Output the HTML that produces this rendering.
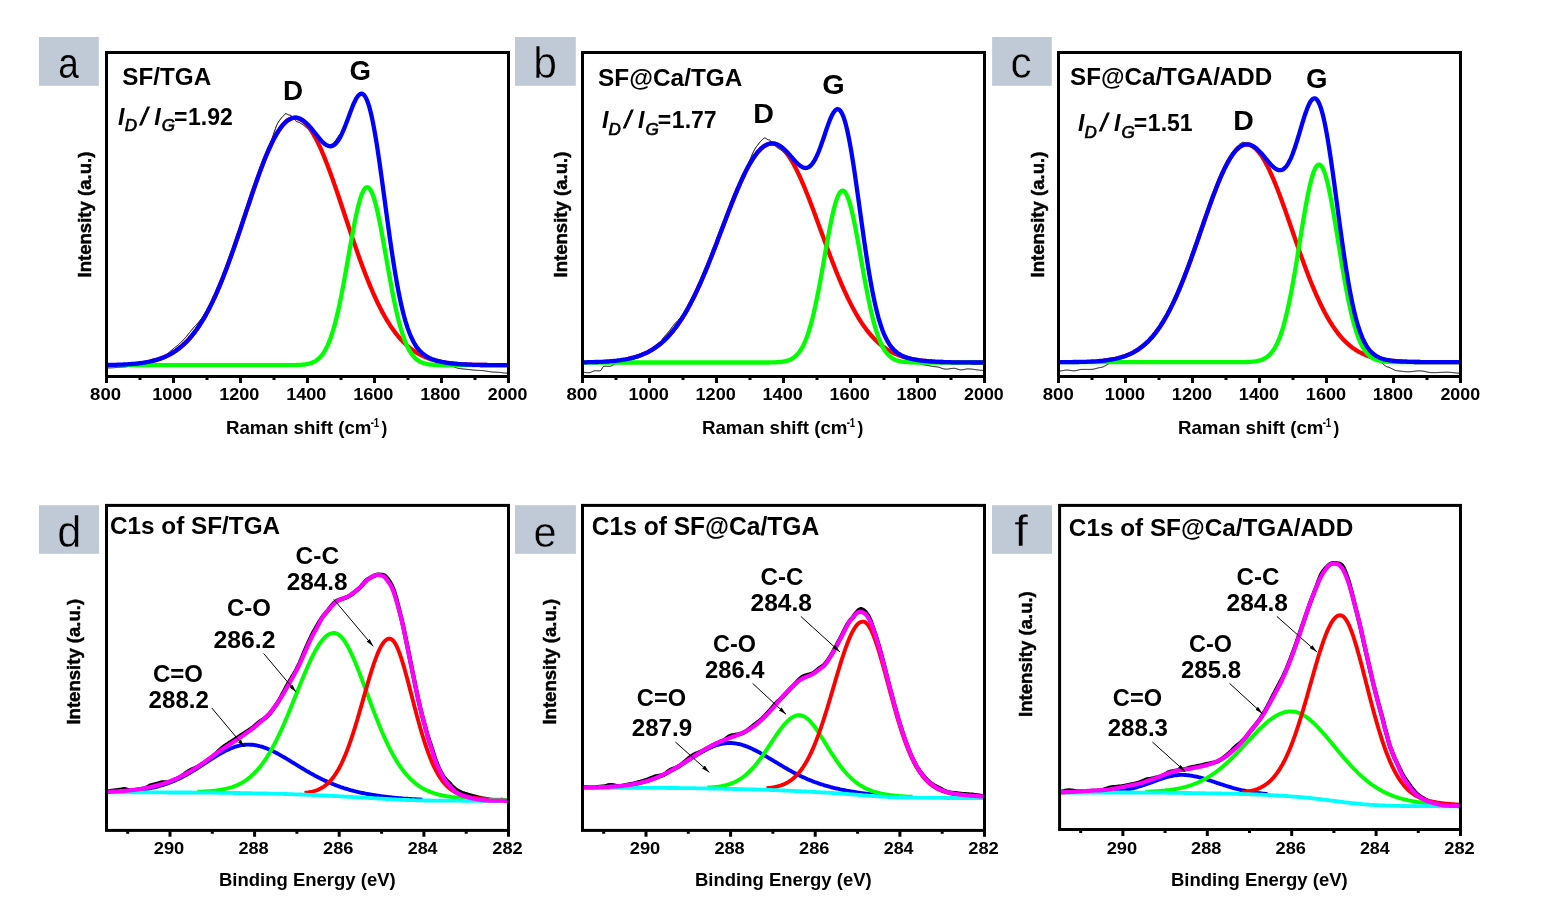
<!DOCTYPE html>
<html><head><meta charset="utf-8"><title>Raman and XPS</title>
<style>
html,body{margin:0;padding:0;background:#fff;}
svg{display:block}
text{font-family:"Liberation Sans", Arial, sans-serif;font-weight:700;fill:#000}
.lab{font-family:"Liberation Sans", Arial, sans-serif;font-weight:400}
</style></head><body>
<svg width="1545" height="907" viewBox="0 0 1545 907">
<rect width="1545" height="907" fill="#fff"/>
<clipPath id="ct0"><rect x="106.5" y="52.5" width="402.0" height="324.0"/></clipPath>
<g clip-path="url(#ct0)">
<path d="M106.5,368.0 L107.5,368.0 L108.5,367.9 L109.5,367.9 L110.5,367.9 L111.5,367.8 L112.5,367.8 L113.5,367.7 L114.5,367.6 L115.5,367.6 L116.5,367.5 L117.5,367.4 L118.5,367.4 L119.5,367.3 L120.5,367.2 L121.5,367.2 L122.5,367.1 L123.5,367.0 L124.5,367.0 L125.5,366.9 L126.5,366.8 L127.5,366.6 L128.5,366.3 L129.5,366.0 L130.5,365.5 L131.5,365.1 L132.5,364.6 L133.5,364.2 L134.5,363.9 L135.5,363.7 L136.5,363.6 L137.5,363.5 L138.5,363.4 L139.5,363.2 L140.5,363.1 L141.5,363.0 L142.5,362.8 L143.5,362.7 L144.5,362.5 L145.5,362.4 L146.5,362.2 L147.5,362.0 L148.5,361.8 L149.5,361.6 L150.5,361.4 L151.5,361.2 L152.5,360.9 L153.5,360.7 L154.5,360.4 L155.5,360.2 L156.5,359.9 L157.5,359.6 L158.5,359.2 L159.5,358.9 L160.5,358.5 L161.5,358.1 L162.5,357.6 L163.5,356.9 L164.5,356.2 L165.5,355.5 L166.5,354.7 L167.5,353.8 L168.5,352.9 L169.5,352.0 L170.5,351.1 L171.5,350.3 L172.5,349.4 L173.5,348.5 L174.5,347.7 L175.5,347.0 L176.5,346.3 L177.5,345.5 L178.5,344.7 L179.5,343.8 L180.5,342.8 L181.5,341.8 L182.5,340.8 L183.5,339.7 L184.5,338.6 L185.5,337.4 L186.5,336.3 L187.5,335.1 L188.5,333.8 L189.5,332.6 L190.5,331.4 L191.5,330.2 L192.5,329.0 L193.5,327.8 L194.5,326.7 L195.5,325.6 L196.5,324.5 L197.5,323.4 L198.5,322.3 L199.5,321.1 L200.5,319.9 L201.5,318.6 L202.5,317.2 L203.5,315.7 L204.5,314.1 L205.5,312.4 L206.5,310.8 L207.5,309.4 L208.5,308.0 L209.5,306.6 L210.5,305.2 L211.5,303.6 L212.5,301.7 L213.5,299.7 L214.5,297.5 L215.5,295.3 L216.5,293.1 L217.5,290.8 L218.5,288.4 L219.5,286.1 L220.5,283.7 L221.5,281.2 L222.5,278.7 L223.5,276.2 L224.5,273.6 L225.5,271.0 L226.5,268.4 L227.5,265.7 L228.5,263.0 L229.5,260.3 L230.5,257.5 L231.5,254.8 L232.5,252.0 L233.5,249.3 L234.5,246.7 L235.5,244.3 L236.5,241.9 L237.5,239.5 L238.5,237.1 L239.5,234.6 L240.5,232.1 L241.5,229.4 L242.5,226.6 L243.5,223.6 L244.5,220.6 L245.5,217.5 L246.5,214.4 L247.5,211.3 L248.5,208.2 L249.5,205.1 L250.5,202.0 L251.5,199.0 L252.5,195.9 L253.5,192.9 L254.5,190.0 L255.5,187.1 L256.5,184.1 L257.5,181.0 L258.5,177.8 L259.5,174.6 L260.5,171.5 L261.5,168.4 L262.5,165.4 L263.5,162.5 L264.5,159.8 L265.5,157.2 L266.5,154.2 L267.5,151.0 L268.5,147.9 L269.5,145.1 L270.5,142.7 L271.5,140.1 L272.5,137.2 L273.5,134.2 L274.5,131.2 L275.5,128.3 L276.5,125.7 L277.5,123.6 L278.5,121.9 L279.5,120.5 L280.5,119.1 L281.5,117.9 L282.5,116.8 L283.5,115.7 L284.5,114.7 L285.5,113.8 L286.5,113.8 L287.5,114.3 L288.5,114.9 L289.5,115.1 L290.5,115.0 L291.5,116.3 L292.5,117.7 L293.5,118.0 L294.5,119.0 L295.5,120.4 L296.5,121.6 L297.5,121.9 L298.5,122.2 L299.5,122.6 L300.5,123.2 L301.5,123.8 L302.5,124.5 L303.5,125.2 L304.5,126.0 L305.5,126.9 L306.5,127.7 L307.5,128.5 L308.5,129.4 L309.5,130.2 L310.5,131.2 L311.5,132.1 L312.5,133.1 L313.5,134.2 L314.5,135.4 L315.5,136.7 L316.5,137.8 L317.5,138.7 L318.5,139.6 L319.5,140.4 L320.5,141.1 L321.5,141.7 L322.5,142.4 L323.5,143.1 L324.5,143.8 L325.5,144.5 L326.5,144.9 L327.5,145.1 L328.5,145.0 L329.5,144.8 L330.5,144.5 L331.5,144.2 L332.5,143.8 L333.5,143.1 L334.5,142.0 L335.5,140.6 L336.5,139.1 L337.5,137.6 L338.5,136.1 L339.5,134.9 L340.5,133.8 L341.5,132.6 L342.5,131.3 L343.5,129.7 L344.5,127.7 L345.5,125.2 L346.5,122.6 L347.5,119.9 L348.5,117.2 L349.5,114.5 L350.5,111.8 L351.5,109.2 L352.5,106.6 L353.5,104.2 L354.5,102.0 L355.5,100.0 L356.5,98.1 L357.5,96.6 L358.5,95.4 L359.5,94.4 L360.5,93.9 L361.5,93.7 L362.5,93.9 L363.5,94.5 L364.5,95.6 L365.5,97.1 L366.5,99.1 L367.5,101.5 L368.5,104.4 L369.5,107.7 L370.5,111.5 L371.5,115.7 L372.5,120.4 L373.5,125.4 L374.5,130.8 L375.5,136.6 L376.5,142.7 L377.5,149.0 L378.5,155.7 L379.5,162.5 L380.5,169.6 L381.5,176.8 L382.5,184.1 L383.5,191.5 L384.5,198.9 L385.5,206.4 L386.5,213.8 L387.5,221.1 L388.5,228.4 L389.5,235.6 L390.5,242.6 L391.5,249.5 L392.5,256.1 L393.5,262.6 L394.5,268.9 L395.5,274.9 L396.5,280.7 L397.5,286.2 L398.5,291.5 L399.5,296.5 L400.5,301.3 L401.5,305.8 L402.5,310.0 L403.5,314.0 L404.5,317.8 L405.5,321.3 L406.5,324.5 L407.5,327.6 L408.5,330.5 L409.5,333.4 L410.5,336.4 L411.5,339.3 L412.5,342.0 L413.5,344.4 L414.5,346.5 L415.5,348.1 L416.5,349.5 L417.5,350.7 L418.5,351.7 L419.5,352.6 L420.5,353.4 L421.5,354.1 L422.5,354.7 L423.5,355.4 L424.5,356.0 L425.5,356.7 L426.5,357.1 L427.5,357.3 L428.5,357.5 L429.5,357.6 L430.5,357.7 L431.5,357.9 L432.5,358.3 L433.5,358.7 L434.5,359.1 L435.5,359.5 L436.5,359.9 L437.5,360.3 L438.5,360.7 L439.5,361.0 L440.5,361.4 L441.5,361.7 L442.5,362.0 L443.5,362.2 L444.5,362.4 L445.5,362.7 L446.5,363.3 L447.5,364.2 L448.5,365.0 L449.5,365.6 L450.5,365.8 L451.5,366.0 L452.5,366.3 L453.5,366.7 L454.5,367.1 L455.5,367.5 L456.5,367.8 L457.5,368.2 L458.5,368.4 L459.5,368.6 L460.5,368.7 L461.5,368.8 L462.5,368.9 L463.5,369.0 L464.5,369.1 L465.5,369.2 L466.5,369.3 L467.5,369.4 L468.5,369.5 L469.5,369.6 L470.5,369.7 L471.5,369.8 L472.5,370.0 L473.5,370.1 L474.5,370.1 L475.5,370.2 L476.5,370.3 L477.5,370.4 L478.5,370.4 L479.5,370.4 L480.5,370.5 L481.5,370.5 L482.5,370.6 L483.5,370.7 L484.5,370.8 L485.5,371.0 L486.5,371.1 L487.5,371.3 L488.5,371.5 L489.5,371.6 L490.5,371.8 L491.5,371.9 L492.5,372.0 L493.5,372.1 L494.5,372.1 L495.5,372.1 L496.5,372.2 L497.5,372.2 L498.5,372.3 L499.5,372.4 L500.5,372.5 L501.5,372.6 L502.5,372.7 L503.5,372.9 L504.5,373.0 L505.5,373.0 L506.5,373.1 L507.5,373.2 L508.5,373.2" fill="none" stroke="#000" stroke-width="1" stroke-linejoin="round" stroke-linecap="butt" />
<path d="M150.5,361.4 L151.5,361.2 L152.5,360.9 L153.5,360.7 L154.5,360.4 L155.5,360.2 L156.5,359.9 L157.5,359.6 L158.5,359.2 L159.5,358.9 L160.5,358.6 L161.5,358.2 L162.5,357.8 L163.5,357.4 L164.5,357.0 L165.5,356.6 L166.5,356.1 L167.5,355.6 L168.5,355.1 L169.5,354.6 L170.5,354.1 L171.5,353.5 L172.5,352.9 L173.5,352.3 L174.5,351.6 L175.5,351.0 L176.5,350.3 L177.5,349.6 L178.5,348.8 L179.5,348.0 L180.5,347.2 L181.5,346.4 L182.5,345.5 L183.5,344.6 L184.5,343.7 L185.5,342.7 L186.5,341.7 L187.5,340.7 L188.5,339.6 L189.5,338.5 L190.5,337.3 L191.5,336.2 L192.5,334.9 L193.5,333.7 L194.5,332.4 L195.5,331.0 L196.5,329.7 L197.5,328.2 L198.5,326.8 L199.5,325.3 L200.5,323.7 L201.5,322.1 L202.5,320.5 L203.5,318.8 L204.5,317.1 L205.5,315.4 L206.5,313.5 L207.5,311.7 L208.5,309.8 L209.5,307.9 L210.5,305.9 L211.5,303.9 L212.5,301.8 L213.5,299.7 L214.5,297.5 L215.5,295.3 L216.5,293.1 L217.5,290.8 L218.5,288.4 L219.5,286.1 L220.5,283.7 L221.5,281.2 L222.5,278.7 L223.5,276.2 L224.5,273.6 L225.5,271.0 L226.5,268.4 L227.5,265.7 L228.5,263.0 L229.5,260.3 L230.5,257.5 L231.5,254.8 L232.5,251.9 L233.5,249.1 L234.5,246.2 L235.5,243.3 L236.5,240.4 L237.5,237.5 L238.5,234.5 L239.5,231.6 L240.5,228.6 L241.5,225.6 L242.5,222.6 L243.5,219.6 L244.5,216.6 L245.5,213.6 L246.5,210.6 L247.5,207.6 L248.5,204.7 L249.5,201.7 L250.5,198.7 L251.5,195.8 L252.5,192.8 L253.5,189.9 L254.5,187.0 L255.5,184.1 L256.5,181.3 L257.5,178.5 L258.5,175.7 L259.5,172.9 L260.5,170.2 L261.5,167.5 L262.5,164.9 L263.5,162.3 L264.5,159.8 L265.5,157.3 L266.5,154.9 L267.5,152.5 L268.5,150.2 L269.5,148.0 L270.5,145.8 L271.5,143.7 L272.5,141.6 L273.5,139.6 L274.5,137.7 L275.5,135.9 L276.5,134.2 L277.5,132.5 L278.5,130.9 L279.5,129.4 L280.5,128.0 L281.5,126.7 L282.5,125.4 L283.5,124.3 L284.5,123.2 L285.5,122.2 L286.5,121.3 L287.5,120.6 L288.5,119.9 L289.5,119.3 L290.5,118.8 L291.5,118.4 L292.5,118.1 L293.5,117.9 L294.5,117.8 L295.5,117.8 L296.5,117.9 L297.5,118.1 L298.5,118.4 L299.5,118.8 L300.5,119.3 L301.5,119.9 L302.5,120.6 L303.5,121.4 L304.5,122.3 L305.5,123.2 L306.5,124.3 L307.5,125.5 L308.5,126.7 L309.5,128.1 L310.5,129.5 L311.5,131.0 L312.5,132.6 L313.5,134.3 L314.5,136.1 L315.5,137.9 L316.5,139.8 L317.5,141.8 L318.5,143.9 L319.5,146.0 L320.5,148.2 L321.5,150.5 L322.5,152.8 L323.5,155.2 L324.5,157.6 L325.5,160.1 L326.5,162.7 L327.5,165.3 L328.5,167.9 L329.5,170.6 L330.5,173.3 L331.5,176.1 L332.5,178.9 L333.5,181.7 L334.5,184.6 L335.5,187.5 L336.5,190.4 L337.5,193.3 L338.5,196.3 L339.5,199.2 L340.5,202.2 L341.5,205.2 L342.5,208.2 L343.5,211.2 L344.5,214.2 L345.5,217.3 L346.5,220.3 L347.5,223.3 L348.5,226.3 L349.5,229.3 L350.5,232.2 L351.5,235.2 L352.5,238.2 L353.5,241.1 L354.5,244.0 L355.5,246.9 L356.5,249.8 L357.5,252.6 L358.5,255.5 L359.5,258.3 L360.5,261.0 L361.5,263.8 L362.5,266.5 L363.5,269.1 L364.5,271.8 L365.5,274.4 L366.5,276.9 L367.5,279.5 L368.5,281.9 L369.5,284.4 L370.5,286.8 L371.5,289.2 L372.5,291.5 L373.5,293.8 L374.5,296.0 L375.5,298.2 L376.5,300.4 L377.5,302.5 L378.5,304.5 L379.5,306.6 L380.5,308.5 L381.5,310.5 L382.5,312.4 L383.5,314.2 L384.5,316.0 L385.5,317.7 L386.5,319.5 L387.5,321.1 L388.5,322.7 L389.5,324.3 L390.5,325.9 L391.5,327.4 L392.5,328.8 L393.5,330.2 L394.5,331.6 L395.5,332.9 L396.5,334.2 L397.5,335.4 L398.5,336.7 L399.5,337.8 L400.5,339.0 L401.5,340.1 L402.5,341.1 L403.5,342.2 L404.5,343.1 L405.5,344.1 L406.5,345.0 L407.5,345.9 L408.5,346.8 L409.5,347.6 L410.5,348.4 L411.5,349.2 L412.5,349.9 L413.5,350.6 L414.5,351.3 L415.5,352.0 L416.5,352.6 L417.5,353.2 L418.5,353.8 L419.5,354.3 L420.5,354.9 L421.5,355.4 L422.5,355.9 L423.5,356.3 L424.5,356.8 L425.5,357.2 L426.5,357.6 L427.5,358.0 L428.5,358.4 L429.5,358.8 L430.5,359.1 L431.5,359.4 L432.5,359.7 L433.5,360.0 L434.5,360.3 L435.5,360.6 L436.5,360.8 L437.5,361.1 L438.5,361.3 L439.5,361.5 L440.5,361.7 L441.5,361.9 L442.5,362.1 L443.5,362.3 L444.5,362.5 L445.5,362.6 L446.5,362.8 L447.5,362.9 L448.5,363.1 L449.5,363.2 L450.5,363.3 L451.5,363.4 L452.5,363.5 L453.5,363.6 L454.5,363.7 L455.5,363.8 L456.5,363.9 L457.5,364.0 L458.5,364.1 L459.5,364.1 L460.5,364.2 L461.5,364.3 L462.5,364.3 L463.5,364.4 L464.5,364.4 L465.5,364.5 L466.5,364.5 L467.5,364.6 L468.5,364.6 L469.5,364.7 L470.5,364.7 L471.5,364.7 L472.5,364.8 L473.5,364.8 L474.5,364.8 L475.5,364.9 L476.5,364.9 L477.5,364.9 L478.5,364.9 L479.5,364.9 L480.5,365.0 L481.5,365.0 L482.5,365.0 L483.5,365.0 L484.5,365.0 L485.5,365.0 L486.5,365.0 L487.5,365.1 L488.5,365.1 L489.5,365.1 L490.5,365.1 L491.5,365.1 L492.5,365.1 L493.5,365.1 L494.5,365.1 L495.5,365.1 L496.5,365.1 L497.5,365.1 L498.5,365.1 L499.5,365.1 L500.5,365.2 L501.5,365.2 L502.5,365.2 L503.5,365.2 L504.5,365.2 L505.5,365.2 L506.5,365.2 L507.5,365.2 L508.5,365.2" fill="none" stroke="#ff0000" stroke-width="4.3" stroke-linejoin="round" stroke-linecap="butt" />
<path d="M106.5,365.2 L107.5,365.2 L108.5,365.2 L109.5,365.2 L110.5,365.2 L111.5,365.2 L112.5,365.2 L113.5,365.2 L114.5,365.2 L115.5,365.2 L116.5,365.2 L117.5,365.2 L118.5,365.2 L119.5,365.2 L120.5,365.2 L121.5,365.2 L122.5,365.2 L123.5,365.2 L124.5,365.2 L125.5,365.2 L126.5,365.2 L127.5,365.2 L128.5,365.2 L129.5,365.2 L130.5,365.2 L131.5,365.2 L132.5,365.2 L133.5,365.2 L134.5,365.2 L135.5,365.2 L136.5,365.2 L137.5,365.2 L138.5,365.2 L139.5,365.2 L140.5,365.2 L141.5,365.2 L142.5,365.2 L143.5,365.2 L144.5,365.2 L145.5,365.2 L146.5,365.2 L147.5,365.2 L148.5,365.2 L149.5,365.2 L150.5,365.2 L151.5,365.2 L152.5,365.2 L153.5,365.2 L154.5,365.2 L155.5,365.2 L156.5,365.2 L157.5,365.2 L158.5,365.2 L159.5,365.2 L160.5,365.2 L161.5,365.2 L162.5,365.2 L163.5,365.2 L164.5,365.2 L165.5,365.2 L166.5,365.2 L167.5,365.2 L168.5,365.2 L169.5,365.2 L170.5,365.2 L171.5,365.2 L172.5,365.2 L173.5,365.2 L174.5,365.2 L175.5,365.2 L176.5,365.2 L177.5,365.2 L178.5,365.2 L179.5,365.2 L180.5,365.2 L181.5,365.2 L182.5,365.2 L183.5,365.2 L184.5,365.2 L185.5,365.2 L186.5,365.2 L187.5,365.2 L188.5,365.2 L189.5,365.2 L190.5,365.2 L191.5,365.2 L192.5,365.2 L193.5,365.2 L194.5,365.2 L195.5,365.2 L196.5,365.2 L197.5,365.2 L198.5,365.2 L199.5,365.2 L200.5,365.2 L201.5,365.2 L202.5,365.2 L203.5,365.2 L204.5,365.2 L205.5,365.2 L206.5,365.2 L207.5,365.2 L208.5,365.2 L209.5,365.2 L210.5,365.2 L211.5,365.2 L212.5,365.2 L213.5,365.2 L214.5,365.2 L215.5,365.2 L216.5,365.2 L217.5,365.2 L218.5,365.2 L219.5,365.2 L220.5,365.2 L221.5,365.2 L222.5,365.2 L223.5,365.2 L224.5,365.2 L225.5,365.2 L226.5,365.2 L227.5,365.2 L228.5,365.2 L229.5,365.2 L230.5,365.2 L231.5,365.2 L232.5,365.2 L233.5,365.2 L234.5,365.2 L235.5,365.2 L236.5,365.2 L237.5,365.2 L238.5,365.2 L239.5,365.2 L240.5,365.2 L241.5,365.2 L242.5,365.2 L243.5,365.2 L244.5,365.2 L245.5,365.2 L246.5,365.2 L247.5,365.2 L248.5,365.2 L249.5,365.2 L250.5,365.2 L251.5,365.2 L252.5,365.2 L253.5,365.2 L254.5,365.2 L255.5,365.2 L256.5,365.2 L257.5,365.2 L258.5,365.2 L259.5,365.2 L260.5,365.2 L261.5,365.2 L262.5,365.2 L263.5,365.2 L264.5,365.2 L265.5,365.2 L266.5,365.2 L267.5,365.2 L268.5,365.2 L269.5,365.2 L270.5,365.2 L271.5,365.2 L272.5,365.2 L273.5,365.2 L274.5,365.2 L275.5,365.2 L276.5,365.2 L277.5,365.2 L278.5,365.2 L279.5,365.2 L280.5,365.2 L281.5,365.2 L282.5,365.2 L283.5,365.2 L284.5,365.2 L285.5,365.2 L286.5,365.2 L287.5,365.2 L288.5,365.2 L289.5,365.2 L290.5,365.2 L291.5,365.1 L292.5,365.1 L293.5,365.1 L294.5,365.1 L295.5,365.1 L296.5,365.0 L297.5,365.0 L298.5,365.0 L299.5,364.9 L300.5,364.8 L301.5,364.8 L302.5,364.7 L303.5,364.6 L304.5,364.5 L305.5,364.3 L306.5,364.2 L307.5,364.0 L308.5,363.8 L309.5,363.5 L310.5,363.2 L311.5,362.9 L312.5,362.5 L313.5,362.1 L314.5,361.6 L315.5,361.0 L316.5,360.3 L317.5,359.6 L318.5,358.8 L319.5,357.8 L320.5,356.8 L321.5,355.6 L322.5,354.3 L323.5,352.9 L324.5,351.3 L325.5,349.6 L326.5,347.7 L327.5,345.6 L328.5,343.3 L329.5,340.9 L330.5,338.2 L331.5,335.3 L332.5,332.2 L333.5,328.9 L334.5,325.4 L335.5,321.6 L336.5,317.6 L337.5,313.4 L338.5,309.0 L339.5,304.4 L340.5,299.6 L341.5,294.6 L342.5,289.4 L343.5,284.1 L344.5,278.7 L345.5,273.1 L346.5,267.5 L347.5,261.8 L348.5,256.1 L349.5,250.4 L350.5,244.7 L351.5,239.1 L352.5,233.7 L353.5,228.3 L354.5,223.2 L355.5,218.2 L356.5,213.6 L357.5,209.2 L358.5,205.1 L359.5,201.4 L360.5,198.0 L361.5,195.1 L362.5,192.6 L363.5,190.6 L364.5,189.0 L365.5,187.9 L366.5,187.3 L367.5,187.2 L368.5,187.6 L369.5,188.5 L370.5,189.9 L371.5,191.7 L372.5,194.1 L373.5,196.8 L374.5,200.0 L375.5,203.6 L376.5,207.5 L377.5,211.8 L378.5,216.3 L379.5,221.2 L380.5,226.2 L381.5,231.5 L382.5,236.9 L383.5,242.5 L384.5,248.1 L385.5,253.8 L386.5,259.5 L387.5,265.2 L388.5,270.9 L389.5,276.5 L390.5,281.9 L391.5,287.3 L392.5,292.5 L393.5,297.6 L394.5,302.5 L395.5,307.2 L396.5,311.7 L397.5,316.0 L398.5,320.0 L399.5,323.9 L400.5,327.5 L401.5,330.9 L402.5,334.1 L403.5,337.1 L404.5,339.8 L405.5,342.4 L406.5,344.7 L407.5,346.9 L408.5,348.8 L409.5,350.7 L410.5,352.3 L411.5,353.8 L412.5,355.1 L413.5,356.3 L414.5,357.4 L415.5,358.4 L416.5,359.3 L417.5,360.0 L418.5,360.7 L419.5,361.3 L420.5,361.9 L421.5,362.3 L422.5,362.7 L423.5,363.1 L424.5,363.4 L425.5,363.7 L426.5,363.9 L427.5,364.1 L428.5,364.3 L429.5,364.4 L430.5,364.5 L431.5,364.7 L432.5,364.7 L433.5,364.8 L434.5,364.9 L435.5,364.9 L436.5,365.0 L437.5,365.0 L438.5,365.1 L439.5,365.1 L440.5,365.1 L441.5,365.1 L442.5,365.1 L443.5,365.1 L444.5,365.2 L445.5,365.2 L446.5,365.2 L447.5,365.2 L448.5,365.2 L449.5,365.2 L450.5,365.2 L451.5,365.2 L452.5,365.2 L453.5,365.2 L454.5,365.2 L455.5,365.2 L456.5,365.2 L457.5,365.2 L458.5,365.2 L459.5,365.2 L460.5,365.2 L461.5,365.2 L462.5,365.2 L463.5,365.2 L464.5,365.2 L465.5,365.2 L466.5,365.2 L467.5,365.2 L468.5,365.2 L469.5,365.2 L470.5,365.2 L471.5,365.2 L472.5,365.2 L473.5,365.2 L474.5,365.2 L475.5,365.2 L476.5,365.2 L477.5,365.2 L478.5,365.2 L479.5,365.2 L480.5,365.2 L481.5,365.2 L482.5,365.2 L483.5,365.2 L484.5,365.2 L485.5,365.2 L486.5,365.2 L487.5,365.2 L488.5,365.2 L489.5,365.2 L490.5,365.2 L491.5,365.2 L492.5,365.2 L493.5,365.2 L494.5,365.2 L495.5,365.2 L496.5,365.2 L497.5,365.2 L498.5,365.2 L499.5,365.2 L500.5,365.2 L501.5,365.2 L502.5,365.2 L503.5,365.2 L504.5,365.2 L505.5,365.2 L506.5,365.2 L507.5,365.2 L508.5,365.2" fill="none" stroke="#00ff00" stroke-width="4.3" stroke-linejoin="round" stroke-linecap="butt" />
<path d="M106.5,365.0 L107.5,365.0 L108.5,365.0 L109.5,364.9 L110.5,364.9 L111.5,364.9 L112.5,364.9 L113.5,364.9 L114.5,364.8 L115.5,364.8 L116.5,364.8 L117.5,364.7 L118.5,364.7 L119.5,364.7 L120.5,364.6 L121.5,364.6 L122.5,364.6 L123.5,364.5 L124.5,364.5 L125.5,364.4 L126.5,364.4 L127.5,364.3 L128.5,364.2 L129.5,364.2 L130.5,364.1 L131.5,364.0 L132.5,363.9 L133.5,363.9 L134.5,363.8 L135.5,363.7 L136.5,363.6 L137.5,363.5 L138.5,363.4 L139.5,363.2 L140.5,363.1 L141.5,363.0 L142.5,362.8 L143.5,362.7 L144.5,362.5 L145.5,362.4 L146.5,362.2 L147.5,362.0 L148.5,361.8 L149.5,361.6 L150.5,361.4 L151.5,361.2 L152.5,360.9 L153.5,360.7 L154.5,360.4 L155.5,360.2 L156.5,359.9 L157.5,359.6 L158.5,359.2 L159.5,358.9 L160.5,358.6 L161.5,358.2 L162.5,357.8 L163.5,357.4 L164.5,357.0 L165.5,356.6 L166.5,356.1 L167.5,355.6 L168.5,355.1 L169.5,354.6 L170.5,354.1 L171.5,353.5 L172.5,352.9 L173.5,352.3 L174.5,351.6 L175.5,351.0 L176.5,350.3 L177.5,349.6 L178.5,348.8 L179.5,348.0 L180.5,347.2 L181.5,346.4 L182.5,345.5 L183.5,344.6 L184.5,343.7 L185.5,342.7 L186.5,341.7 L187.5,340.7 L188.5,339.6 L189.5,338.5 L190.5,337.3 L191.5,336.2 L192.5,334.9 L193.5,333.7 L194.5,332.4 L195.5,331.0 L196.5,329.7 L197.5,328.2 L198.5,326.8 L199.5,325.3 L200.5,323.7 L201.5,322.1 L202.5,320.5 L203.5,318.8 L204.5,317.1 L205.5,315.4 L206.5,313.5 L207.5,311.7 L208.5,309.8 L209.5,307.9 L210.5,305.9 L211.5,303.9 L212.5,301.8 L213.5,299.7 L214.5,297.5 L215.5,295.3 L216.5,293.1 L217.5,290.8 L218.5,288.4 L219.5,286.1 L220.5,283.7 L221.5,281.2 L222.5,278.7 L223.5,276.2 L224.5,273.6 L225.5,271.0 L226.5,268.4 L227.5,265.7 L228.5,263.0 L229.5,260.3 L230.5,257.5 L231.5,254.8 L232.5,251.9 L233.5,249.1 L234.5,246.2 L235.5,243.3 L236.5,240.4 L237.5,237.5 L238.5,234.5 L239.5,231.6 L240.5,228.6 L241.5,225.6 L242.5,222.6 L243.5,219.6 L244.5,216.6 L245.5,213.6 L246.5,210.6 L247.5,207.6 L248.5,204.7 L249.5,201.7 L250.5,198.7 L251.5,195.8 L252.5,192.8 L253.5,189.9 L254.5,187.0 L255.5,184.1 L256.5,181.3 L257.5,178.5 L258.5,175.7 L259.5,172.9 L260.5,170.2 L261.5,167.5 L262.5,164.9 L263.5,162.3 L264.5,159.8 L265.5,157.3 L266.5,154.9 L267.5,152.5 L268.5,150.2 L269.5,148.0 L270.5,145.8 L271.5,143.7 L272.5,141.6 L273.5,139.6 L274.5,137.7 L275.5,135.9 L276.5,134.2 L277.5,132.5 L278.5,130.9 L279.5,129.4 L280.5,128.0 L281.5,126.6 L282.5,125.4 L283.5,124.2 L284.5,123.2 L285.5,122.2 L286.5,121.3 L287.5,120.5 L288.5,119.9 L289.5,119.3 L290.5,118.8 L291.5,118.3 L292.5,118.0 L293.5,117.8 L294.5,117.7 L295.5,117.7 L296.5,117.7 L297.5,117.9 L298.5,118.2 L299.5,118.5 L300.5,119.0 L301.5,119.5 L302.5,120.1 L303.5,120.8 L304.5,121.5 L305.5,122.4 L306.5,123.3 L307.5,124.3 L308.5,125.3 L309.5,126.4 L310.5,127.5 L311.5,128.7 L312.5,129.9 L313.5,131.2 L314.5,132.4 L315.5,133.7 L316.5,134.9 L317.5,136.2 L318.5,137.4 L319.5,138.6 L320.5,139.8 L321.5,140.9 L322.5,141.9 L323.5,142.9 L324.5,143.7 L325.5,144.5 L326.5,145.1 L327.5,145.6 L328.5,146.0 L329.5,146.2 L330.5,146.3 L331.5,146.2 L332.5,145.9 L333.5,145.4 L334.5,144.7 L335.5,143.9 L336.5,142.8 L337.5,141.5 L338.5,140.1 L339.5,138.4 L340.5,136.6 L341.5,134.6 L342.5,132.4 L343.5,130.1 L344.5,127.7 L345.5,125.2 L346.5,122.6 L347.5,119.9 L348.5,117.2 L349.5,114.5 L350.5,111.8 L351.5,109.2 L352.5,106.6 L353.5,104.2 L354.5,102.0 L355.5,100.0 L356.5,98.1 L357.5,96.6 L358.5,95.4 L359.5,94.4 L360.5,93.9 L361.5,93.7 L362.5,93.9 L363.5,94.5 L364.5,95.6 L365.5,97.1 L366.5,99.1 L367.5,101.5 L368.5,104.4 L369.5,107.7 L370.5,111.5 L371.5,115.7 L372.5,120.4 L373.5,125.4 L374.5,130.8 L375.5,136.6 L376.5,142.7 L377.5,149.0 L378.5,155.7 L379.5,162.5 L380.5,169.6 L381.5,176.8 L382.5,184.1 L383.5,191.5 L384.5,198.9 L385.5,206.4 L386.5,213.8 L387.5,221.1 L388.5,228.4 L389.5,235.6 L390.5,242.6 L391.5,249.5 L392.5,256.1 L393.5,262.6 L394.5,268.9 L395.5,274.9 L396.5,280.7 L397.5,286.2 L398.5,291.5 L399.5,296.5 L400.5,301.3 L401.5,305.8 L402.5,310.0 L403.5,314.0 L404.5,317.8 L405.5,321.3 L406.5,324.5 L407.5,327.6 L408.5,330.4 L409.5,333.1 L410.5,335.5 L411.5,337.8 L412.5,339.8 L413.5,341.8 L414.5,343.5 L415.5,345.2 L416.5,346.7 L417.5,348.0 L418.5,349.3 L419.5,350.5 L420.5,351.5 L421.5,352.5 L422.5,353.4 L423.5,354.2 L424.5,355.0 L425.5,355.7 L426.5,356.3 L427.5,356.9 L428.5,357.5 L429.5,358.0 L430.5,358.4 L431.5,358.9 L432.5,359.3 L433.5,359.6 L434.5,360.0 L435.5,360.3 L436.5,360.6 L437.5,360.9 L438.5,361.2 L439.5,361.4 L440.5,361.6 L441.5,361.9 L442.5,362.1 L443.5,362.2 L444.5,362.4 L445.5,362.6 L446.5,362.8 L447.5,362.9 L448.5,363.0 L449.5,363.2 L450.5,363.3 L451.5,363.4 L452.5,363.5 L453.5,363.6 L454.5,363.7 L455.5,363.8 L456.5,363.9 L457.5,364.0 L458.5,364.1 L459.5,364.1 L460.5,364.2 L461.5,364.3 L462.5,364.3 L463.5,364.4 L464.5,364.4 L465.5,364.5 L466.5,364.5 L467.5,364.6 L468.5,364.6 L469.5,364.7 L470.5,364.7 L471.5,364.7 L472.5,364.8 L473.5,364.8 L474.5,364.8 L475.5,364.9 L476.5,364.9 L477.5,364.9 L478.5,364.9 L479.5,364.9 L480.5,365.0 L481.5,365.0 L482.5,365.0 L483.5,365.0 L484.5,365.0 L485.5,365.0 L486.5,365.0 L487.5,365.1 L488.5,365.1 L489.5,365.1 L490.5,365.1 L491.5,365.1 L492.5,365.1 L493.5,365.1 L494.5,365.1 L495.5,365.1 L496.5,365.1 L497.5,365.1 L498.5,365.1 L499.5,365.1 L500.5,365.2 L501.5,365.2 L502.5,365.2 L503.5,365.2 L504.5,365.2 L505.5,365.2 L506.5,365.2 L507.5,365.2 L508.5,365.2" fill="none" stroke="#0000ff" stroke-width="4.3" stroke-linejoin="round" stroke-linecap="butt" />
</g>
<rect x="106.5" y="52.5" width="402.0" height="324.0" fill="none" stroke="#000" stroke-width="3"/>
<path d="M106.5,377.5V382.9M173.5,377.5V382.9M240.5,377.5V382.9M307.5,377.5V382.9M374.5,377.5V382.9M441.5,377.5V382.9M508.5,377.5V382.9M140.0,377.5V379.9M207.0,377.5V379.9M274.0,377.5V379.9M341.0,377.5V379.9M408.0,377.5V379.9M475.0,377.5V379.9" stroke="#000" stroke-width="3" fill="none"/>
<rect x="39" y="37" width="59.8" height="48.8" fill="#c0cad7"/>
<text transform="translate(68.5,78.4) scale(0.86,1)" font-size="43" text-anchor="middle" class="lab" stroke="#c0cad7" stroke-width="0.15">a</text>
<text x="122.33" y="85.00" font-size="24" textLength="88.85" lengthAdjust="spacingAndGlyphs" >SF/TGA</text>
<text><tspan x="118.10" y="124.70" font-size="23" font-style="italic">I</tspan><tspan x="124.69" y="131.40" font-size="17" font-style="italic" font-weight="400" stroke="#000" stroke-width="0.7">D</tspan><tspan x="140.90" y="124.70" font-size="23" font-style="italic" font-weight="400" stroke="#000" stroke-width="1.0">/</tspan><tspan x="154.20" y="124.70" font-size="23" font-style="italic">I</tspan><tspan x="161.79" y="131.40" font-size="17" font-style="italic" font-weight="400" stroke="#000" stroke-width="0.7">G</tspan><tspan x="173.88" y="124.70" font-size="23">=</tspan><tspan x="188.06" y="124.70" font-size="23">1.92</tspan></text>
<text x="282.99" y="100.40" font-size="27.5" textLength="20.12" lengthAdjust="spacingAndGlyphs" >D</text>
<text x="349.40" y="80.00" font-size="27.5" textLength="21.47" lengthAdjust="spacingAndGlyphs" >G</text>
<g transform="translate(91,276.3) rotate(-90)">
<text x="-1.21" y="0.00" font-size="18" textLength="125.91" lengthAdjust="spacingAndGlyphs" stroke="#000" stroke-width="0.45">Intensity (a.u.)</text>
</g>
<text x="90.09" y="400.30" font-size="17" textLength="30.97" lengthAdjust="spacingAndGlyphs" >800</text>
<text x="152.17" y="400.30" font-size="17" textLength="40.25" lengthAdjust="spacingAndGlyphs" >1000</text>
<text x="219.17" y="400.30" font-size="17" textLength="40.25" lengthAdjust="spacingAndGlyphs" >1200</text>
<text x="286.17" y="400.30" font-size="17" textLength="40.25" lengthAdjust="spacingAndGlyphs" >1400</text>
<text x="353.17" y="400.30" font-size="17" textLength="40.25" lengthAdjust="spacingAndGlyphs" >1600</text>
<text x="420.17" y="400.30" font-size="17" textLength="40.25" lengthAdjust="spacingAndGlyphs" >1800</text>
<text x="487.72" y="400.30" font-size="17" textLength="39.69" lengthAdjust="spacingAndGlyphs" >2000</text>
<text x="225.98" y="433.50" font-size="17.8" textLength="145.48" lengthAdjust="spacingAndGlyphs" >Raman shift (cm</text>
<text x="370.64" y="426.50" font-size="12.5" textLength="8.62" lengthAdjust="spacingAndGlyphs" >-1</text>
<text x="381.50" y="433.50" font-size="17.8" textLength="5.84" lengthAdjust="spacingAndGlyphs" >)</text>
<clipPath id="ct476"><rect x="582.5" y="52.5" width="402.0" height="324.0"/></clipPath>
<g clip-path="url(#ct476)">
<path d="M582.5,372.3 L583.5,372.4 L584.5,372.4 L585.5,372.5 L586.5,372.6 L587.5,372.7 L588.5,372.7 L589.5,372.7 L590.5,372.4 L591.5,372.0 L592.5,371.5 L593.5,371.1 L594.5,370.8 L595.5,370.7 L596.5,370.8 L597.5,370.8 L598.5,370.9 L599.5,370.9 L600.5,370.7 L601.5,369.4 L602.5,367.7 L603.5,366.4 L604.5,366.2 L605.5,366.2 L606.5,366.2 L607.5,366.3 L608.5,366.3 L609.5,366.3 L610.5,366.2 L611.5,365.8 L612.5,365.3 L613.5,364.7 L614.5,364.2 L615.5,363.8 L616.5,363.6 L617.5,363.5 L618.5,363.2 L619.5,362.9 L620.5,362.5 L621.5,362.1 L622.5,361.8 L623.5,361.4 L624.5,361.1 L625.5,360.9 L626.5,360.7 L627.5,360.4 L628.5,360.1 L629.5,359.8 L630.5,359.5 L631.5,359.1 L632.5,358.7 L633.5,358.3 L634.5,357.9 L635.5,357.4 L636.5,357.0 L637.5,356.6 L638.5,356.1 L639.5,355.7 L640.5,355.3 L641.5,354.9 L642.5,354.5 L643.5,354.1 L644.5,353.7 L645.5,353.2 L646.5,352.8 L647.5,352.3 L648.5,351.8 L649.5,351.2 L650.5,350.7 L651.5,350.1 L652.5,349.5 L653.5,348.8 L654.5,348.2 L655.5,347.5 L656.5,346.8 L657.5,345.8 L658.5,344.7 L659.5,343.4 L660.5,342.0 L661.5,340.6 L662.5,339.1 L663.5,337.7 L664.5,336.4 L665.5,335.2 L666.5,334.2 L667.5,333.1 L668.5,331.9 L669.5,330.6 L670.5,329.3 L671.5,328.0 L672.5,326.6 L673.5,325.3 L674.5,324.1 L675.5,322.9 L676.5,321.9 L677.5,320.8 L678.5,319.9 L679.5,318.9 L680.5,317.8 L681.5,316.6 L682.5,315.3 L683.5,313.9 L684.5,312.3 L685.5,310.8 L686.5,309.4 L687.5,308.1 L688.5,306.7 L689.5,305.2 L690.5,303.5 L691.5,301.6 L692.5,299.7 L693.5,297.7 L694.5,295.7 L695.5,293.6 L696.5,291.5 L697.5,289.4 L698.5,287.2 L699.5,285.0 L700.5,282.8 L701.5,280.5 L702.5,278.2 L703.5,275.9 L704.5,273.5 L705.5,271.1 L706.5,268.7 L707.5,266.3 L708.5,263.8 L709.5,261.3 L710.5,258.8 L711.5,256.3 L712.5,253.7 L713.5,251.1 L714.5,248.6 L715.5,246.0 L716.5,243.4 L717.5,240.7 L718.5,238.1 L719.5,235.5 L720.5,232.8 L721.5,230.2 L722.5,227.6 L723.5,224.9 L724.5,222.3 L725.5,219.7 L726.5,217.0 L727.5,214.4 L728.5,211.8 L729.5,209.2 L730.5,206.7 L731.5,204.1 L732.5,201.6 L733.5,199.1 L734.5,196.6 L735.5,194.2 L736.5,191.8 L737.5,189.4 L738.5,187.0 L739.5,184.6 L740.5,182.0 L741.5,179.5 L742.5,176.9 L743.5,174.4 L744.5,172.1 L745.5,169.9 L746.5,167.9 L747.5,165.7 L748.5,163.4 L749.5,160.9 L750.5,158.5 L751.5,156.1 L752.5,153.8 L753.5,151.6 L754.5,149.7 L755.5,148.0 L756.5,146.6 L757.5,145.3 L758.5,144.0 L759.5,142.7 L760.5,141.5 L761.5,140.4 L762.5,139.5 L763.5,138.6 L764.5,138.0 L765.5,138.2 L766.5,138.8 L767.5,139.5 L768.5,139.9 L769.5,139.9 L770.5,140.8 L771.5,142.2 L772.5,143.2 L773.5,143.6 L774.5,144.4 L775.5,145.6 L776.5,146.9 L777.5,148.0 L778.5,148.6 L779.5,149.2 L780.5,149.8 L781.5,150.5 L782.5,151.3 L783.5,152.1 L784.5,153.0 L785.5,154.0 L786.5,155.0 L787.5,155.8 L788.5,156.6 L789.5,157.3 L790.5,157.9 L791.5,158.5 L792.5,159.1 L793.5,159.8 L794.5,160.6 L795.5,161.5 L796.5,162.5 L797.5,163.5 L798.5,164.4 L799.5,165.3 L800.5,166.0 L801.5,166.7 L802.5,167.2 L803.5,167.6 L804.5,167.9 L805.5,168.0 L806.5,167.9 L807.5,167.6 L808.5,167.2 L809.5,166.6 L810.5,165.8 L811.5,164.8 L812.5,163.5 L813.5,162.1 L814.5,160.4 L815.5,158.6 L816.5,156.6 L817.5,154.4 L818.5,152.0 L819.5,149.4 L820.5,146.8 L821.5,144.0 L822.5,141.1 L823.5,138.2 L824.5,135.2 L825.5,132.2 L826.5,129.3 L827.5,126.4 L828.5,123.6 L829.5,121.0 L830.5,118.5 L831.5,116.3 L832.5,114.3 L833.5,112.6 L834.5,111.2 L835.5,110.1 L836.5,109.4 L837.5,109.2 L838.5,109.3 L839.5,109.9 L840.5,111.0 L841.5,112.5 L842.5,114.5 L843.5,116.9 L844.5,119.9 L845.5,123.3 L846.5,127.2 L847.5,131.5 L848.5,136.2 L849.5,141.3 L850.5,146.8 L851.5,152.6 L852.5,158.8 L853.5,165.2 L854.5,171.8 L855.5,178.7 L856.5,185.7 L857.5,192.8 L858.5,200.0 L859.5,207.3 L860.5,214.5 L861.5,221.8 L862.5,228.9 L863.5,236.0 L864.5,243.0 L865.5,249.8 L866.5,256.4 L867.5,262.9 L868.5,269.1 L869.5,275.1 L870.5,280.9 L871.5,286.4 L872.5,291.7 L873.5,296.7 L874.5,301.4 L875.5,305.9 L876.5,310.1 L877.5,314.0 L878.5,317.8 L879.5,321.2 L880.5,324.4 L881.5,327.4 L882.5,330.2 L883.5,332.8 L884.5,335.2 L885.5,337.7 L886.5,340.2 L887.5,342.7 L888.5,345.0 L889.5,347.1 L890.5,348.8 L891.5,350.1 L892.5,351.2 L893.5,352.1 L894.5,352.8 L895.5,353.5 L896.5,354.0 L897.5,354.5 L898.5,354.9 L899.5,355.3 L900.5,355.8 L901.5,356.3 L902.5,356.7 L903.5,357.0 L904.5,357.2 L905.5,357.4 L906.5,357.5 L907.5,357.8 L908.5,358.1 L909.5,358.8 L910.5,359.6 L911.5,360.4 L912.5,361.0 L913.5,361.3 L914.5,361.6 L915.5,362.0 L916.5,362.3 L917.5,362.8 L918.5,363.2 L919.5,363.6 L920.5,364.0 L921.5,364.3 L922.5,364.6 L923.5,364.8 L924.5,364.9 L925.5,365.1 L926.5,365.2 L927.5,365.4 L928.5,365.6 L929.5,365.8 L930.5,366.0 L931.5,366.2 L932.5,366.4 L933.5,366.5 L934.5,366.7 L935.5,366.7 L936.5,366.8 L937.5,367.0 L938.5,367.2 L939.5,367.5 L940.5,367.8 L941.5,368.2 L942.5,368.5 L943.5,368.8 L944.5,369.0 L945.5,369.1 L946.5,369.2 L947.5,369.1 L948.5,369.0 L949.5,368.8 L950.5,368.7 L951.5,368.5 L952.5,368.4 L953.5,368.3 L954.5,368.3 L955.5,368.5 L956.5,368.8 L957.5,369.1 L958.5,369.4 L959.5,369.7 L960.5,369.9 L961.5,369.9 L962.5,369.8 L963.5,369.6 L964.5,369.4 L965.5,369.2 L966.5,369.0 L967.5,368.9 L968.5,368.9 L969.5,369.0 L970.5,369.0 L971.5,369.1 L972.5,369.2 L973.5,369.3 L974.5,369.5 L975.5,369.6 L976.5,369.8 L977.5,369.9 L978.5,370.0 L979.5,370.1 L980.5,370.3 L981.5,370.3 L982.5,370.4 L983.5,370.5 L984.5,370.5" fill="none" stroke="#000" stroke-width="1" stroke-linejoin="round" stroke-linecap="butt" />
<path d="M626.5,359.2 L627.5,359.0 L628.5,358.8 L629.5,358.5 L630.5,358.3 L631.5,358.1 L632.5,357.8 L633.5,357.6 L634.5,357.3 L635.5,357.0 L636.5,356.7 L637.5,356.4 L638.5,356.0 L639.5,355.7 L640.5,355.3 L641.5,354.9 L642.5,354.5 L643.5,354.1 L644.5,353.7 L645.5,353.2 L646.5,352.8 L647.5,352.3 L648.5,351.8 L649.5,351.2 L650.5,350.7 L651.5,350.1 L652.5,349.5 L653.5,348.8 L654.5,348.2 L655.5,347.5 L656.5,346.8 L657.5,346.1 L658.5,345.3 L659.5,344.5 L660.5,343.7 L661.5,342.9 L662.5,342.0 L663.5,341.1 L664.5,340.2 L665.5,339.2 L666.5,338.2 L667.5,337.2 L668.5,336.1 L669.5,335.0 L670.5,333.9 L671.5,332.7 L672.5,331.5 L673.5,330.3 L674.5,329.0 L675.5,327.7 L676.5,326.4 L677.5,325.0 L678.5,323.6 L679.5,322.1 L680.5,320.6 L681.5,319.1 L682.5,317.5 L683.5,315.9 L684.5,314.3 L685.5,312.6 L686.5,310.9 L687.5,309.1 L688.5,307.3 L689.5,305.4 L690.5,303.6 L691.5,301.6 L692.5,299.7 L693.5,297.7 L694.5,295.7 L695.5,293.6 L696.5,291.5 L697.5,289.4 L698.5,287.2 L699.5,285.0 L700.5,282.8 L701.5,280.5 L702.5,278.2 L703.5,275.9 L704.5,273.5 L705.5,271.1 L706.5,268.7 L707.5,266.3 L708.5,263.8 L709.5,261.3 L710.5,258.8 L711.5,256.3 L712.5,253.7 L713.5,251.1 L714.5,248.6 L715.5,246.0 L716.5,243.4 L717.5,240.7 L718.5,238.1 L719.5,235.5 L720.5,232.8 L721.5,230.2 L722.5,227.6 L723.5,224.9 L724.5,222.3 L725.5,219.7 L726.5,217.0 L727.5,214.4 L728.5,211.8 L729.5,209.2 L730.5,206.7 L731.5,204.1 L732.5,201.6 L733.5,199.1 L734.5,196.6 L735.5,194.2 L736.5,191.8 L737.5,189.4 L738.5,187.1 L739.5,184.8 L740.5,182.5 L741.5,180.3 L742.5,178.1 L743.5,176.0 L744.5,173.9 L745.5,171.9 L746.5,169.9 L747.5,168.0 L748.5,166.1 L749.5,164.3 L750.5,162.6 L751.5,161.0 L752.5,159.4 L753.5,157.8 L754.5,156.4 L755.5,155.0 L756.5,153.7 L757.5,152.4 L758.5,151.2 L759.5,150.2 L760.5,149.1 L761.5,148.2 L762.5,147.4 L763.5,146.6 L764.5,145.9 L765.5,145.3 L766.5,144.8 L767.5,144.4 L768.5,144.0 L769.5,143.8 L770.5,143.6 L771.5,143.5 L772.5,143.5 L773.5,143.6 L774.5,143.8 L775.5,144.1 L776.5,144.4 L777.5,144.9 L778.5,145.5 L779.5,146.1 L780.5,146.8 L781.5,147.7 L782.5,148.6 L783.5,149.6 L784.5,150.7 L785.5,151.8 L786.5,153.1 L787.5,154.4 L788.5,155.8 L789.5,157.3 L790.5,158.9 L791.5,160.5 L792.5,162.2 L793.5,164.0 L794.5,165.8 L795.5,167.8 L796.5,169.7 L797.5,171.8 L798.5,173.9 L799.5,176.0 L800.5,178.2 L801.5,180.5 L802.5,182.8 L803.5,185.1 L804.5,187.5 L805.5,190.0 L806.5,192.5 L807.5,195.0 L808.5,197.5 L809.5,200.1 L810.5,202.7 L811.5,205.3 L812.5,208.0 L813.5,210.6 L814.5,213.3 L815.5,216.0 L816.5,218.7 L817.5,221.5 L818.5,224.2 L819.5,226.9 L820.5,229.7 L821.5,232.4 L822.5,235.1 L823.5,237.9 L824.5,240.6 L825.5,243.3 L826.5,246.0 L827.5,248.7 L828.5,251.4 L829.5,254.1 L830.5,256.7 L831.5,259.3 L832.5,261.9 L833.5,264.5 L834.5,267.0 L835.5,269.6 L836.5,272.1 L837.5,274.5 L838.5,277.0 L839.5,279.4 L840.5,281.7 L841.5,284.1 L842.5,286.4 L843.5,288.6 L844.5,290.9 L845.5,293.0 L846.5,295.2 L847.5,297.3 L848.5,299.4 L849.5,301.4 L850.5,303.4 L851.5,305.4 L852.5,307.3 L853.5,309.1 L854.5,311.0 L855.5,312.7 L856.5,314.5 L857.5,316.2 L858.5,317.9 L859.5,319.5 L860.5,321.1 L861.5,322.6 L862.5,324.1 L863.5,325.6 L864.5,327.0 L865.5,328.3 L866.5,329.7 L867.5,331.0 L868.5,332.2 L869.5,333.5 L870.5,334.7 L871.5,335.8 L872.5,336.9 L873.5,338.0 L874.5,339.0 L875.5,340.0 L876.5,341.0 L877.5,341.9 L878.5,342.8 L879.5,343.7 L880.5,344.6 L881.5,345.4 L882.5,346.2 L883.5,346.9 L884.5,347.6 L885.5,348.3 L886.5,349.0 L887.5,349.6 L888.5,350.3 L889.5,350.9 L890.5,351.4 L891.5,352.0 L892.5,352.5 L893.5,353.0 L894.5,353.5 L895.5,353.9 L896.5,354.4 L897.5,354.8 L898.5,355.2 L899.5,355.6 L900.5,356.0 L901.5,356.3 L902.5,356.6 L903.5,357.0 L904.5,357.3 L905.5,357.5 L906.5,357.8 L907.5,358.1 L908.5,358.3 L909.5,358.6 L910.5,358.8 L911.5,359.0 L912.5,359.2 L913.5,359.4 L914.5,359.6 L915.5,359.7 L916.5,359.9 L917.5,360.1 L918.5,360.2 L919.5,360.4 L920.5,360.5 L921.5,360.6 L922.5,360.7 L923.5,360.8 L924.5,360.9 L925.5,361.0 L926.5,361.1 L927.5,361.2 L928.5,361.3 L929.5,361.4 L930.5,361.4 L931.5,361.5 L932.5,361.6 L933.5,361.6 L934.5,361.7 L935.5,361.8 L936.5,361.8 L937.5,361.9 L938.5,361.9 L939.5,361.9 L940.5,362.0 L941.5,362.0 L942.5,362.0 L943.5,362.1 L944.5,362.1 L945.5,362.1 L946.5,362.2 L947.5,362.2 L948.5,362.2 L949.5,362.2 L950.5,362.2 L951.5,362.3 L952.5,362.3 L953.5,362.3 L954.5,362.3 L955.5,362.3 L956.5,362.3 L957.5,362.4 L958.5,362.4 L959.5,362.4 L960.5,362.4 L961.5,362.4 L962.5,362.4 L963.5,362.4 L964.5,362.4 L965.5,362.4 L966.5,362.4 L967.5,362.4 L968.5,362.4 L969.5,362.4 L970.5,362.4 L971.5,362.5 L972.5,362.5 L973.5,362.5 L974.5,362.5 L975.5,362.5 L976.5,362.5 L977.5,362.5 L978.5,362.5 L979.5,362.5 L980.5,362.5 L981.5,362.5 L982.5,362.5 L983.5,362.5 L984.5,362.5" fill="none" stroke="#ff0000" stroke-width="4.3" stroke-linejoin="round" stroke-linecap="butt" />
<path d="M582.5,362.5 L583.5,362.5 L584.5,362.5 L585.5,362.5 L586.5,362.5 L587.5,362.5 L588.5,362.5 L589.5,362.5 L590.5,362.5 L591.5,362.5 L592.5,362.5 L593.5,362.5 L594.5,362.5 L595.5,362.5 L596.5,362.5 L597.5,362.5 L598.5,362.5 L599.5,362.5 L600.5,362.5 L601.5,362.5 L602.5,362.5 L603.5,362.5 L604.5,362.5 L605.5,362.5 L606.5,362.5 L607.5,362.5 L608.5,362.5 L609.5,362.5 L610.5,362.5 L611.5,362.5 L612.5,362.5 L613.5,362.5 L614.5,362.5 L615.5,362.5 L616.5,362.5 L617.5,362.5 L618.5,362.5 L619.5,362.5 L620.5,362.5 L621.5,362.5 L622.5,362.5 L623.5,362.5 L624.5,362.5 L625.5,362.5 L626.5,362.5 L627.5,362.5 L628.5,362.5 L629.5,362.5 L630.5,362.5 L631.5,362.5 L632.5,362.5 L633.5,362.5 L634.5,362.5 L635.5,362.5 L636.5,362.5 L637.5,362.5 L638.5,362.5 L639.5,362.5 L640.5,362.5 L641.5,362.5 L642.5,362.5 L643.5,362.5 L644.5,362.5 L645.5,362.5 L646.5,362.5 L647.5,362.5 L648.5,362.5 L649.5,362.5 L650.5,362.5 L651.5,362.5 L652.5,362.5 L653.5,362.5 L654.5,362.5 L655.5,362.5 L656.5,362.5 L657.5,362.5 L658.5,362.5 L659.5,362.5 L660.5,362.5 L661.5,362.5 L662.5,362.5 L663.5,362.5 L664.5,362.5 L665.5,362.5 L666.5,362.5 L667.5,362.5 L668.5,362.5 L669.5,362.5 L670.5,362.5 L671.5,362.5 L672.5,362.5 L673.5,362.5 L674.5,362.5 L675.5,362.5 L676.5,362.5 L677.5,362.5 L678.5,362.5 L679.5,362.5 L680.5,362.5 L681.5,362.5 L682.5,362.5 L683.5,362.5 L684.5,362.5 L685.5,362.5 L686.5,362.5 L687.5,362.5 L688.5,362.5 L689.5,362.5 L690.5,362.5 L691.5,362.5 L692.5,362.5 L693.5,362.5 L694.5,362.5 L695.5,362.5 L696.5,362.5 L697.5,362.5 L698.5,362.5 L699.5,362.5 L700.5,362.5 L701.5,362.5 L702.5,362.5 L703.5,362.5 L704.5,362.5 L705.5,362.5 L706.5,362.5 L707.5,362.5 L708.5,362.5 L709.5,362.5 L710.5,362.5 L711.5,362.5 L712.5,362.5 L713.5,362.5 L714.5,362.5 L715.5,362.5 L716.5,362.5 L717.5,362.5 L718.5,362.5 L719.5,362.5 L720.5,362.5 L721.5,362.5 L722.5,362.5 L723.5,362.5 L724.5,362.5 L725.5,362.5 L726.5,362.5 L727.5,362.5 L728.5,362.5 L729.5,362.5 L730.5,362.5 L731.5,362.5 L732.5,362.5 L733.5,362.5 L734.5,362.5 L735.5,362.5 L736.5,362.5 L737.5,362.5 L738.5,362.5 L739.5,362.5 L740.5,362.5 L741.5,362.5 L742.5,362.5 L743.5,362.5 L744.5,362.5 L745.5,362.5 L746.5,362.5 L747.5,362.5 L748.5,362.5 L749.5,362.5 L750.5,362.5 L751.5,362.5 L752.5,362.5 L753.5,362.5 L754.5,362.5 L755.5,362.5 L756.5,362.5 L757.5,362.5 L758.5,362.5 L759.5,362.5 L760.5,362.5 L761.5,362.5 L762.5,362.5 L763.5,362.5 L764.5,362.5 L765.5,362.5 L766.5,362.5 L767.5,362.5 L768.5,362.5 L769.5,362.4 L770.5,362.4 L771.5,362.4 L772.5,362.4 L773.5,362.4 L774.5,362.3 L775.5,362.3 L776.5,362.2 L777.5,362.2 L778.5,362.1 L779.5,362.0 L780.5,362.0 L781.5,361.8 L782.5,361.7 L783.5,361.6 L784.5,361.4 L785.5,361.2 L786.5,360.9 L787.5,360.7 L788.5,360.3 L789.5,359.9 L790.5,359.5 L791.5,359.0 L792.5,358.4 L793.5,357.8 L794.5,357.1 L795.5,356.2 L796.5,355.3 L797.5,354.3 L798.5,353.1 L799.5,351.8 L800.5,350.3 L801.5,348.7 L802.5,346.9 L803.5,345.0 L804.5,342.8 L805.5,340.5 L806.5,337.9 L807.5,335.2 L808.5,332.2 L809.5,329.0 L810.5,325.6 L811.5,321.9 L812.5,318.1 L813.5,313.9 L814.5,309.6 L815.5,305.1 L816.5,300.3 L817.5,295.4 L818.5,290.3 L819.5,285.0 L820.5,279.6 L821.5,274.1 L822.5,268.5 L823.5,262.8 L824.5,257.1 L825.5,251.4 L826.5,245.8 L827.5,240.2 L828.5,234.7 L829.5,229.5 L830.5,224.4 L831.5,219.5 L832.5,214.9 L833.5,210.6 L834.5,206.6 L835.5,203.1 L836.5,199.9 L837.5,197.1 L838.5,194.9 L839.5,193.0 L840.5,191.7 L841.5,190.9 L842.5,190.6 L843.5,190.8 L844.5,191.5 L845.5,192.7 L846.5,194.5 L847.5,196.7 L848.5,199.3 L849.5,202.4 L850.5,205.9 L851.5,209.8 L852.5,214.0 L853.5,218.5 L854.5,223.4 L855.5,228.4 L856.5,233.7 L857.5,239.1 L858.5,244.6 L859.5,250.3 L860.5,256.0 L861.5,261.7 L862.5,267.3 L863.5,273.0 L864.5,278.5 L865.5,283.9 L866.5,289.2 L867.5,294.4 L868.5,299.4 L869.5,304.1 L870.5,308.7 L871.5,313.1 L872.5,317.3 L873.5,321.2 L874.5,324.9 L875.5,328.3 L876.5,331.6 L877.5,334.6 L878.5,337.4 L879.5,340.0 L880.5,342.4 L881.5,344.5 L882.5,346.5 L883.5,348.4 L884.5,350.0 L885.5,351.5 L886.5,352.8 L887.5,354.0 L888.5,355.1 L889.5,356.1 L890.5,356.9 L891.5,357.7 L892.5,358.3 L893.5,358.9 L894.5,359.4 L895.5,359.9 L896.5,360.3 L897.5,360.6 L898.5,360.9 L899.5,361.1 L900.5,361.3 L901.5,361.5 L902.5,361.7 L903.5,361.8 L904.5,361.9 L905.5,362.0 L906.5,362.1 L907.5,362.2 L908.5,362.2 L909.5,362.3 L910.5,362.3 L911.5,362.4 L912.5,362.4 L913.5,362.4 L914.5,362.4 L915.5,362.4 L916.5,362.5 L917.5,362.5 L918.5,362.5 L919.5,362.5 L920.5,362.5 L921.5,362.5 L922.5,362.5 L923.5,362.5 L924.5,362.5 L925.5,362.5 L926.5,362.5 L927.5,362.5 L928.5,362.5 L929.5,362.5 L930.5,362.5 L931.5,362.5 L932.5,362.5 L933.5,362.5 L934.5,362.5 L935.5,362.5 L936.5,362.5 L937.5,362.5 L938.5,362.5 L939.5,362.5 L940.5,362.5 L941.5,362.5 L942.5,362.5 L943.5,362.5 L944.5,362.5 L945.5,362.5 L946.5,362.5 L947.5,362.5 L948.5,362.5 L949.5,362.5 L950.5,362.5 L951.5,362.5 L952.5,362.5 L953.5,362.5 L954.5,362.5 L955.5,362.5 L956.5,362.5 L957.5,362.5 L958.5,362.5 L959.5,362.5 L960.5,362.5 L961.5,362.5 L962.5,362.5 L963.5,362.5 L964.5,362.5 L965.5,362.5 L966.5,362.5 L967.5,362.5 L968.5,362.5 L969.5,362.5 L970.5,362.5 L971.5,362.5 L972.5,362.5 L973.5,362.5 L974.5,362.5 L975.5,362.5 L976.5,362.5 L977.5,362.5 L978.5,362.5 L979.5,362.5 L980.5,362.5 L981.5,362.5 L982.5,362.5 L983.5,362.5 L984.5,362.5" fill="none" stroke="#00ff00" stroke-width="4.3" stroke-linejoin="round" stroke-linecap="butt" />
<path d="M582.5,362.3 L583.5,362.3 L584.5,362.3 L585.5,362.3 L586.5,362.3 L587.5,362.2 L588.5,362.2 L589.5,362.2 L590.5,362.2 L591.5,362.1 L592.5,362.1 L593.5,362.1 L594.5,362.1 L595.5,362.0 L596.5,362.0 L597.5,362.0 L598.5,361.9 L599.5,361.9 L600.5,361.8 L601.5,361.8 L602.5,361.8 L603.5,361.7 L604.5,361.6 L605.5,361.6 L606.5,361.5 L607.5,361.5 L608.5,361.4 L609.5,361.3 L610.5,361.2 L611.5,361.2 L612.5,361.1 L613.5,361.0 L614.5,360.9 L615.5,360.8 L616.5,360.7 L617.5,360.5 L618.5,360.4 L619.5,360.3 L620.5,360.2 L621.5,360.0 L622.5,359.9 L623.5,359.7 L624.5,359.5 L625.5,359.3 L626.5,359.2 L627.5,359.0 L628.5,358.8 L629.5,358.5 L630.5,358.3 L631.5,358.1 L632.5,357.8 L633.5,357.6 L634.5,357.3 L635.5,357.0 L636.5,356.7 L637.5,356.4 L638.5,356.0 L639.5,355.7 L640.5,355.3 L641.5,354.9 L642.5,354.5 L643.5,354.1 L644.5,353.7 L645.5,353.2 L646.5,352.8 L647.5,352.3 L648.5,351.8 L649.5,351.2 L650.5,350.7 L651.5,350.1 L652.5,349.5 L653.5,348.8 L654.5,348.2 L655.5,347.5 L656.5,346.8 L657.5,346.1 L658.5,345.3 L659.5,344.5 L660.5,343.7 L661.5,342.9 L662.5,342.0 L663.5,341.1 L664.5,340.2 L665.5,339.2 L666.5,338.2 L667.5,337.2 L668.5,336.1 L669.5,335.0 L670.5,333.9 L671.5,332.7 L672.5,331.5 L673.5,330.3 L674.5,329.0 L675.5,327.7 L676.5,326.4 L677.5,325.0 L678.5,323.6 L679.5,322.1 L680.5,320.6 L681.5,319.1 L682.5,317.5 L683.5,315.9 L684.5,314.3 L685.5,312.6 L686.5,310.9 L687.5,309.1 L688.5,307.3 L689.5,305.4 L690.5,303.6 L691.5,301.6 L692.5,299.7 L693.5,297.7 L694.5,295.7 L695.5,293.6 L696.5,291.5 L697.5,289.4 L698.5,287.2 L699.5,285.0 L700.5,282.8 L701.5,280.5 L702.5,278.2 L703.5,275.9 L704.5,273.5 L705.5,271.1 L706.5,268.7 L707.5,266.3 L708.5,263.8 L709.5,261.3 L710.5,258.8 L711.5,256.3 L712.5,253.7 L713.5,251.1 L714.5,248.6 L715.5,246.0 L716.5,243.4 L717.5,240.7 L718.5,238.1 L719.5,235.5 L720.5,232.8 L721.5,230.2 L722.5,227.6 L723.5,224.9 L724.5,222.3 L725.5,219.7 L726.5,217.0 L727.5,214.4 L728.5,211.8 L729.5,209.2 L730.5,206.7 L731.5,204.1 L732.5,201.6 L733.5,199.1 L734.5,196.6 L735.5,194.2 L736.5,191.8 L737.5,189.4 L738.5,187.1 L739.5,184.8 L740.5,182.5 L741.5,180.3 L742.5,178.1 L743.5,176.0 L744.5,173.9 L745.5,171.9 L746.5,169.9 L747.5,168.0 L748.5,166.1 L749.5,164.3 L750.5,162.6 L751.5,161.0 L752.5,159.4 L753.5,157.8 L754.5,156.4 L755.5,155.0 L756.5,153.7 L757.5,152.4 L758.5,151.2 L759.5,150.2 L760.5,149.1 L761.5,148.2 L762.5,147.4 L763.5,146.6 L764.5,145.9 L765.5,145.3 L766.5,144.8 L767.5,144.3 L768.5,144.0 L769.5,143.7 L770.5,143.5 L771.5,143.4 L772.5,143.4 L773.5,143.5 L774.5,143.6 L775.5,143.9 L776.5,144.2 L777.5,144.6 L778.5,145.1 L779.5,145.7 L780.5,146.3 L781.5,147.0 L782.5,147.8 L783.5,148.6 L784.5,149.5 L785.5,150.5 L786.5,151.5 L787.5,152.6 L788.5,153.6 L789.5,154.7 L790.5,155.9 L791.5,157.0 L792.5,158.2 L793.5,159.3 L794.5,160.4 L795.5,161.5 L796.5,162.5 L797.5,163.5 L798.5,164.4 L799.5,165.3 L800.5,166.0 L801.5,166.7 L802.5,167.2 L803.5,167.6 L804.5,167.9 L805.5,168.0 L806.5,167.9 L807.5,167.6 L808.5,167.2 L809.5,166.6 L810.5,165.8 L811.5,164.8 L812.5,163.5 L813.5,162.1 L814.5,160.4 L815.5,158.6 L816.5,156.6 L817.5,154.4 L818.5,152.0 L819.5,149.4 L820.5,146.8 L821.5,144.0 L822.5,141.1 L823.5,138.2 L824.5,135.2 L825.5,132.2 L826.5,129.3 L827.5,126.4 L828.5,123.6 L829.5,121.0 L830.5,118.5 L831.5,116.3 L832.5,114.3 L833.5,112.6 L834.5,111.2 L835.5,110.1 L836.5,109.4 L837.5,109.2 L838.5,109.3 L839.5,109.9 L840.5,111.0 L841.5,112.5 L842.5,114.5 L843.5,116.9 L844.5,119.9 L845.5,123.3 L846.5,127.2 L847.5,131.5 L848.5,136.2 L849.5,141.3 L850.5,146.8 L851.5,152.6 L852.5,158.8 L853.5,165.2 L854.5,171.8 L855.5,178.7 L856.5,185.7 L857.5,192.8 L858.5,200.0 L859.5,207.3 L860.5,214.5 L861.5,221.8 L862.5,228.9 L863.5,236.0 L864.5,243.0 L865.5,249.8 L866.5,256.4 L867.5,262.9 L868.5,269.1 L869.5,275.1 L870.5,280.9 L871.5,286.4 L872.5,291.7 L873.5,296.7 L874.5,301.4 L875.5,305.9 L876.5,310.1 L877.5,314.0 L878.5,317.8 L879.5,321.2 L880.5,324.4 L881.5,327.4 L882.5,330.2 L883.5,332.8 L884.5,335.1 L885.5,337.3 L886.5,339.3 L887.5,341.2 L888.5,342.9 L889.5,344.4 L890.5,345.8 L891.5,347.1 L892.5,348.3 L893.5,349.4 L894.5,350.4 L895.5,351.3 L896.5,352.1 L897.5,352.9 L898.5,353.6 L899.5,354.2 L900.5,354.8 L901.5,355.3 L902.5,355.8 L903.5,356.3 L904.5,356.7 L905.5,357.1 L906.5,357.4 L907.5,357.8 L908.5,358.1 L909.5,358.3 L910.5,358.6 L911.5,358.9 L912.5,359.1 L913.5,359.3 L914.5,359.5 L915.5,359.7 L916.5,359.9 L917.5,360.0 L918.5,360.2 L919.5,360.3 L920.5,360.5 L921.5,360.6 L922.5,360.7 L923.5,360.8 L924.5,360.9 L925.5,361.0 L926.5,361.1 L927.5,361.2 L928.5,361.3 L929.5,361.4 L930.5,361.4 L931.5,361.5 L932.5,361.6 L933.5,361.6 L934.5,361.7 L935.5,361.8 L936.5,361.8 L937.5,361.9 L938.5,361.9 L939.5,361.9 L940.5,362.0 L941.5,362.0 L942.5,362.0 L943.5,362.1 L944.5,362.1 L945.5,362.1 L946.5,362.2 L947.5,362.2 L948.5,362.2 L949.5,362.2 L950.5,362.2 L951.5,362.3 L952.5,362.3 L953.5,362.3 L954.5,362.3 L955.5,362.3 L956.5,362.3 L957.5,362.4 L958.5,362.4 L959.5,362.4 L960.5,362.4 L961.5,362.4 L962.5,362.4 L963.5,362.4 L964.5,362.4 L965.5,362.4 L966.5,362.4 L967.5,362.4 L968.5,362.4 L969.5,362.4 L970.5,362.4 L971.5,362.5 L972.5,362.5 L973.5,362.5 L974.5,362.5 L975.5,362.5 L976.5,362.5 L977.5,362.5 L978.5,362.5 L979.5,362.5 L980.5,362.5 L981.5,362.5 L982.5,362.5 L983.5,362.5 L984.5,362.5" fill="none" stroke="#0000ff" stroke-width="4.3" stroke-linejoin="round" stroke-linecap="butt" />
</g>
<rect x="582.5" y="52.5" width="402.0" height="324.0" fill="none" stroke="#000" stroke-width="3"/>
<path d="M582.5,377.5V382.9M649.5,377.5V382.9M716.5,377.5V382.9M783.5,377.5V382.9M850.5,377.5V382.9M917.5,377.5V382.9M984.5,377.5V382.9M616.0,377.5V379.9M683.0,377.5V379.9M750.0,377.5V379.9M817.0,377.5V379.9M884.0,377.5V379.9M951.0,377.5V379.9" stroke="#000" stroke-width="3" fill="none"/>
<rect x="515" y="37" width="60.8" height="48.8" fill="#c0cad7"/>
<text transform="translate(545.0,78.4) scale(0.95,1)" font-size="44.8" text-anchor="middle" class="lab" stroke="#c0cad7" stroke-width="0.5">b</text>
<text x="598.13" y="85.70" font-size="24" textLength="144.18" lengthAdjust="spacingAndGlyphs" >SF@Ca/TGA</text>
<text><tspan x="601.90" y="127.80" font-size="23" font-style="italic">I</tspan><tspan x="608.49" y="134.50" font-size="17" font-style="italic" font-weight="400" stroke="#000" stroke-width="0.7">D</tspan><tspan x="624.70" y="127.80" font-size="23" font-style="italic" font-weight="400" stroke="#000" stroke-width="1.0">/</tspan><tspan x="638.00" y="127.80" font-size="23" font-style="italic">I</tspan><tspan x="645.59" y="134.50" font-size="17" font-style="italic" font-weight="400" stroke="#000" stroke-width="0.7">G</tspan><tspan x="657.68" y="127.80" font-size="23">=</tspan><tspan x="671.86" y="127.80" font-size="23">1.77</tspan></text>
<text x="753.34" y="123.30" font-size="27.5" textLength="20.70" lengthAdjust="spacingAndGlyphs" >D</text>
<text x="822.35" y="94.40" font-size="27.5" textLength="22.39" lengthAdjust="spacingAndGlyphs" >G</text>
<g transform="translate(567,276.3) rotate(-90)">
<text x="-1.21" y="0.00" font-size="18" textLength="125.91" lengthAdjust="spacingAndGlyphs" stroke="#000" stroke-width="0.45">Intensity (a.u.)</text>
</g>
<text x="566.49" y="400.30" font-size="17" textLength="30.97" lengthAdjust="spacingAndGlyphs" >800</text>
<text x="628.57" y="400.30" font-size="17" textLength="40.25" lengthAdjust="spacingAndGlyphs" >1000</text>
<text x="695.57" y="400.30" font-size="17" textLength="40.25" lengthAdjust="spacingAndGlyphs" >1200</text>
<text x="762.57" y="400.30" font-size="17" textLength="40.25" lengthAdjust="spacingAndGlyphs" >1400</text>
<text x="829.57" y="400.30" font-size="17" textLength="40.25" lengthAdjust="spacingAndGlyphs" >1600</text>
<text x="896.57" y="400.30" font-size="17" textLength="40.25" lengthAdjust="spacingAndGlyphs" >1800</text>
<text x="964.12" y="400.30" font-size="17" textLength="39.69" lengthAdjust="spacingAndGlyphs" >2000</text>
<text x="701.98" y="433.50" font-size="17.8" textLength="145.48" lengthAdjust="spacingAndGlyphs" >Raman shift (cm</text>
<text x="846.64" y="426.50" font-size="12.5" textLength="8.62" lengthAdjust="spacingAndGlyphs" >-1</text>
<text x="857.50" y="433.50" font-size="17.8" textLength="5.84" lengthAdjust="spacingAndGlyphs" >)</text>
<clipPath id="ct952"><rect x="1058.5" y="52.5" width="402.0" height="324.0"/></clipPath>
<g clip-path="url(#ct952)">
<path d="M1058.5,371.1 L1059.5,371.1 L1060.5,371.0 L1061.5,370.8 L1062.5,370.6 L1063.5,370.5 L1064.5,370.3 L1065.5,370.2 L1066.5,370.1 L1067.5,370.1 L1068.5,370.2 L1069.5,370.3 L1070.5,370.5 L1071.5,370.6 L1072.5,370.8 L1073.5,370.8 L1074.5,370.8 L1075.5,370.7 L1076.5,370.5 L1077.5,370.3 L1078.5,370.0 L1079.5,369.7 L1080.5,369.5 L1081.5,369.4 L1082.5,369.4 L1083.5,369.4 L1084.5,369.4 L1085.5,369.4 L1086.5,369.4 L1087.5,369.4 L1088.5,369.4 L1089.5,369.4 L1090.5,369.4 L1091.5,369.3 L1092.5,369.3 L1093.5,369.1 L1094.5,368.9 L1095.5,368.7 L1096.5,368.4 L1097.5,368.1 L1098.5,367.9 L1099.5,367.6 L1100.5,367.5 L1101.5,367.3 L1102.5,367.1 L1103.5,366.7 L1104.5,366.2 L1105.5,365.6 L1106.5,365.0 L1107.5,364.4 L1108.5,363.9 L1109.5,363.3 L1110.5,362.9 L1111.5,362.6 L1112.5,362.4 L1113.5,362.1 L1114.5,361.8 L1115.5,361.4 L1116.5,360.9 L1117.5,360.4 L1118.5,359.9 L1119.5,359.3 L1120.5,358.7 L1121.5,358.1 L1122.5,357.6 L1123.5,357.0 L1124.5,356.5 L1125.5,356.0 L1126.5,355.5 L1127.5,355.1 L1128.5,354.7 L1129.5,354.3 L1130.5,353.8 L1131.5,353.3 L1132.5,352.8 L1133.5,352.3 L1134.5,351.7 L1135.5,351.2 L1136.5,350.5 L1137.5,349.9 L1138.5,349.3 L1139.5,348.6 L1140.5,347.8 L1141.5,347.1 L1142.5,346.3 L1143.5,345.5 L1144.5,344.6 L1145.5,343.8 L1146.5,342.8 L1147.5,341.9 L1148.5,340.9 L1149.5,339.9 L1150.5,338.8 L1151.5,337.7 L1152.5,336.6 L1153.5,335.4 L1154.5,334.1 L1155.5,332.9 L1156.5,331.6 L1157.5,330.2 L1158.5,328.8 L1159.5,327.4 L1160.5,325.9 L1161.5,324.3 L1162.5,322.8 L1163.5,321.1 L1164.5,319.5 L1165.5,317.7 L1166.5,316.0 L1167.5,314.2 L1168.5,312.3 L1169.5,310.4 L1170.5,308.4 L1171.5,306.4 L1172.5,304.4 L1173.5,302.3 L1174.5,300.2 L1175.5,298.0 L1176.5,295.8 L1177.5,293.5 L1178.5,291.2 L1179.5,288.8 L1180.5,286.4 L1181.5,284.0 L1182.5,281.5 L1183.5,279.0 L1184.5,276.4 L1185.5,273.8 L1186.5,271.2 L1187.5,268.6 L1188.5,265.9 L1189.5,263.1 L1190.5,260.4 L1191.5,257.6 L1192.5,254.8 L1193.5,252.0 L1194.5,249.2 L1195.5,246.3 L1196.5,243.5 L1197.5,240.6 L1198.5,237.7 L1199.5,234.8 L1200.5,231.9 L1201.5,229.0 L1202.5,226.1 L1203.5,223.2 L1204.5,220.3 L1205.5,217.4 L1206.5,214.6 L1207.5,211.7 L1208.5,208.9 L1209.5,206.1 L1210.5,203.3 L1211.5,200.5 L1212.5,197.8 L1213.5,195.1 L1214.5,192.5 L1215.5,189.9 L1216.5,187.3 L1217.5,184.8 L1218.5,182.3 L1219.5,179.9 L1220.5,177.5 L1221.5,175.2 L1222.5,173.0 L1223.5,170.8 L1224.5,168.7 L1225.5,166.7 L1226.5,164.7 L1227.5,162.8 L1228.5,160.8 L1229.5,158.8 L1230.5,156.7 L1231.5,154.7 L1232.5,152.8 L1233.5,151.1 L1234.5,149.6 L1235.5,148.4 L1236.5,147.2 L1237.5,146.1 L1238.5,145.1 L1239.5,144.2 L1240.5,143.5 L1241.5,142.8 L1242.5,142.3 L1243.5,142.3 L1244.5,142.5 L1245.5,142.9 L1246.5,143.5 L1247.5,144.0 L1248.5,144.4 L1249.5,144.7 L1250.5,145.2 L1251.5,145.9 L1252.5,146.7 L1253.5,147.6 L1254.5,148.5 L1255.5,149.2 L1256.5,149.9 L1257.5,150.6 L1258.5,151.4 L1259.5,152.1 L1260.5,152.9 L1261.5,153.8 L1262.5,154.8 L1263.5,155.9 L1264.5,157.0 L1265.5,158.3 L1266.5,159.5 L1267.5,160.7 L1268.5,161.9 L1269.5,163.0 L1270.5,164.1 L1271.5,165.2 L1272.5,166.2 L1273.5,167.1 L1274.5,168.0 L1275.5,168.7 L1276.5,169.3 L1277.5,169.7 L1278.5,170.1 L1279.5,170.2 L1280.5,170.2 L1281.5,170.0 L1282.5,169.7 L1283.5,169.1 L1284.5,168.3 L1285.5,167.3 L1286.5,166.1 L1287.5,164.7 L1288.5,163.0 L1289.5,161.1 L1290.5,159.1 L1291.5,156.8 L1292.5,154.3 L1293.5,151.6 L1294.5,148.8 L1295.5,145.8 L1296.5,142.7 L1297.5,139.5 L1298.5,136.1 L1299.5,132.8 L1300.5,129.4 L1301.5,126.0 L1302.5,122.7 L1303.5,119.4 L1304.5,116.2 L1305.5,113.2 L1306.5,110.4 L1307.5,107.8 L1308.5,105.4 L1309.5,103.3 L1310.5,101.6 L1311.5,100.2 L1312.5,99.1 L1313.5,98.5 L1314.5,98.3 L1315.5,98.6 L1316.5,99.3 L1317.5,100.4 L1318.5,102.1 L1319.5,104.3 L1320.5,106.9 L1321.5,110.0 L1322.5,113.6 L1323.5,117.6 L1324.5,122.1 L1325.5,127.0 L1326.5,132.3 L1327.5,138.0 L1328.5,144.0 L1329.5,150.3 L1330.5,156.9 L1331.5,163.7 L1332.5,170.8 L1333.5,178.0 L1334.5,185.3 L1335.5,192.7 L1336.5,200.2 L1337.5,207.7 L1338.5,215.2 L1339.5,222.7 L1340.5,230.0 L1341.5,237.3 L1342.5,244.4 L1343.5,251.3 L1344.5,258.1 L1345.5,264.7 L1346.5,271.0 L1347.5,277.1 L1348.5,283.0 L1349.5,288.6 L1350.5,294.0 L1351.5,299.0 L1352.5,303.9 L1353.5,308.4 L1354.5,312.7 L1355.5,316.7 L1356.5,320.5 L1357.5,324.0 L1358.5,327.5 L1359.5,330.8 L1360.5,334.0 L1361.5,337.0 L1362.5,339.8 L1363.5,342.3 L1364.5,344.7 L1365.5,346.7 L1366.5,348.3 L1367.5,349.7 L1368.5,350.7 L1369.5,351.6 L1370.5,352.3 L1371.5,352.9 L1372.5,353.5 L1373.5,354.1 L1374.5,354.9 L1375.5,356.2 L1376.5,357.7 L1377.5,359.2 L1378.5,360.6 L1379.5,361.6 L1380.5,362.1 L1381.5,362.7 L1382.5,363.5 L1383.5,364.3 L1384.5,365.2 L1385.5,365.9 L1386.5,366.6 L1387.5,367.0 L1388.5,367.2 L1389.5,367.6 L1390.5,368.0 L1391.5,368.5 L1392.5,369.0 L1393.5,369.6 L1394.5,370.0 L1395.5,370.4 L1396.5,370.7 L1397.5,370.8 L1398.5,370.9 L1399.5,371.0 L1400.5,371.1 L1401.5,371.2 L1402.5,371.4 L1403.5,371.5 L1404.5,371.6 L1405.5,371.7 L1406.5,371.7 L1407.5,371.8 L1408.5,371.8 L1409.5,371.7 L1410.5,371.7 L1411.5,371.6 L1412.5,371.5 L1413.5,371.3 L1414.5,371.2 L1415.5,371.1 L1416.5,371.0 L1417.5,370.9 L1418.5,370.9 L1419.5,370.8 L1420.5,370.9 L1421.5,370.9 L1422.5,371.1 L1423.5,371.2 L1424.5,371.4 L1425.5,371.6 L1426.5,371.9 L1427.5,372.1 L1428.5,372.3 L1429.5,372.4 L1430.5,372.6 L1431.5,372.6 L1432.5,372.6 L1433.5,372.6 L1434.5,372.6 L1435.5,372.6 L1436.5,372.6 L1437.5,372.5 L1438.5,372.5 L1439.5,372.4 L1440.5,372.4 L1441.5,372.3 L1442.5,372.3 L1443.5,372.3 L1444.5,372.2 L1445.5,372.2 L1446.5,372.2 L1447.5,372.2 L1448.5,372.2 L1449.5,372.3 L1450.5,372.4 L1451.5,372.5 L1452.5,372.6 L1453.5,372.7 L1454.5,372.8 L1455.5,372.9 L1456.5,373.0 L1457.5,373.1 L1458.5,373.1 L1459.5,373.2 L1460.5,373.2" fill="none" stroke="#000" stroke-width="1" stroke-linejoin="round" stroke-linecap="butt" />
<path d="M1102.5,360.8 L1103.5,360.7 L1104.5,360.5 L1105.5,360.4 L1106.5,360.3 L1107.5,360.2 L1108.5,360.0 L1109.5,359.9 L1110.5,359.7 L1111.5,359.5 L1112.5,359.4 L1113.5,359.2 L1114.5,359.0 L1115.5,358.8 L1116.5,358.5 L1117.5,358.3 L1118.5,358.1 L1119.5,357.8 L1120.5,357.5 L1121.5,357.2 L1122.5,356.9 L1123.5,356.6 L1124.5,356.3 L1125.5,355.9 L1126.5,355.5 L1127.5,355.1 L1128.5,354.7 L1129.5,354.3 L1130.5,353.8 L1131.5,353.3 L1132.5,352.8 L1133.5,352.3 L1134.5,351.7 L1135.5,351.2 L1136.5,350.5 L1137.5,349.9 L1138.5,349.3 L1139.5,348.6 L1140.5,347.8 L1141.5,347.1 L1142.5,346.3 L1143.5,345.5 L1144.5,344.6 L1145.5,343.8 L1146.5,342.8 L1147.5,341.9 L1148.5,340.9 L1149.5,339.9 L1150.5,338.8 L1151.5,337.7 L1152.5,336.6 L1153.5,335.4 L1154.5,334.1 L1155.5,332.9 L1156.5,331.6 L1157.5,330.2 L1158.5,328.8 L1159.5,327.4 L1160.5,325.9 L1161.5,324.3 L1162.5,322.8 L1163.5,321.1 L1164.5,319.5 L1165.5,317.7 L1166.5,316.0 L1167.5,314.2 L1168.5,312.3 L1169.5,310.4 L1170.5,308.4 L1171.5,306.4 L1172.5,304.4 L1173.5,302.3 L1174.5,300.2 L1175.5,298.0 L1176.5,295.8 L1177.5,293.5 L1178.5,291.2 L1179.5,288.8 L1180.5,286.4 L1181.5,284.0 L1182.5,281.5 L1183.5,279.0 L1184.5,276.4 L1185.5,273.8 L1186.5,271.2 L1187.5,268.6 L1188.5,265.9 L1189.5,263.1 L1190.5,260.4 L1191.5,257.6 L1192.5,254.8 L1193.5,252.0 L1194.5,249.2 L1195.5,246.3 L1196.5,243.5 L1197.5,240.6 L1198.5,237.7 L1199.5,234.8 L1200.5,231.9 L1201.5,229.0 L1202.5,226.1 L1203.5,223.2 L1204.5,220.3 L1205.5,217.4 L1206.5,214.6 L1207.5,211.7 L1208.5,208.9 L1209.5,206.1 L1210.5,203.3 L1211.5,200.5 L1212.5,197.8 L1213.5,195.1 L1214.5,192.5 L1215.5,189.9 L1216.5,187.3 L1217.5,184.8 L1218.5,182.3 L1219.5,179.9 L1220.5,177.5 L1221.5,175.2 L1222.5,173.0 L1223.5,170.8 L1224.5,168.7 L1225.5,166.7 L1226.5,164.7 L1227.5,162.9 L1228.5,161.1 L1229.5,159.3 L1230.5,157.7 L1231.5,156.2 L1232.5,154.7 L1233.5,153.3 L1234.5,152.1 L1235.5,150.9 L1236.5,149.8 L1237.5,148.8 L1238.5,147.9 L1239.5,147.1 L1240.5,146.4 L1241.5,145.9 L1242.5,145.4 L1243.5,145.0 L1244.5,144.7 L1245.5,144.6 L1246.5,144.5 L1247.5,144.5 L1248.5,144.7 L1249.5,144.9 L1250.5,145.3 L1251.5,145.8 L1252.5,146.3 L1253.5,147.0 L1254.5,147.8 L1255.5,148.6 L1256.5,149.6 L1257.5,150.7 L1258.5,151.8 L1259.5,153.1 L1260.5,154.4 L1261.5,155.9 L1262.5,157.4 L1263.5,159.0 L1264.5,160.7 L1265.5,162.5 L1266.5,164.4 L1267.5,166.3 L1268.5,168.3 L1269.5,170.4 L1270.5,172.6 L1271.5,174.8 L1272.5,177.1 L1273.5,179.4 L1274.5,181.8 L1275.5,184.3 L1276.5,186.8 L1277.5,189.3 L1278.5,191.9 L1279.5,194.6 L1280.5,197.3 L1281.5,200.0 L1282.5,202.7 L1283.5,205.5 L1284.5,208.3 L1285.5,211.1 L1286.5,214.0 L1287.5,216.9 L1288.5,219.7 L1289.5,222.6 L1290.5,225.5 L1291.5,228.4 L1292.5,231.3 L1293.5,234.2 L1294.5,237.1 L1295.5,240.0 L1296.5,242.9 L1297.5,245.8 L1298.5,248.6 L1299.5,251.5 L1300.5,254.3 L1301.5,257.1 L1302.5,259.8 L1303.5,262.6 L1304.5,265.3 L1305.5,268.0 L1306.5,270.7 L1307.5,273.3 L1308.5,275.9 L1309.5,278.5 L1310.5,281.0 L1311.5,283.5 L1312.5,285.9 L1313.5,288.3 L1314.5,290.7 L1315.5,293.0 L1316.5,295.3 L1317.5,297.5 L1318.5,299.7 L1319.5,301.9 L1320.5,304.0 L1321.5,306.0 L1322.5,308.0 L1323.5,310.0 L1324.5,311.9 L1325.5,313.8 L1326.5,315.6 L1327.5,317.4 L1328.5,319.1 L1329.5,320.8 L1330.5,322.4 L1331.5,324.0 L1332.5,325.6 L1333.5,327.1 L1334.5,328.5 L1335.5,329.9 L1336.5,331.3 L1337.5,332.6 L1338.5,333.9 L1339.5,335.1 L1340.5,336.3 L1341.5,337.5 L1342.5,338.6 L1343.5,339.7 L1344.5,340.7 L1345.5,341.7 L1346.5,342.7 L1347.5,343.6 L1348.5,344.5 L1349.5,345.3 L1350.5,346.1 L1351.5,346.9 L1352.5,347.7 L1353.5,348.4 L1354.5,349.1 L1355.5,349.8 L1356.5,350.4 L1357.5,351.0 L1358.5,351.6 L1359.5,352.2 L1360.5,352.7 L1361.5,353.2 L1362.5,353.7 L1363.5,354.2 L1364.5,354.6 L1365.5,355.0 L1366.5,355.4 L1367.5,355.8 L1368.5,356.2 L1369.5,356.5 L1370.5,356.9 L1371.5,357.2 L1372.5,357.5 L1373.5,357.7 L1374.5,358.0 L1375.5,358.3 L1376.5,358.5 L1377.5,358.7 L1378.5,358.9 L1379.5,359.1 L1380.5,359.3 L1381.5,359.5 L1382.5,359.7 L1383.5,359.8 L1384.5,360.0 L1385.5,360.1 L1386.5,360.3 L1387.5,360.4 L1388.5,360.5 L1389.5,360.6 L1390.5,360.7 L1391.5,360.8 L1392.5,360.9 L1393.5,361.0 L1394.5,361.1 L1395.5,361.2 L1396.5,361.2 L1397.5,361.3 L1398.5,361.4 L1399.5,361.4 L1400.5,361.5 L1401.5,361.5 L1402.5,361.6 L1403.5,361.6 L1404.5,361.7 L1405.5,361.7 L1406.5,361.7 L1407.5,361.8 L1408.5,361.8 L1409.5,361.8 L1410.5,361.9 L1411.5,361.9 L1412.5,361.9 L1413.5,361.9 L1414.5,362.0 L1415.5,362.0 L1416.5,362.0 L1417.5,362.0 L1418.5,362.0 L1419.5,362.0 L1420.5,362.1 L1421.5,362.1 L1422.5,362.1 L1423.5,362.1 L1424.5,362.1 L1425.5,362.1 L1426.5,362.1 L1427.5,362.1 L1428.5,362.1 L1429.5,362.1 L1430.5,362.1 L1431.5,362.1 L1432.5,362.1 L1433.5,362.2 L1434.5,362.2 L1435.5,362.2 L1436.5,362.2 L1437.5,362.2 L1438.5,362.2 L1439.5,362.2 L1440.5,362.2 L1441.5,362.2 L1442.5,362.2 L1443.5,362.2 L1444.5,362.2 L1445.5,362.2 L1446.5,362.2 L1447.5,362.2 L1448.5,362.2 L1449.5,362.2 L1450.5,362.2 L1451.5,362.2 L1452.5,362.2 L1453.5,362.2 L1454.5,362.2 L1455.5,362.2 L1456.5,362.2 L1457.5,362.2 L1458.5,362.2 L1459.5,362.2 L1460.5,362.2" fill="none" stroke="#ff0000" stroke-width="4.3" stroke-linejoin="round" stroke-linecap="butt" />
<path d="M1058.5,362.2 L1059.5,362.2 L1060.5,362.2 L1061.5,362.2 L1062.5,362.2 L1063.5,362.2 L1064.5,362.2 L1065.5,362.2 L1066.5,362.2 L1067.5,362.2 L1068.5,362.2 L1069.5,362.2 L1070.5,362.2 L1071.5,362.2 L1072.5,362.2 L1073.5,362.2 L1074.5,362.2 L1075.5,362.2 L1076.5,362.2 L1077.5,362.2 L1078.5,362.2 L1079.5,362.2 L1080.5,362.2 L1081.5,362.2 L1082.5,362.2 L1083.5,362.2 L1084.5,362.2 L1085.5,362.2 L1086.5,362.2 L1087.5,362.2 L1088.5,362.2 L1089.5,362.2 L1090.5,362.2 L1091.5,362.2 L1092.5,362.2 L1093.5,362.2 L1094.5,362.2 L1095.5,362.2 L1096.5,362.2 L1097.5,362.2 L1098.5,362.2 L1099.5,362.2 L1100.5,362.2 L1101.5,362.2 L1102.5,362.2 L1103.5,362.2 L1104.5,362.2 L1105.5,362.2 L1106.5,362.2 L1107.5,362.2 L1108.5,362.2 L1109.5,362.2 L1110.5,362.2 L1111.5,362.2 L1112.5,362.2 L1113.5,362.2 L1114.5,362.2 L1115.5,362.2 L1116.5,362.2 L1117.5,362.2 L1118.5,362.2 L1119.5,362.2 L1120.5,362.2 L1121.5,362.2 L1122.5,362.2 L1123.5,362.2 L1124.5,362.2 L1125.5,362.2 L1126.5,362.2 L1127.5,362.2 L1128.5,362.2 L1129.5,362.2 L1130.5,362.2 L1131.5,362.2 L1132.5,362.2 L1133.5,362.2 L1134.5,362.2 L1135.5,362.2 L1136.5,362.2 L1137.5,362.2 L1138.5,362.2 L1139.5,362.2 L1140.5,362.2 L1141.5,362.2 L1142.5,362.2 L1143.5,362.2 L1144.5,362.2 L1145.5,362.2 L1146.5,362.2 L1147.5,362.2 L1148.5,362.2 L1149.5,362.2 L1150.5,362.2 L1151.5,362.2 L1152.5,362.2 L1153.5,362.2 L1154.5,362.2 L1155.5,362.2 L1156.5,362.2 L1157.5,362.2 L1158.5,362.2 L1159.5,362.2 L1160.5,362.2 L1161.5,362.2 L1162.5,362.2 L1163.5,362.2 L1164.5,362.2 L1165.5,362.2 L1166.5,362.2 L1167.5,362.2 L1168.5,362.2 L1169.5,362.2 L1170.5,362.2 L1171.5,362.2 L1172.5,362.2 L1173.5,362.2 L1174.5,362.2 L1175.5,362.2 L1176.5,362.2 L1177.5,362.2 L1178.5,362.2 L1179.5,362.2 L1180.5,362.2 L1181.5,362.2 L1182.5,362.2 L1183.5,362.2 L1184.5,362.2 L1185.5,362.2 L1186.5,362.2 L1187.5,362.2 L1188.5,362.2 L1189.5,362.2 L1190.5,362.2 L1191.5,362.2 L1192.5,362.2 L1193.5,362.2 L1194.5,362.2 L1195.5,362.2 L1196.5,362.2 L1197.5,362.2 L1198.5,362.2 L1199.5,362.2 L1200.5,362.2 L1201.5,362.2 L1202.5,362.2 L1203.5,362.2 L1204.5,362.2 L1205.5,362.2 L1206.5,362.2 L1207.5,362.2 L1208.5,362.2 L1209.5,362.2 L1210.5,362.2 L1211.5,362.2 L1212.5,362.2 L1213.5,362.2 L1214.5,362.2 L1215.5,362.2 L1216.5,362.2 L1217.5,362.2 L1218.5,362.2 L1219.5,362.2 L1220.5,362.2 L1221.5,362.2 L1222.5,362.2 L1223.5,362.2 L1224.5,362.2 L1225.5,362.2 L1226.5,362.2 L1227.5,362.2 L1228.5,362.2 L1229.5,362.2 L1230.5,362.2 L1231.5,362.2 L1232.5,362.2 L1233.5,362.2 L1234.5,362.2 L1235.5,362.2 L1236.5,362.2 L1237.5,362.2 L1238.5,362.2 L1239.5,362.2 L1240.5,362.1 L1241.5,362.1 L1242.5,362.1 L1243.5,362.1 L1244.5,362.1 L1245.5,362.1 L1246.5,362.0 L1247.5,362.0 L1248.5,361.9 L1249.5,361.9 L1250.5,361.8 L1251.5,361.8 L1252.5,361.7 L1253.5,361.6 L1254.5,361.5 L1255.5,361.3 L1256.5,361.2 L1257.5,361.0 L1258.5,360.7 L1259.5,360.5 L1260.5,360.2 L1261.5,359.9 L1262.5,359.5 L1263.5,359.0 L1264.5,358.5 L1265.5,358.0 L1266.5,357.3 L1267.5,356.6 L1268.5,355.8 L1269.5,354.8 L1270.5,353.8 L1271.5,352.6 L1272.5,351.3 L1273.5,349.9 L1274.5,348.3 L1275.5,346.6 L1276.5,344.7 L1277.5,342.6 L1278.5,340.3 L1279.5,337.9 L1280.5,335.2 L1281.5,332.3 L1282.5,329.1 L1283.5,325.8 L1284.5,322.2 L1285.5,318.4 L1286.5,314.3 L1287.5,310.0 L1288.5,305.5 L1289.5,300.7 L1290.5,295.7 L1291.5,290.6 L1292.5,285.2 L1293.5,279.6 L1294.5,273.9 L1295.5,268.0 L1296.5,262.0 L1297.5,255.9 L1298.5,249.7 L1299.5,243.5 L1300.5,237.3 L1301.5,231.1 L1302.5,225.0 L1303.5,219.0 L1304.5,213.1 L1305.5,207.4 L1306.5,201.9 L1307.5,196.7 L1308.5,191.7 L1309.5,187.1 L1310.5,182.8 L1311.5,178.9 L1312.5,175.4 L1313.5,172.4 L1314.5,169.8 L1315.5,167.7 L1316.5,166.2 L1317.5,165.1 L1318.5,164.6 L1319.5,164.6 L1320.5,165.1 L1321.5,166.2 L1322.5,167.7 L1323.5,169.8 L1324.5,172.4 L1325.5,175.4 L1326.5,178.9 L1327.5,182.8 L1328.5,187.1 L1329.5,191.7 L1330.5,196.7 L1331.5,201.9 L1332.5,207.4 L1333.5,213.1 L1334.5,219.0 L1335.5,225.0 L1336.5,231.1 L1337.5,237.3 L1338.5,243.5 L1339.5,249.7 L1340.5,255.9 L1341.5,262.0 L1342.5,268.0 L1343.5,273.9 L1344.5,279.6 L1345.5,285.2 L1346.5,290.6 L1347.5,295.7 L1348.5,300.7 L1349.5,305.5 L1350.5,310.0 L1351.5,314.3 L1352.5,318.4 L1353.5,322.2 L1354.5,325.8 L1355.5,329.1 L1356.5,332.3 L1357.5,335.2 L1358.5,337.9 L1359.5,340.3 L1360.5,342.6 L1361.5,344.7 L1362.5,346.6 L1363.5,348.3 L1364.5,349.9 L1365.5,351.3 L1366.5,352.6 L1367.5,353.8 L1368.5,354.8 L1369.5,355.8 L1370.5,356.6 L1371.5,357.3 L1372.5,358.0 L1373.5,358.5 L1374.5,359.0 L1375.5,359.5 L1376.5,359.9 L1377.5,360.2 L1378.5,360.5 L1379.5,360.7 L1380.5,361.0 L1381.5,361.2 L1382.5,361.3 L1383.5,361.5 L1384.5,361.6 L1385.5,361.7 L1386.5,361.8 L1387.5,361.8 L1388.5,361.9 L1389.5,361.9 L1390.5,362.0 L1391.5,362.0 L1392.5,362.1 L1393.5,362.1 L1394.5,362.1 L1395.5,362.1 L1396.5,362.1 L1397.5,362.1 L1398.5,362.2 L1399.5,362.2 L1400.5,362.2 L1401.5,362.2 L1402.5,362.2 L1403.5,362.2 L1404.5,362.2 L1405.5,362.2 L1406.5,362.2 L1407.5,362.2 L1408.5,362.2 L1409.5,362.2 L1410.5,362.2 L1411.5,362.2 L1412.5,362.2 L1413.5,362.2 L1414.5,362.2 L1415.5,362.2 L1416.5,362.2 L1417.5,362.2 L1418.5,362.2 L1419.5,362.2 L1420.5,362.2 L1421.5,362.2 L1422.5,362.2 L1423.5,362.2 L1424.5,362.2 L1425.5,362.2 L1426.5,362.2 L1427.5,362.2 L1428.5,362.2 L1429.5,362.2 L1430.5,362.2 L1431.5,362.2 L1432.5,362.2 L1433.5,362.2 L1434.5,362.2 L1435.5,362.2 L1436.5,362.2 L1437.5,362.2 L1438.5,362.2 L1439.5,362.2 L1440.5,362.2 L1441.5,362.2 L1442.5,362.2 L1443.5,362.2 L1444.5,362.2 L1445.5,362.2 L1446.5,362.2 L1447.5,362.2 L1448.5,362.2 L1449.5,362.2 L1450.5,362.2 L1451.5,362.2 L1452.5,362.2 L1453.5,362.2 L1454.5,362.2 L1455.5,362.2 L1456.5,362.2 L1457.5,362.2 L1458.5,362.2 L1459.5,362.2 L1460.5,362.2" fill="none" stroke="#00ff00" stroke-width="4.3" stroke-linejoin="round" stroke-linecap="butt" />
<path d="M1058.5,362.2 L1059.5,362.2 L1060.5,362.1 L1061.5,362.1 L1062.5,362.1 L1063.5,362.1 L1064.5,362.1 L1065.5,362.1 L1066.5,362.1 L1067.5,362.1 L1068.5,362.1 L1069.5,362.1 L1070.5,362.1 L1071.5,362.1 L1072.5,362.1 L1073.5,362.0 L1074.5,362.0 L1075.5,362.0 L1076.5,362.0 L1077.5,362.0 L1078.5,362.0 L1079.5,361.9 L1080.5,361.9 L1081.5,361.9 L1082.5,361.9 L1083.5,361.8 L1084.5,361.8 L1085.5,361.8 L1086.5,361.8 L1087.5,361.7 L1088.5,361.7 L1089.5,361.6 L1090.5,361.6 L1091.5,361.5 L1092.5,361.5 L1093.5,361.4 L1094.5,361.4 L1095.5,361.3 L1096.5,361.3 L1097.5,361.2 L1098.5,361.1 L1099.5,361.0 L1100.5,360.9 L1101.5,360.9 L1102.5,360.8 L1103.5,360.7 L1104.5,360.5 L1105.5,360.4 L1106.5,360.3 L1107.5,360.2 L1108.5,360.0 L1109.5,359.9 L1110.5,359.7 L1111.5,359.5 L1112.5,359.4 L1113.5,359.2 L1114.5,359.0 L1115.5,358.8 L1116.5,358.5 L1117.5,358.3 L1118.5,358.1 L1119.5,357.8 L1120.5,357.5 L1121.5,357.2 L1122.5,356.9 L1123.5,356.6 L1124.5,356.3 L1125.5,355.9 L1126.5,355.5 L1127.5,355.1 L1128.5,354.7 L1129.5,354.3 L1130.5,353.8 L1131.5,353.3 L1132.5,352.8 L1133.5,352.3 L1134.5,351.7 L1135.5,351.2 L1136.5,350.5 L1137.5,349.9 L1138.5,349.3 L1139.5,348.6 L1140.5,347.8 L1141.5,347.1 L1142.5,346.3 L1143.5,345.5 L1144.5,344.6 L1145.5,343.8 L1146.5,342.8 L1147.5,341.9 L1148.5,340.9 L1149.5,339.9 L1150.5,338.8 L1151.5,337.7 L1152.5,336.6 L1153.5,335.4 L1154.5,334.1 L1155.5,332.9 L1156.5,331.6 L1157.5,330.2 L1158.5,328.8 L1159.5,327.4 L1160.5,325.9 L1161.5,324.3 L1162.5,322.8 L1163.5,321.1 L1164.5,319.5 L1165.5,317.7 L1166.5,316.0 L1167.5,314.2 L1168.5,312.3 L1169.5,310.4 L1170.5,308.4 L1171.5,306.4 L1172.5,304.4 L1173.5,302.3 L1174.5,300.2 L1175.5,298.0 L1176.5,295.8 L1177.5,293.5 L1178.5,291.2 L1179.5,288.8 L1180.5,286.4 L1181.5,284.0 L1182.5,281.5 L1183.5,279.0 L1184.5,276.4 L1185.5,273.8 L1186.5,271.2 L1187.5,268.6 L1188.5,265.9 L1189.5,263.1 L1190.5,260.4 L1191.5,257.6 L1192.5,254.8 L1193.5,252.0 L1194.5,249.2 L1195.5,246.3 L1196.5,243.5 L1197.5,240.6 L1198.5,237.7 L1199.5,234.8 L1200.5,231.9 L1201.5,229.0 L1202.5,226.1 L1203.5,223.2 L1204.5,220.3 L1205.5,217.4 L1206.5,214.6 L1207.5,211.7 L1208.5,208.9 L1209.5,206.1 L1210.5,203.3 L1211.5,200.5 L1212.5,197.8 L1213.5,195.1 L1214.5,192.5 L1215.5,189.9 L1216.5,187.3 L1217.5,184.8 L1218.5,182.3 L1219.5,179.9 L1220.5,177.5 L1221.5,175.2 L1222.5,173.0 L1223.5,170.8 L1224.5,168.7 L1225.5,166.7 L1226.5,164.7 L1227.5,162.9 L1228.5,161.1 L1229.5,159.3 L1230.5,157.7 L1231.5,156.2 L1232.5,154.7 L1233.5,153.3 L1234.5,152.0 L1235.5,150.9 L1236.5,149.8 L1237.5,148.8 L1238.5,147.9 L1239.5,147.1 L1240.5,146.4 L1241.5,145.8 L1242.5,145.3 L1243.5,144.9 L1244.5,144.6 L1245.5,144.4 L1246.5,144.3 L1247.5,144.3 L1248.5,144.4 L1249.5,144.6 L1250.5,144.9 L1251.5,145.3 L1252.5,145.8 L1253.5,146.4 L1254.5,147.0 L1255.5,147.7 L1256.5,148.5 L1257.5,149.4 L1258.5,150.4 L1259.5,151.4 L1260.5,152.4 L1261.5,153.5 L1262.5,154.7 L1263.5,155.8 L1264.5,157.0 L1265.5,158.3 L1266.5,159.5 L1267.5,160.7 L1268.5,161.9 L1269.5,163.0 L1270.5,164.1 L1271.5,165.2 L1272.5,166.2 L1273.5,167.1 L1274.5,168.0 L1275.5,168.7 L1276.5,169.3 L1277.5,169.7 L1278.5,170.1 L1279.5,170.2 L1280.5,170.2 L1281.5,170.0 L1282.5,169.7 L1283.5,169.1 L1284.5,168.3 L1285.5,167.3 L1286.5,166.1 L1287.5,164.7 L1288.5,163.0 L1289.5,161.1 L1290.5,159.1 L1291.5,156.8 L1292.5,154.3 L1293.5,151.6 L1294.5,148.8 L1295.5,145.8 L1296.5,142.7 L1297.5,139.5 L1298.5,136.1 L1299.5,132.8 L1300.5,129.4 L1301.5,126.0 L1302.5,122.7 L1303.5,119.4 L1304.5,116.2 L1305.5,113.2 L1306.5,110.4 L1307.5,107.8 L1308.5,105.4 L1309.5,103.3 L1310.5,101.6 L1311.5,100.2 L1312.5,99.1 L1313.5,98.5 L1314.5,98.3 L1315.5,98.6 L1316.5,99.3 L1317.5,100.4 L1318.5,102.1 L1319.5,104.3 L1320.5,106.9 L1321.5,110.0 L1322.5,113.6 L1323.5,117.6 L1324.5,122.1 L1325.5,127.0 L1326.5,132.3 L1327.5,138.0 L1328.5,144.0 L1329.5,150.3 L1330.5,156.9 L1331.5,163.7 L1332.5,170.8 L1333.5,178.0 L1334.5,185.3 L1335.5,192.7 L1336.5,200.2 L1337.5,207.7 L1338.5,215.2 L1339.5,222.7 L1340.5,230.0 L1341.5,237.3 L1342.5,244.4 L1343.5,251.3 L1344.5,258.1 L1345.5,264.7 L1346.5,271.0 L1347.5,277.1 L1348.5,283.0 L1349.5,288.6 L1350.5,294.0 L1351.5,299.0 L1352.5,303.9 L1353.5,308.4 L1354.5,312.7 L1355.5,316.7 L1356.5,320.5 L1357.5,324.0 L1358.5,327.3 L1359.5,330.3 L1360.5,333.1 L1361.5,335.7 L1362.5,338.1 L1363.5,340.3 L1364.5,342.3 L1365.5,344.2 L1366.5,345.9 L1367.5,347.4 L1368.5,348.8 L1369.5,350.1 L1370.5,351.2 L1371.5,352.3 L1372.5,353.2 L1373.5,354.1 L1374.5,354.8 L1375.5,355.5 L1376.5,356.2 L1377.5,356.7 L1378.5,357.2 L1379.5,357.7 L1380.5,358.1 L1381.5,358.5 L1382.5,358.8 L1383.5,359.1 L1384.5,359.4 L1385.5,359.6 L1386.5,359.8 L1387.5,360.0 L1388.5,360.2 L1389.5,360.4 L1390.5,360.5 L1391.5,360.7 L1392.5,360.8 L1393.5,360.9 L1394.5,361.0 L1395.5,361.1 L1396.5,361.2 L1397.5,361.3 L1398.5,361.3 L1399.5,361.4 L1400.5,361.5 L1401.5,361.5 L1402.5,361.6 L1403.5,361.6 L1404.5,361.7 L1405.5,361.7 L1406.5,361.7 L1407.5,361.8 L1408.5,361.8 L1409.5,361.8 L1410.5,361.9 L1411.5,361.9 L1412.5,361.9 L1413.5,361.9 L1414.5,362.0 L1415.5,362.0 L1416.5,362.0 L1417.5,362.0 L1418.5,362.0 L1419.5,362.0 L1420.5,362.1 L1421.5,362.1 L1422.5,362.1 L1423.5,362.1 L1424.5,362.1 L1425.5,362.1 L1426.5,362.1 L1427.5,362.1 L1428.5,362.1 L1429.5,362.1 L1430.5,362.1 L1431.5,362.1 L1432.5,362.1 L1433.5,362.2 L1434.5,362.2 L1435.5,362.2 L1436.5,362.2 L1437.5,362.2 L1438.5,362.2 L1439.5,362.2 L1440.5,362.2 L1441.5,362.2 L1442.5,362.2 L1443.5,362.2 L1444.5,362.2 L1445.5,362.2 L1446.5,362.2 L1447.5,362.2 L1448.5,362.2 L1449.5,362.2 L1450.5,362.2 L1451.5,362.2 L1452.5,362.2 L1453.5,362.2 L1454.5,362.2 L1455.5,362.2 L1456.5,362.2 L1457.5,362.2 L1458.5,362.2 L1459.5,362.2 L1460.5,362.2" fill="none" stroke="#0000ff" stroke-width="4.3" stroke-linejoin="round" stroke-linecap="butt" />
</g>
<rect x="1058.5" y="52.5" width="402.0" height="324.0" fill="none" stroke="#000" stroke-width="3"/>
<path d="M1058.5,377.5V382.9M1125.5,377.5V382.9M1192.5,377.5V382.9M1259.5,377.5V382.9M1326.5,377.5V382.9M1393.5,377.5V382.9M1460.5,377.5V382.9M1092.0,377.5V379.9M1159.0,377.5V379.9M1226.0,377.5V379.9M1293.0,377.5V379.9M1360.0,377.5V379.9M1427.0,377.5V379.9" stroke="#000" stroke-width="3" fill="none"/>
<rect x="992.1" y="37" width="59.7" height="48.8" fill="#c0cad7"/>
<text transform="translate(1021.1,78.4) scale(0.97,1)" font-size="43.5" text-anchor="middle" class="lab" stroke="#c0cad7" stroke-width="0.5">c</text>
<text x="1070.04" y="84.80" font-size="24" textLength="202.22" lengthAdjust="spacingAndGlyphs" >SF@Ca/TGA/ADD</text>
<text><tspan x="1077.90" y="130.80" font-size="23" font-style="italic">I</tspan><tspan x="1084.49" y="137.50" font-size="17" font-style="italic" font-weight="400" stroke="#000" stroke-width="0.7">D</tspan><tspan x="1100.70" y="130.80" font-size="23" font-style="italic" font-weight="400" stroke="#000" stroke-width="1.0">/</tspan><tspan x="1114.00" y="130.80" font-size="23" font-style="italic">I</tspan><tspan x="1121.59" y="137.50" font-size="17" font-style="italic" font-weight="400" stroke="#000" stroke-width="0.7">G</tspan><tspan x="1133.68" y="130.80" font-size="23">=</tspan><tspan x="1147.86" y="130.80" font-size="23">1.51</tspan></text>
<text x="1233.15" y="129.50" font-size="27.5" textLength="20.58" lengthAdjust="spacingAndGlyphs" >D</text>
<text x="1305.90" y="88.10" font-size="27.5" textLength="21.47" lengthAdjust="spacingAndGlyphs" >G</text>
<g transform="translate(1043.8,276.3) rotate(-90)">
<text x="-1.21" y="0.00" font-size="18" textLength="125.91" lengthAdjust="spacingAndGlyphs" stroke="#000" stroke-width="0.45">Intensity (a.u.)</text>
</g>
<text x="1042.79" y="400.30" font-size="17" textLength="30.97" lengthAdjust="spacingAndGlyphs" >800</text>
<text x="1104.87" y="400.30" font-size="17" textLength="40.25" lengthAdjust="spacingAndGlyphs" >1000</text>
<text x="1171.87" y="400.30" font-size="17" textLength="40.25" lengthAdjust="spacingAndGlyphs" >1200</text>
<text x="1238.87" y="400.30" font-size="17" textLength="40.25" lengthAdjust="spacingAndGlyphs" >1400</text>
<text x="1305.87" y="400.30" font-size="17" textLength="40.25" lengthAdjust="spacingAndGlyphs" >1600</text>
<text x="1372.87" y="400.30" font-size="17" textLength="40.25" lengthAdjust="spacingAndGlyphs" >1800</text>
<text x="1440.42" y="400.30" font-size="17" textLength="39.69" lengthAdjust="spacingAndGlyphs" >2000</text>
<text x="1177.98" y="433.50" font-size="17.8" textLength="145.48" lengthAdjust="spacingAndGlyphs" >Raman shift (cm</text>
<text x="1322.64" y="426.50" font-size="12.5" textLength="8.62" lengthAdjust="spacingAndGlyphs" >-1</text>
<text x="1333.50" y="433.50" font-size="17.8" textLength="5.84" lengthAdjust="spacingAndGlyphs" >)</text>
<defs><marker id="ah" viewBox="0 0 8 4" refX="8" refY="2" markerWidth="8" markerHeight="4" orient="auto" markerUnits="userSpaceOnUse"><path d="M0,0L8,2L0,4z" fill="#000"/></marker></defs>
<clipPath id="cb0"><rect x="106.5" y="505.4" width="402.0" height="325.0"/></clipPath>
<g clip-path="url(#cb0)">
<path d="M106.5,791.6 L107.5,791.5 L108.5,791.4 L109.5,791.3 L110.5,791.1 L111.5,790.9 L112.5,790.8 L113.5,790.6 L114.5,790.5 L115.5,790.4 L116.5,790.4 L117.5,790.2 L118.5,790.1 L119.5,789.9 L120.5,789.8 L121.5,789.6 L122.5,789.4 L123.5,789.3 L124.5,789.2 L125.5,789.3 L126.5,789.6 L127.5,789.9 L128.5,790.3 L129.5,790.5 L130.5,790.6 L131.5,790.5 L132.5,790.4 L133.5,790.3 L134.5,790.1 L135.5,790.0 L136.5,789.9 L137.5,789.7 L138.5,789.6 L139.5,789.4 L140.5,789.3 L141.5,789.1 L142.5,788.9 L143.5,788.8 L144.5,788.6 L145.5,788.2 L146.5,787.7 L147.5,787.2 L148.5,786.6 L149.5,786.0 L150.5,785.5 L151.5,785.2 L152.5,784.9 L153.5,784.7 L154.5,784.4 L155.5,784.2 L156.5,783.9 L157.5,783.7 L158.5,783.4 L159.5,783.1 L160.5,782.8 L161.5,782.5 L162.5,782.3 L163.5,782.3 L164.5,782.3 L165.5,782.3 L166.5,782.4 L167.5,782.3 L168.5,782.1 L169.5,781.8 L170.5,781.4 L171.5,781.0 L172.5,780.6 L173.5,780.2 L174.5,779.7 L175.5,779.3 L176.5,778.8 L177.5,778.3 L178.5,777.9 L179.5,777.4 L180.5,776.8 L181.5,776.2 L182.5,775.5 L183.5,774.8 L184.5,774.1 L185.5,773.3 L186.5,772.6 L187.5,772.0 L188.5,771.3 L189.5,770.7 L190.5,770.2 L191.5,769.7 L192.5,769.2 L193.5,768.8 L194.5,768.4 L195.5,767.9 L196.5,767.4 L197.5,766.9 L198.5,766.4 L199.5,765.8 L200.5,765.1 L201.5,764.4 L202.5,763.8 L203.5,763.1 L204.5,762.4 L205.5,761.6 L206.5,760.9 L207.5,760.2 L208.5,759.5 L209.5,758.8 L210.5,758.0 L211.5,757.3 L212.5,756.6 L213.5,755.8 L214.5,755.0 L215.5,754.2 L216.5,753.3 L217.5,752.3 L218.5,751.3 L219.5,750.3 L220.5,749.4 L221.5,748.5 L222.5,747.6 L223.5,746.8 L224.5,746.1 L225.5,745.5 L226.5,744.8 L227.5,744.2 L228.5,743.5 L229.5,742.9 L230.5,742.3 L231.5,741.6 L232.5,741.0 L233.5,740.3 L234.5,739.7 L235.5,739.0 L236.5,738.4 L237.5,737.7 L238.5,737.0 L239.5,736.4 L240.5,735.7 L241.5,735.0 L242.5,734.4 L243.5,733.7 L244.5,733.1 L245.5,732.4 L246.5,731.8 L247.5,731.1 L248.5,730.5 L249.5,729.8 L250.5,729.1 L251.5,728.4 L252.5,727.6 L253.5,726.9 L254.5,726.1 L255.5,725.2 L256.5,724.4 L257.5,723.5 L258.5,722.6 L259.5,721.8 L260.5,721.1 L261.5,720.5 L262.5,719.8 L263.5,719.2 L264.5,718.5 L265.5,717.7 L266.5,716.9 L267.5,715.9 L268.5,714.9 L269.5,713.8 L270.5,712.6 L271.5,711.3 L272.5,710.0 L273.5,708.6 L274.5,707.2 L275.5,705.8 L276.5,704.4 L277.5,702.9 L278.5,701.2 L279.5,699.6 L280.5,697.8 L281.5,696.0 L282.5,694.1 L283.5,692.3 L284.5,690.4 L285.5,688.5 L286.5,686.6 L287.5,684.8 L288.5,683.0 L289.5,681.4 L290.5,679.7 L291.5,678.1 L292.5,676.4 L293.5,674.7 L294.5,673.0 L295.5,671.3 L296.5,669.5 L297.5,667.6 L298.5,665.5 L299.5,663.4 L300.5,661.1 L301.5,658.7 L302.5,656.3 L303.5,653.9 L304.5,651.5 L305.5,649.2 L306.5,646.9 L307.5,644.7 L308.5,642.4 L309.5,640.2 L310.5,638.1 L311.5,636.0 L312.5,634.0 L313.5,632.1 L314.5,630.3 L315.5,628.6 L316.5,626.8 L317.5,625.0 L318.5,623.3 L319.5,621.6 L320.5,620.0 L321.5,618.4 L322.5,617.0 L323.5,615.7 L324.5,614.5 L325.5,613.4 L326.5,612.2 L327.5,611.0 L328.5,609.7 L329.5,608.4 L330.5,607.2 L331.5,605.9 L332.5,604.7 L333.5,603.6 L334.5,602.6 L335.5,601.8 L336.5,601.1 L337.5,600.5 L338.5,600.1 L339.5,599.7 L340.5,599.4 L341.5,599.1 L342.5,598.8 L343.5,598.5 L344.5,598.1 L345.5,597.7 L346.5,597.3 L347.5,596.9 L348.5,596.4 L349.5,595.8 L350.5,595.2 L351.5,594.5 L352.5,593.8 L353.5,593.0 L354.5,592.2 L355.5,591.4 L356.5,590.5 L357.5,589.7 L358.5,588.8 L359.5,588.0 L360.5,587.0 L361.5,585.9 L362.5,584.7 L363.5,583.5 L364.5,582.3 L365.5,581.2 L366.5,580.2 L367.5,579.4 L368.5,578.9 L369.5,578.3 L370.5,577.7 L371.5,577.2 L372.5,576.7 L373.5,576.2 L374.5,575.7 L375.5,575.3 L376.5,574.9 L377.5,574.7 L378.5,574.7 L379.5,574.7 L380.5,574.8 L381.5,574.9 L382.5,574.9 L383.5,575.1 L384.5,575.5 L385.5,576.3 L386.5,577.4 L387.5,578.6 L388.5,579.9 L389.5,581.4 L390.5,583.0 L391.5,584.8 L392.5,587.0 L393.5,589.5 L394.5,592.5 L395.5,595.8 L396.5,599.2 L397.5,603.0 L398.5,607.1 L399.5,611.2 L400.5,615.0 L401.5,619.0 L402.5,623.2 L403.5,627.7 L404.5,632.4 L405.5,637.2 L406.5,642.1 L407.5,647.0 L408.5,651.9 L409.5,656.9 L410.5,661.8 L411.5,666.7 L412.5,671.6 L413.5,676.4 L414.5,681.3 L415.5,686.3 L416.5,691.1 L417.5,695.9 L418.5,700.4 L419.5,704.8 L420.5,709.0 L421.5,713.1 L422.5,717.0 L423.5,720.7 L424.5,724.3 L425.5,727.9 L426.5,731.5 L427.5,735.1 L428.5,738.4 L429.5,741.5 L430.5,744.3 L431.5,747.3 L432.5,750.4 L433.5,753.6 L434.5,756.6 L435.5,759.6 L436.5,762.4 L437.5,764.9 L438.5,767.3 L439.5,769.5 L440.5,771.6 L441.5,773.4 L442.5,775.1 L443.5,776.7 L444.5,778.0 L445.5,779.2 L446.5,780.3 L447.5,781.2 L448.5,782.2 L449.5,783.2 L450.5,784.4 L451.5,785.5 L452.5,786.5 L453.5,787.5 L454.5,788.5 L455.5,789.3 L456.5,790.0 L457.5,790.6 L458.5,791.1 L459.5,791.7 L460.5,792.1 L461.5,792.6 L462.5,793.0 L463.5,793.3 L464.5,793.7 L465.5,794.0 L466.5,794.3 L467.5,794.6 L468.5,794.9 L469.5,795.2 L470.5,795.4 L471.5,795.7 L472.5,796.0 L473.5,796.2 L474.5,796.5 L475.5,796.8 L476.5,797.1 L477.5,797.3 L478.5,797.6 L479.5,797.8 L480.5,798.1 L481.5,798.3 L482.5,798.5 L483.5,798.7 L484.5,798.8 L485.5,798.9 L486.5,799.0 L487.5,799.2 L488.5,799.3 L489.5,799.5 L490.5,799.7 L491.5,799.9 L492.5,800.1 L493.5,800.2 L494.5,800.3 L495.5,800.3 L496.5,800.3 L497.5,800.3 L498.5,800.2 L499.5,800.1 L500.5,800.0 L501.5,799.9 L502.5,799.9 L503.5,800.0 L504.5,800.1 L505.5,800.3 L506.5,800.5 L507.5,800.6 L508.5,800.7" fill="none" stroke="#000" stroke-width="4.2" stroke-linejoin="round" stroke-linecap="butt" />
<path d="M118.5,791.6 L119.5,791.5 L120.5,791.5 L121.5,791.4 L122.5,791.4 L123.5,791.3 L124.5,791.3 L125.5,791.2 L126.5,791.1 L127.5,791.1 L128.5,791.0 L129.5,790.9 L130.5,790.9 L131.5,790.8 L132.5,790.7 L133.5,790.6 L134.5,790.5 L135.5,790.4 L136.5,790.3 L137.5,790.2 L138.5,790.1 L139.5,789.9 L140.5,789.8 L141.5,789.7 L142.5,789.5 L143.5,789.4 L144.5,789.2 L145.5,789.1 L146.5,788.9 L147.5,788.7 L148.5,788.6 L149.5,788.4 L150.5,788.2 L151.5,788.0 L152.5,787.7 L153.5,787.5 L154.5,787.3 L155.5,787.1 L156.5,786.8 L157.5,786.6 L158.5,786.3 L159.5,786.0 L160.5,785.7 L161.5,785.4 L162.5,785.1 L163.5,784.8 L164.5,784.5 L165.5,784.2 L166.5,783.8 L167.5,783.5 L168.5,783.1 L169.5,782.7 L170.5,782.3 L171.5,781.9 L172.5,781.5 L173.5,781.1 L174.5,780.7 L175.5,780.2 L176.5,779.8 L177.5,779.3 L178.5,778.9 L179.5,778.4 L180.5,777.9 L181.5,777.4 L182.5,776.9 L183.5,776.3 L184.5,775.8 L185.5,775.3 L186.5,774.7 L187.5,774.2 L188.5,773.6 L189.5,773.0 L190.5,772.4 L191.5,771.8 L192.5,771.2 L193.5,770.6 L194.5,770.0 L195.5,769.4 L196.5,768.8 L197.5,768.1 L198.5,767.5 L199.5,766.8 L200.5,766.2 L201.5,765.5 L202.5,764.9 L203.5,764.2 L204.5,763.6 L205.5,762.9 L206.5,762.3 L207.5,761.6 L208.5,761.0 L209.5,760.3 L210.5,759.7 L211.5,759.0 L212.5,758.4 L213.5,757.8 L214.5,757.1 L215.5,756.5 L216.5,755.9 L217.5,755.3 L218.5,754.7 L219.5,754.1 L220.5,753.5 L221.5,753.0 L222.5,752.4 L223.5,751.9 L224.5,751.3 L225.5,750.8 L226.5,750.3 L227.5,749.9 L228.5,749.4 L229.5,748.9 L230.5,748.5 L231.5,748.1 L232.5,747.7 L233.5,747.4 L234.5,747.0 L235.5,746.7 L236.5,746.4 L237.5,746.1 L238.5,745.8 L239.5,745.6 L240.5,745.4 L241.5,745.2 L242.5,745.0 L243.5,744.9 L244.5,744.8 L245.5,744.7 L246.5,744.6 L247.5,744.6 L248.5,744.6 L249.5,744.6 L250.5,744.7 L251.5,744.7 L252.5,744.8 L253.5,744.9 L254.5,745.1 L255.5,745.2 L256.5,745.4 L257.5,745.6 L258.5,745.8 L259.5,746.1 L260.5,746.3 L261.5,746.6 L262.5,746.9 L263.5,747.3 L264.5,747.6 L265.5,748.0 L266.5,748.4 L267.5,748.8 L268.5,749.2 L269.5,749.6 L270.5,750.1 L271.5,750.5 L272.5,751.0 L273.5,751.5 L274.5,752.0 L275.5,752.5 L276.5,753.0 L277.5,753.6 L278.5,754.1 L279.5,754.7 L280.5,755.2 L281.5,755.8 L282.5,756.4 L283.5,756.9 L284.5,757.5 L285.5,758.1 L286.5,758.7 L287.5,759.3 L288.5,759.9 L289.5,760.5 L290.5,761.1 L291.5,761.8 L292.5,762.4 L293.5,763.0 L294.5,763.6 L295.5,764.2 L296.5,764.8 L297.5,765.4 L298.5,766.1 L299.5,766.7 L300.5,767.3 L301.5,767.9 L302.5,768.5 L303.5,769.1 L304.5,769.7 L305.5,770.3 L306.5,770.9 L307.5,771.4 L308.5,772.0 L309.5,772.6 L310.5,773.2 L311.5,773.7 L312.5,774.3 L313.5,774.8 L314.5,775.4 L315.5,775.9 L316.5,776.4 L317.5,777.0 L318.5,777.5 L319.5,778.0 L320.5,778.5 L321.5,779.0 L322.5,779.5 L323.5,779.9 L324.5,780.4 L325.5,780.9 L326.5,781.3 L327.5,781.8 L328.5,782.2 L329.5,782.7 L330.5,783.1 L331.5,783.5 L332.5,783.9 L333.5,784.3 L334.5,784.7 L335.5,785.1 L336.5,785.5 L337.5,785.9 L338.5,786.2 L339.5,786.6 L340.5,787.0 L341.5,787.3 L342.5,787.6 L343.5,788.0 L344.5,788.3 L345.5,788.6 L346.5,788.9 L347.5,789.2 L348.5,789.5 L349.5,789.8 L350.5,790.1 L351.5,790.3 L352.5,790.6 L353.5,790.9 L354.5,791.1 L355.5,791.4 L356.5,791.6 L357.5,791.9 L358.5,792.1 L359.5,792.3 L360.5,792.6 L361.5,792.8 L362.5,793.0 L363.5,793.2 L364.5,793.4 L365.5,793.6 L366.5,793.8 L367.5,794.0 L368.5,794.2 L369.5,794.3 L370.5,794.5 L371.5,794.7 L372.5,794.9 L373.5,795.0 L374.5,795.2 L375.5,795.3 L376.5,795.5 L377.5,795.7 L378.5,795.8 L379.5,795.9 L380.5,796.1 L381.5,796.2 L382.5,796.4 L383.5,796.5 L384.5,796.6 L385.5,796.7 L386.5,796.9 L387.5,797.0 L388.5,797.1 L389.5,797.2 L390.5,797.3 L391.5,797.4 L392.5,797.6 L393.5,797.7 L394.5,797.8 L395.5,797.9 L396.5,798.0 L397.5,798.0 L398.5,798.1 L399.5,798.2 L400.5,798.3 L401.5,798.4 L402.5,798.5 L403.5,798.6 L404.5,798.6 L405.5,798.7 L406.5,798.8 L407.5,798.8 L408.5,798.9 L409.5,799.0 L410.5,799.0 L411.5,799.1 L412.5,799.2 L413.5,799.2 L414.5,799.3 L415.5,799.3 L416.5,799.4 L417.5,799.4 L418.5,799.5 L419.5,799.5 L420.5,799.5 L421.5,799.6 L422.5,799.6" fill="none" stroke="#0000ff" stroke-width="3.9" stroke-linejoin="round" stroke-linecap="butt" />
<path d="M197.5,791.8 L198.5,791.7 L199.5,791.7 L200.5,791.7 L201.5,791.6 L202.5,791.6 L203.5,791.5 L204.5,791.5 L205.5,791.4 L206.5,791.4 L207.5,791.3 L208.5,791.2 L209.5,791.2 L210.5,791.1 L211.5,791.0 L212.5,790.9 L213.5,790.8 L214.5,790.7 L215.5,790.6 L216.5,790.5 L217.5,790.3 L218.5,790.2 L219.5,790.0 L220.5,789.9 L221.5,789.7 L222.5,789.5 L223.5,789.3 L224.5,789.1 L225.5,788.9 L226.5,788.7 L227.5,788.4 L228.5,788.2 L229.5,787.9 L230.5,787.6 L231.5,787.3 L232.5,787.0 L233.5,786.6 L234.5,786.2 L235.5,785.8 L236.5,785.4 L237.5,785.0 L238.5,784.5 L239.5,784.0 L240.5,783.5 L241.5,783.0 L242.5,782.4 L243.5,781.8 L244.5,781.2 L245.5,780.5 L246.5,779.8 L247.5,779.1 L248.5,778.3 L249.5,777.5 L250.5,776.7 L251.5,775.8 L252.5,774.9 L253.5,774.0 L254.5,773.0 L255.5,772.0 L256.5,770.9 L257.5,769.8 L258.5,768.6 L259.5,767.4 L260.5,766.2 L261.5,764.9 L262.5,763.6 L263.5,762.2 L264.5,760.8 L265.5,759.3 L266.5,757.8 L267.5,756.2 L268.5,754.6 L269.5,752.9 L270.5,751.2 L271.5,749.5 L272.5,747.7 L273.5,745.8 L274.5,743.9 L275.5,742.0 L276.5,740.0 L277.5,738.0 L278.5,735.9 L279.5,733.8 L280.5,731.7 L281.5,729.5 L282.5,727.3 L283.5,725.0 L284.5,722.7 L285.5,720.4 L286.5,718.0 L287.5,715.7 L288.5,713.3 L289.5,710.8 L290.5,708.4 L291.5,705.9 L292.5,703.5 L293.5,701.0 L294.5,698.5 L295.5,696.0 L296.5,693.5 L297.5,691.0 L298.5,688.5 L299.5,686.0 L300.5,683.5 L301.5,681.1 L302.5,678.7 L303.5,676.2 L304.5,673.9 L305.5,671.5 L306.5,669.2 L307.5,666.9 L308.5,664.7 L309.5,662.5 L310.5,660.3 L311.5,658.2 L312.5,656.2 L313.5,654.2 L314.5,652.3 L315.5,650.5 L316.5,648.7 L317.5,647.1 L318.5,645.5 L319.5,643.9 L320.5,642.5 L321.5,641.2 L322.5,639.9 L323.5,638.8 L324.5,637.7 L325.5,636.8 L326.5,635.9 L327.5,635.2 L328.5,634.5 L329.5,634.0 L330.5,633.6 L331.5,633.3 L332.5,633.1 L333.5,633.0 L334.5,633.0 L335.5,633.2 L336.5,633.5 L337.5,634.0 L338.5,634.6 L339.5,635.3 L340.5,636.2 L341.5,637.2 L342.5,638.4 L343.5,639.6 L344.5,641.0 L345.5,642.6 L346.5,644.2 L347.5,645.9 L348.5,647.8 L349.5,649.7 L350.5,651.8 L351.5,653.9 L352.5,656.1 L353.5,658.3 L354.5,660.7 L355.5,663.1 L356.5,665.5 L357.5,668.0 L358.5,670.5 L359.5,673.1 L360.5,675.7 L361.5,678.4 L362.5,681.1 L363.5,683.7 L364.5,686.4 L365.5,689.1 L366.5,691.9 L367.5,694.6 L368.5,697.3 L369.5,700.0 L370.5,702.7 L371.5,705.3 L372.5,708.0 L373.5,710.6 L374.5,713.3 L375.5,715.8 L376.5,718.4 L377.5,720.9 L378.5,723.4 L379.5,725.9 L380.5,728.3 L381.5,730.7 L382.5,733.0 L383.5,735.3 L384.5,737.6 L385.5,739.8 L386.5,741.9 L387.5,744.0 L388.5,746.1 L389.5,748.1 L390.5,750.1 L391.5,752.0 L392.5,753.9 L393.5,755.7 L394.5,757.4 L395.5,759.1 L396.5,760.8 L397.5,762.4 L398.5,764.0 L399.5,765.5 L400.5,766.9 L401.5,768.3 L402.5,769.7 L403.5,771.0 L404.5,772.3 L405.5,773.5 L406.5,774.7 L407.5,775.8 L408.5,776.9 L409.5,778.0 L410.5,779.0 L411.5,779.9 L412.5,780.8 L413.5,781.7 L414.5,782.6 L415.5,783.4 L416.5,784.2 L417.5,784.9 L418.5,785.6 L419.5,786.3 L420.5,786.9 L421.5,787.6 L422.5,788.2 L423.5,788.7 L424.5,789.2 L425.5,789.8 L426.5,790.2 L427.5,790.7 L428.5,791.1 L429.5,791.6 L430.5,792.0 L431.5,792.3 L432.5,792.7 L433.5,793.0 L434.5,793.4 L435.5,793.7 L436.5,794.0 L437.5,794.2 L438.5,794.5 L439.5,794.8 L440.5,795.0 L441.5,795.2 L442.5,795.4 L443.5,795.6 L444.5,795.8 L445.5,796.0 L446.5,796.2 L447.5,796.4 L448.5,796.5 L449.5,796.7 L450.5,796.8 L451.5,797.0 L452.5,797.1 L453.5,797.2 L454.5,797.3 L455.5,797.4 L456.5,797.5 L457.5,797.7 L458.5,797.8 L459.5,797.8 L460.5,797.9 L461.5,798.0 L462.5,798.1 L463.5,798.2 L464.5,798.3 L465.5,798.3 L466.5,798.4 L467.5,798.5 L468.5,798.5 L469.5,798.6 L470.5,798.7 L471.5,798.7 L472.5,798.8 L473.5,798.8 L474.5,798.9 L475.5,798.9 L476.5,799.0 L477.5,799.0 L478.5,799.1 L479.5,799.1 L480.5,799.2 L481.5,799.2 L482.5,799.3 L483.5,799.3 L484.5,799.3 L485.5,799.4 L486.5,799.4 L487.5,799.5 L488.5,799.5 L489.5,799.5 L490.5,799.6 L491.5,799.6 L492.5,799.6 L493.5,799.6 L494.5,799.7 L495.5,799.7 L496.5,799.7 L497.5,799.8 L498.5,799.8 L499.5,799.8 L500.5,799.8 L501.5,799.9 L502.5,799.9 L503.5,799.9 L504.5,799.9 L505.5,800.0 L506.5,800.0 L507.5,800.0" fill="none" stroke="#00ff00" stroke-width="3.9" stroke-linejoin="round" stroke-linecap="butt" />
<path d="M304.5,792.9 L305.5,792.8 L306.5,792.7 L307.5,792.6 L308.5,792.4 L309.5,792.2 L310.5,792.0 L311.5,791.8 L312.5,791.6 L313.5,791.3 L314.5,791.0 L315.5,790.7 L316.5,790.4 L317.5,790.0 L318.5,789.5 L319.5,789.1 L320.5,788.6 L321.5,788.0 L322.5,787.4 L323.5,786.8 L324.5,786.1 L325.5,785.3 L326.5,784.5 L327.5,783.7 L328.5,782.7 L329.5,781.7 L330.5,780.6 L331.5,779.5 L332.5,778.3 L333.5,777.0 L334.5,775.6 L335.5,774.1 L336.5,772.6 L337.5,770.9 L338.5,769.2 L339.5,767.4 L340.5,765.5 L341.5,763.5 L342.5,761.3 L343.5,759.1 L344.5,756.8 L345.5,754.5 L346.5,752.0 L347.5,749.4 L348.5,746.7 L349.5,743.9 L350.5,741.1 L351.5,738.1 L352.5,735.1 L353.5,732.0 L354.5,728.9 L355.5,725.6 L356.5,722.3 L357.5,719.0 L358.5,715.6 L359.5,712.1 L360.5,708.6 L361.5,705.1 L362.5,701.6 L363.5,698.1 L364.5,694.6 L365.5,691.1 L366.5,687.6 L367.5,684.1 L368.5,680.7 L369.5,677.4 L370.5,674.1 L371.5,670.9 L372.5,667.8 L373.5,664.7 L374.5,661.8 L375.5,659.1 L376.5,656.4 L377.5,653.9 L378.5,651.6 L379.5,649.4 L380.5,647.4 L381.5,645.6 L382.5,644.0 L383.5,642.6 L384.5,641.4 L385.5,640.4 L386.5,639.6 L387.5,639.0 L388.5,638.7 L389.5,638.6 L390.5,638.7 L391.5,639.2 L392.5,640.0 L393.5,641.0 L394.5,642.4 L395.5,644.0 L396.5,645.9 L397.5,648.1 L398.5,650.5 L399.5,653.1 L400.5,655.9 L401.5,658.9 L402.5,662.1 L403.5,665.4 L404.5,668.8 L405.5,672.4 L406.5,676.1 L407.5,679.8 L408.5,683.6 L409.5,687.4 L410.5,691.2 L411.5,695.1 L412.5,699.0 L413.5,702.8 L414.5,706.7 L415.5,710.5 L416.5,714.3 L417.5,718.0 L418.5,721.6 L419.5,725.2 L420.5,728.7 L421.5,732.1 L422.5,735.5 L423.5,738.7 L424.5,741.9 L425.5,744.9 L426.5,747.9 L427.5,750.7 L428.5,753.5 L429.5,756.1 L430.5,758.6 L431.5,761.1 L432.5,763.4 L433.5,765.6 L434.5,767.7 L435.5,769.7 L436.5,771.6 L437.5,773.4 L438.5,775.1 L439.5,776.7 L440.5,778.2 L441.5,779.7 L442.5,781.0 L443.5,782.3 L444.5,783.5 L445.5,784.6 L446.5,785.6 L447.5,786.6 L448.5,787.5 L449.5,788.4 L450.5,789.2 L451.5,789.9 L452.5,790.6 L453.5,791.2 L454.5,791.8 L455.5,792.4 L456.5,792.9 L457.5,793.4 L458.5,793.8 L459.5,794.2 L460.5,794.6 L461.5,795.0 L462.5,795.3 L463.5,795.6 L464.5,795.9 L465.5,796.2 L466.5,796.4 L467.5,796.6 L468.5,796.8 L469.5,797.0 L470.5,797.2 L471.5,797.4 L472.5,797.6 L473.5,797.7 L474.5,797.9 L475.5,798.0 L476.5,798.1 L477.5,798.2 L478.5,798.3 L479.5,798.4 L480.5,798.5 L481.5,798.6 L482.5,798.7 L483.5,798.8 L484.5,798.9 L485.5,799.0 L486.5,799.0 L487.5,799.1 L488.5,799.2" fill="none" stroke="#ff0000" stroke-width="3.9" stroke-linejoin="round" stroke-linecap="butt" />
<path d="M106.5,792.4 L107.5,792.4 L108.5,792.4 L109.5,792.4 L110.5,792.4 L111.5,792.4 L112.5,792.4 L113.5,792.4 L114.5,792.4 L115.5,792.4 L116.5,792.4 L117.5,792.4 L118.5,792.4 L119.5,792.4 L120.5,792.4 L121.5,792.4 L122.5,792.4 L123.5,792.4 L124.5,792.4 L125.5,792.4 L126.5,792.4 L127.5,792.4 L128.5,792.4 L129.5,792.4 L130.5,792.4 L131.5,792.4 L132.5,792.4 L133.5,792.4 L134.5,792.4 L135.5,792.4 L136.5,792.4 L137.5,792.4 L138.5,792.4 L139.5,792.4 L140.5,792.4 L141.5,792.4 L142.5,792.4 L143.5,792.4 L144.5,792.4 L145.5,792.4 L146.5,792.4 L147.5,792.4 L148.5,792.4 L149.5,792.4 L150.5,792.4 L151.5,792.4 L152.5,792.4 L153.5,792.4 L154.5,792.4 L155.5,792.4 L156.5,792.4 L157.5,792.4 L158.5,792.4 L159.5,792.4 L160.5,792.4 L161.5,792.4 L162.5,792.4 L163.5,792.4 L164.5,792.4 L165.5,792.4 L166.5,792.4 L167.5,792.5 L168.5,792.5 L169.5,792.5 L170.5,792.5 L171.5,792.5 L172.5,792.5 L173.5,792.5 L174.5,792.5 L175.5,792.5 L176.5,792.5 L177.5,792.5 L178.5,792.5 L179.5,792.5 L180.5,792.5 L181.5,792.5 L182.5,792.5 L183.5,792.5 L184.5,792.5 L185.5,792.5 L186.5,792.5 L187.5,792.5 L188.5,792.5 L189.5,792.5 L190.5,792.5 L191.5,792.5 L192.5,792.6 L193.5,792.6 L194.5,792.6 L195.5,792.6 L196.5,792.6 L197.5,792.6 L198.5,792.6 L199.5,792.6 L200.5,792.6 L201.5,792.6 L202.5,792.6 L203.5,792.6 L204.5,792.6 L205.5,792.6 L206.5,792.7 L207.5,792.7 L208.5,792.7 L209.5,792.7 L210.5,792.7 L211.5,792.7 L212.5,792.7 L213.5,792.7 L214.5,792.7 L215.5,792.7 L216.5,792.7 L217.5,792.8 L218.5,792.8 L219.5,792.8 L220.5,792.8 L221.5,792.8 L222.5,792.8 L223.5,792.8 L224.5,792.8 L225.5,792.8 L226.5,792.9 L227.5,792.9 L228.5,792.9 L229.5,792.9 L230.5,792.9 L231.5,792.9 L232.5,792.9 L233.5,793.0 L234.5,793.0 L235.5,793.0 L236.5,793.0 L237.5,793.0 L238.5,793.0 L239.5,793.0 L240.5,793.1 L241.5,793.1 L242.5,793.1 L243.5,793.1 L244.5,793.1 L245.5,793.1 L246.5,793.1 L247.5,793.2 L248.5,793.2 L249.5,793.2 L250.5,793.2 L251.5,793.2 L252.5,793.3 L253.5,793.3 L254.5,793.3 L255.5,793.3 L256.5,793.3 L257.5,793.3 L258.5,793.4 L259.5,793.4 L260.5,793.4 L261.5,793.4 L262.5,793.4 L263.5,793.5 L264.5,793.5 L265.5,793.5 L266.5,793.5 L267.5,793.5 L268.5,793.6 L269.5,793.6 L270.5,793.6 L271.5,793.6 L272.5,793.7 L273.5,793.7 L274.5,793.7 L275.5,793.7 L276.5,793.8 L277.5,793.8 L278.5,793.8 L279.5,793.8 L280.5,793.9 L281.5,793.9 L282.5,793.9 L283.5,793.9 L284.5,794.0 L285.5,794.0 L286.5,794.0 L287.5,794.1 L288.5,794.1 L289.5,794.1 L290.5,794.2 L291.5,794.2 L292.5,794.2 L293.5,794.3 L294.5,794.3 L295.5,794.3 L296.5,794.4 L297.5,794.4 L298.5,794.4 L299.5,794.5 L300.5,794.5 L301.5,794.5 L302.5,794.6 L303.5,794.6 L304.5,794.7 L305.5,794.7 L306.5,794.7 L307.5,794.8 L308.5,794.8 L309.5,794.9 L310.5,794.9 L311.5,794.9 L312.5,795.0 L313.5,795.0 L314.5,795.1 L315.5,795.1 L316.5,795.2 L317.5,795.2 L318.5,795.3 L319.5,795.3 L320.5,795.3 L321.5,795.4 L322.5,795.4 L323.5,795.5 L324.5,795.5 L325.5,795.6 L326.5,795.6 L327.5,795.7 L328.5,795.7 L329.5,795.8 L330.5,795.8 L331.5,795.9 L332.5,795.9 L333.5,796.0 L334.5,796.0 L335.5,796.1 L336.5,796.1 L337.5,796.2 L338.5,796.2 L339.5,796.3 L340.5,796.3 L341.5,796.4 L342.5,796.5 L343.5,796.5 L344.5,796.6 L345.5,796.6 L346.5,796.7 L347.5,796.7 L348.5,796.8 L349.5,796.8 L350.5,796.9 L351.5,796.9 L352.5,797.0 L353.5,797.1 L354.5,797.1 L355.5,797.2 L356.5,797.2 L357.5,797.3 L358.5,797.3 L359.5,797.4 L360.5,797.4 L361.5,797.5 L362.5,797.6 L363.5,797.6 L364.5,797.7 L365.5,797.7 L366.5,797.8 L367.5,797.8 L368.5,797.9 L369.5,798.0 L370.5,798.0 L371.5,798.1 L372.5,798.1 L373.5,798.2 L374.5,798.3 L375.5,798.3 L376.5,798.4 L377.5,798.4 L378.5,798.5 L379.5,798.6 L380.5,798.6 L381.5,798.7 L382.5,798.7 L383.5,798.8 L384.5,798.9 L385.5,798.9 L386.5,799.0 L387.5,799.0 L388.5,799.1 L389.5,799.1 L390.5,799.2 L391.5,799.2 L392.5,799.3 L393.5,799.4 L394.5,799.4 L395.5,799.5 L396.5,799.5 L397.5,799.6 L398.5,799.6 L399.5,799.7 L400.5,799.7 L401.5,799.8 L402.5,799.8 L403.5,799.8 L404.5,799.9 L405.5,799.9 L406.5,800.0 L407.5,800.0 L408.5,800.0 L409.5,800.1 L410.5,800.1 L411.5,800.1 L412.5,800.2 L413.5,800.2 L414.5,800.2 L415.5,800.3 L416.5,800.3 L417.5,800.3 L418.5,800.3 L419.5,800.4 L420.5,800.4 L421.5,800.4 L422.5,800.4 L423.5,800.4 L424.5,800.5 L425.5,800.5 L426.5,800.5 L427.5,800.5 L428.5,800.5 L429.5,800.5 L430.5,800.6 L431.5,800.6 L432.5,800.6 L433.5,800.6 L434.5,800.6 L435.5,800.6 L436.5,800.6 L437.5,800.6 L438.5,800.6 L439.5,800.7 L440.5,800.7 L441.5,800.7 L442.5,800.7 L443.5,800.7 L444.5,800.7 L445.5,800.7 L446.5,800.7 L447.5,800.7 L448.5,800.7 L449.5,800.7 L450.5,800.7 L451.5,800.7 L452.5,800.7 L453.5,800.7 L454.5,800.7 L455.5,800.7 L456.5,800.7 L457.5,800.7 L458.5,800.7 L459.5,800.7 L460.5,800.7 L461.5,800.8 L462.5,800.8 L463.5,800.8 L464.5,800.8 L465.5,800.8 L466.5,800.8 L467.5,800.8 L468.5,800.8 L469.5,800.8 L470.5,800.8 L471.5,800.8 L472.5,800.8 L473.5,800.8 L474.5,800.8 L475.5,800.8 L476.5,800.8 L477.5,800.8 L478.5,800.8 L479.5,800.8 L480.5,800.8 L481.5,800.8 L482.5,800.8 L483.5,800.8 L484.5,800.8 L485.5,800.8 L486.5,800.8 L487.5,800.8 L488.5,800.8 L489.5,800.8 L490.5,800.8 L491.5,800.8 L492.5,800.8 L493.5,800.8 L494.5,800.8 L495.5,800.8 L496.5,800.8 L497.5,800.8 L498.5,800.8 L499.5,800.8 L500.5,800.8 L501.5,800.8 L502.5,800.8 L503.5,800.8 L504.5,800.8 L505.5,800.8 L506.5,800.8 L507.5,800.8 L508.5,800.8" fill="none" stroke="#00ffff" stroke-width="3.8" stroke-linejoin="round" stroke-linecap="butt" />
<path d="M106.5,791.9 L107.5,791.9 L108.5,791.8 L109.5,791.8 L110.5,791.8 L111.5,791.7 L112.5,791.7 L113.5,791.7 L114.5,791.6 L115.5,791.5 L116.5,791.5 L117.5,791.4 L118.5,791.4 L119.5,791.3 L120.5,791.2 L121.5,791.2 L122.5,791.1 L123.5,791.0 L124.5,790.9 L125.5,790.8 L126.5,790.7 L127.5,790.6 L128.5,790.5 L129.5,790.4 L130.5,790.3 L131.5,790.2 L132.5,790.1 L133.5,790.0 L134.5,789.8 L135.5,789.7 L136.5,789.6 L137.5,789.4 L138.5,789.3 L139.5,789.1 L140.5,789.0 L141.5,788.8 L142.5,788.6 L143.5,788.5 L144.5,788.3 L145.5,788.1 L146.5,787.9 L147.5,787.7 L148.5,787.5 L149.5,787.3 L150.5,787.1 L151.5,786.8 L152.5,786.6 L153.5,786.4 L154.5,786.1 L155.5,785.9 L156.5,785.6 L157.5,785.4 L158.5,785.1 L159.5,784.8 L160.5,784.5 L161.5,784.2 L162.5,783.9 L163.5,783.6 L164.5,783.3 L165.5,782.9 L166.5,782.6 L167.5,782.2 L168.5,781.9 L169.5,781.5 L170.5,781.1 L171.5,780.7 L172.5,780.3 L173.5,779.9 L174.5,779.5 L175.5,779.0 L176.5,778.6 L177.5,778.1 L178.5,777.7 L179.5,777.2 L180.5,776.7 L181.5,776.2 L182.5,775.7 L183.5,775.2 L184.5,774.6 L185.5,774.1 L186.5,773.5 L187.5,773.0 L188.5,772.4 L189.5,771.8 L190.5,771.2 L191.5,770.6 L192.5,770.0 L193.5,769.4 L194.5,768.8 L195.5,768.1 L196.5,767.5 L197.5,766.8 L198.5,766.2 L199.5,765.5 L200.5,764.8 L201.5,764.1 L202.5,763.5 L203.5,762.8 L204.5,762.1 L205.5,761.3 L206.5,760.6 L207.5,759.9 L208.5,759.2 L209.5,758.5 L210.5,757.7 L211.5,757.0 L212.5,756.3 L213.5,755.5 L214.5,754.8 L215.5,754.0 L216.5,753.3 L217.5,752.6 L218.5,751.9 L219.5,751.2 L220.5,750.5 L221.5,749.8 L222.5,749.1 L223.5,748.5 L224.5,747.8 L225.5,747.2 L226.5,746.5 L227.5,745.9 L228.5,745.2 L229.5,744.6 L230.5,744.0 L231.5,743.3 L232.5,742.7 L233.5,742.0 L234.5,741.4 L235.5,740.7 L236.5,740.1 L237.5,739.4 L238.5,738.7 L239.5,738.0 L240.5,737.3 L241.5,736.6 L242.5,735.9 L243.5,735.1 L244.5,734.4 L245.5,733.7 L246.5,733.0 L247.5,732.3 L248.5,731.6 L249.5,730.9 L250.5,730.2 L251.5,729.5 L252.5,728.7 L253.5,728.0 L254.5,727.2 L255.5,726.3 L256.5,725.5 L257.5,724.6 L258.5,723.6 L259.5,722.7 L260.5,721.8 L261.5,721.0 L262.5,720.1 L263.5,719.3 L264.5,718.4 L265.5,717.5 L266.5,716.6 L267.5,715.6 L268.5,714.6 L269.5,713.5 L270.5,712.3 L271.5,711.1 L272.5,709.7 L273.5,708.4 L274.5,707.0 L275.5,705.6 L276.5,704.2 L277.5,702.8 L278.5,701.3 L279.5,699.8 L280.5,698.3 L281.5,696.8 L282.5,695.1 L283.5,693.5 L284.5,691.8 L285.5,690.0 L286.5,688.3 L287.5,686.5 L288.5,684.7 L289.5,682.9 L290.5,681.2 L291.5,679.4 L292.5,677.7 L293.5,675.9 L294.5,674.0 L295.5,672.2 L296.5,670.3 L297.5,668.4 L298.5,666.4 L299.5,664.3 L300.5,662.2 L301.5,660.0 L302.5,657.7 L303.5,655.5 L304.5,653.2 L305.5,650.9 L306.5,648.6 L307.5,646.4 L308.5,644.1 L309.5,641.9 L310.5,639.8 L311.5,637.7 L312.5,635.7 L313.5,633.8 L314.5,632.0 L315.5,630.3 L316.5,628.4 L317.5,626.6 L318.5,624.6 L319.5,622.7 L320.5,620.8 L321.5,619.0 L322.5,617.3 L323.5,615.8 L324.5,614.4 L325.5,613.1 L326.5,611.9 L327.5,610.7 L328.5,609.6 L329.5,608.6 L330.5,607.5 L331.5,606.5 L332.5,605.4 L333.5,604.4 L334.5,603.4 L335.5,602.5 L336.5,601.7 L337.5,601.1 L338.5,600.5 L339.5,600.0 L340.5,599.5 L341.5,599.1 L342.5,598.7 L343.5,598.3 L344.5,597.9 L345.5,597.5 L346.5,597.1 L347.5,596.7 L348.5,596.2 L349.5,595.6 L350.5,594.9 L351.5,594.2 L352.5,593.5 L353.5,592.8 L354.5,592.0 L355.5,591.2 L356.5,590.4 L357.5,589.6 L358.5,588.8 L359.5,588.1 L360.5,587.2 L361.5,586.1 L362.5,585.0 L363.5,583.9 L364.5,582.8 L365.5,581.7 L366.5,580.7 L367.5,579.9 L368.5,579.2 L369.5,578.5 L370.5,577.9 L371.5,577.2 L372.5,576.5 L373.5,576.0 L374.5,575.5 L375.5,575.2 L376.5,575.0 L377.5,574.9 L378.5,575.1 L379.5,575.2 L380.5,575.3 L381.5,575.5 L382.5,575.8 L383.5,576.3 L384.5,577.0 L385.5,578.1 L386.5,579.4 L387.5,580.8 L388.5,582.1 L389.5,583.5 L390.5,585.1 L391.5,586.9 L392.5,589.1 L393.5,591.6 L394.5,594.5 L395.5,597.8 L396.5,601.1 L397.5,604.6 L398.5,608.1 L399.5,611.7 L400.5,615.5 L401.5,619.5 L402.5,623.8 L403.5,628.3 L404.5,633.0 L405.5,637.9 L406.5,642.8 L407.5,647.7 L408.5,652.7 L409.5,657.6 L410.5,662.6 L411.5,667.5 L412.5,672.3 L413.5,677.1 L414.5,681.9 L415.5,686.6 L416.5,691.3 L417.5,695.9 L418.5,700.3 L419.5,704.6 L420.5,708.7 L421.5,712.8 L422.5,716.8 L423.5,720.6 L424.5,724.3 L425.5,728.1 L426.5,732.0 L427.5,735.7 L428.5,739.3 L429.5,742.6 L430.5,745.6 L431.5,748.7 L432.5,752.0 L433.5,755.2 L434.5,758.3 L435.5,761.2 L436.5,763.8 L437.5,765.9 L438.5,768.0 L439.5,770.1 L440.5,772.1 L441.5,774.1 L442.5,775.9 L443.5,777.7 L444.5,779.4 L445.5,780.9 L446.5,782.2 L447.5,783.4 L448.5,784.6 L449.5,785.7 L450.5,786.9 L451.5,788.0 L452.5,789.0 L453.5,790.0 L454.5,791.0 L455.5,791.8 L456.5,792.5 L457.5,793.1 L458.5,793.6 L459.5,794.2 L460.5,794.6 L461.5,795.1 L462.5,795.5 L463.5,795.8 L464.5,796.2 L465.5,796.5 L466.5,796.8 L467.5,797.1 L468.5,797.4 L469.5,797.7 L470.5,797.9 L471.5,798.2 L472.5,798.4 L473.5,798.6 L474.5,798.8 L475.5,799.0 L476.5,799.2 L477.5,799.3 L478.5,799.5 L479.5,799.6 L480.5,799.8 L481.5,799.9 L482.5,800.1 L483.5,800.2 L484.5,800.3 L485.5,800.4 L486.5,800.5 L487.5,800.5 L488.5,800.6 L489.5,800.6 L490.5,800.6 L491.5,800.6 L492.5,800.6 L493.5,800.6 L494.5,800.6 L495.5,800.6 L496.5,800.6 L497.5,800.6 L498.5,800.6 L499.5,800.6 L500.5,800.7 L501.5,800.7 L502.5,800.7 L503.5,800.7 L504.5,800.8 L505.5,800.8 L506.5,800.9 L507.5,800.9 L508.5,801.0" fill="none" stroke="#ff00ff" stroke-width="4.2" stroke-linejoin="round" stroke-linecap="butt" />
</g>
<rect x="106.5" y="505.4" width="402.0" height="325.0" fill="none" stroke="#000" stroke-width="3"/>
<path d="M170.0,831.4V836.8M254.6,831.4V836.8M339.2,831.4V836.8M423.9,831.4V836.8M508.5,831.4V836.8M127.7,831.4V833.8M212.3,831.4V833.8M296.9,831.4V833.8M381.6,831.4V833.8M466.2,831.4V833.8" stroke="#000" stroke-width="3" fill="none"/>
<rect x="39" y="505.2" width="60" height="48.6" fill="#c0cad7"/>
<text transform="translate(69.3,546.6) scale(0.97,1)" font-size="44.8" text-anchor="middle" class="lab" stroke="#c0cad7" stroke-width="0.5">d</text>
<text x="110.03" y="533.80" font-size="24.1" textLength="170.10" lengthAdjust="spacingAndGlyphs" >C1s of SF/TGA</text>
<text x="295.62" y="563.50" font-size="23.5" textLength="43.55" lengthAdjust="spacingAndGlyphs" >C-C</text>
<text x="286.71" y="590.00" font-size="23.5" textLength="60.96" lengthAdjust="spacingAndGlyphs" >284.8</text>
<text x="227.04" y="615.50" font-size="23.5" textLength="43.93" lengthAdjust="spacingAndGlyphs" >C-O</text>
<text x="213.50" y="648.00" font-size="23.5" textLength="61.93" lengthAdjust="spacingAndGlyphs" >286.2</text>
<text x="153.04" y="682.30" font-size="23.5" textLength="49.95" lengthAdjust="spacingAndGlyphs" >C=O</text>
<text x="148.62" y="707.50" font-size="23.5" textLength="60.29" lengthAdjust="spacingAndGlyphs" >288.2</text>
<line x1="211.8" y1="708" x2="244.5" y2="747" stroke="#000" stroke-width="1" marker-end="url(#ah)"/>
<line x1="263.7" y1="653.5" x2="296" y2="692" stroke="#000" stroke-width="1" marker-end="url(#ah)"/>
<line x1="333.8" y1="599.4" x2="373.3" y2="646.4" stroke="#000" stroke-width="1" marker-end="url(#ah)"/>
<g transform="translate(80.3,723.4) rotate(-90)">
<text x="-1.21" y="0.00" font-size="18" textLength="125.81" lengthAdjust="spacingAndGlyphs" stroke="#000" stroke-width="0.45">Intensity (a.u.)</text>
</g>
<text x="153.78" y="854.30" font-size="17.3" textLength="30.50" lengthAdjust="spacingAndGlyphs" >290</text>
<text x="238.41" y="854.30" font-size="17.3" textLength="30.31" lengthAdjust="spacingAndGlyphs" >288</text>
<text x="323.04" y="854.30" font-size="17.3" textLength="30.40" lengthAdjust="spacingAndGlyphs" >286</text>
<text x="407.69" y="854.30" font-size="17.3" textLength="29.84" lengthAdjust="spacingAndGlyphs" >284</text>
<text x="492.31" y="854.30" font-size="17.3" textLength="30.50" lengthAdjust="spacingAndGlyphs" >282</text>
<text x="219.00" y="885.60" font-size="18" textLength="176.71" lengthAdjust="spacingAndGlyphs" >Binding Energy (eV)</text>
<clipPath id="cb476"><rect x="582.5" y="505.4" width="402.0" height="325.0"/></clipPath>
<g clip-path="url(#cb476)">
<path d="M582.5,787.3 L583.5,787.3 L584.5,787.3 L585.5,787.3 L586.5,787.4 L587.5,787.4 L588.5,787.5 L589.5,787.5 L590.5,787.6 L591.5,787.6 L592.5,787.6 L593.5,787.6 L594.5,787.5 L595.5,787.4 L596.5,787.3 L597.5,787.2 L598.5,787.1 L599.5,786.9 L600.5,786.8 L601.5,786.7 L602.5,786.6 L603.5,786.6 L604.5,786.4 L605.5,786.2 L606.5,785.9 L607.5,785.6 L608.5,785.3 L609.5,785.1 L610.5,785.1 L611.5,785.1 L612.5,785.2 L613.5,785.4 L614.5,785.6 L615.5,785.8 L616.5,786.0 L617.5,786.1 L618.5,786.2 L619.5,786.3 L620.5,786.2 L621.5,786.0 L622.5,785.9 L623.5,785.7 L624.5,785.5 L625.5,785.3 L626.5,785.1 L627.5,784.8 L628.5,784.6 L629.5,784.4 L630.5,784.2 L631.5,784.1 L632.5,783.9 L633.5,783.7 L634.5,783.4 L635.5,783.2 L636.5,782.9 L637.5,782.6 L638.5,782.3 L639.5,782.0 L640.5,781.8 L641.5,781.5 L642.5,781.2 L643.5,780.9 L644.5,780.6 L645.5,780.3 L646.5,780.0 L647.5,779.6 L648.5,779.2 L649.5,778.8 L650.5,778.4 L651.5,778.0 L652.5,777.6 L653.5,777.2 L654.5,776.8 L655.5,776.4 L656.5,776.2 L657.5,776.0 L658.5,775.9 L659.5,775.8 L660.5,775.7 L661.5,775.6 L662.5,775.3 L663.5,774.9 L664.5,774.3 L665.5,773.6 L666.5,772.8 L667.5,772.0 L668.5,771.2 L669.5,770.5 L670.5,769.9 L671.5,769.4 L672.5,769.0 L673.5,768.6 L674.5,768.3 L675.5,767.9 L676.5,767.5 L677.5,767.0 L678.5,766.5 L679.5,765.9 L680.5,765.2 L681.5,764.4 L682.5,763.6 L683.5,762.8 L684.5,761.9 L685.5,761.1 L686.5,760.2 L687.5,759.4 L688.5,758.5 L689.5,757.7 L690.5,757.0 L691.5,756.2 L692.5,755.6 L693.5,755.0 L694.5,754.5 L695.5,754.0 L696.5,753.5 L697.5,753.1 L698.5,752.7 L699.5,752.3 L700.5,751.8 L701.5,751.4 L702.5,751.0 L703.5,750.5 L704.5,749.9 L705.5,749.3 L706.5,748.7 L707.5,748.2 L708.5,747.6 L709.5,747.1 L710.5,746.5 L711.5,746.0 L712.5,745.5 L713.5,745.0 L714.5,744.5 L715.5,744.0 L716.5,743.5 L717.5,743.0 L718.5,742.6 L719.5,742.1 L720.5,741.7 L721.5,741.3 L722.5,740.9 L723.5,740.5 L724.5,740.0 L725.5,739.3 L726.5,738.5 L727.5,737.7 L728.5,736.9 L729.5,736.3 L730.5,735.9 L731.5,735.6 L732.5,735.4 L733.5,735.2 L734.5,735.0 L735.5,734.8 L736.5,734.7 L737.5,734.5 L738.5,734.3 L739.5,734.1 L740.5,733.8 L741.5,733.5 L742.5,733.1 L743.5,732.6 L744.5,732.1 L745.5,731.5 L746.5,730.8 L747.5,730.2 L748.5,729.4 L749.5,728.7 L750.5,727.9 L751.5,727.1 L752.5,726.3 L753.5,725.5 L754.5,724.8 L755.5,724.0 L756.5,723.3 L757.5,722.5 L758.5,721.8 L759.5,721.0 L760.5,720.1 L761.5,719.2 L762.5,718.3 L763.5,717.3 L764.5,716.3 L765.5,715.2 L766.5,714.1 L767.5,713.1 L768.5,711.9 L769.5,710.8 L770.5,709.7 L771.5,708.5 L772.5,707.4 L773.5,706.2 L774.5,705.0 L775.5,703.9 L776.5,702.8 L777.5,701.8 L778.5,700.9 L779.5,699.9 L780.5,699.0 L781.5,698.0 L782.5,697.0 L783.5,695.9 L784.5,694.8 L785.5,693.7 L786.5,692.7 L787.5,691.6 L788.5,690.6 L789.5,689.5 L790.5,688.5 L791.5,687.6 L792.5,686.6 L793.5,685.5 L794.5,684.5 L795.5,683.4 L796.5,682.3 L797.5,681.2 L798.5,680.2 L799.5,679.2 L800.5,678.3 L801.5,677.5 L802.5,676.9 L803.5,676.3 L804.5,675.9 L805.5,675.5 L806.5,675.2 L807.5,674.9 L808.5,674.7 L809.5,674.4 L810.5,674.2 L811.5,673.8 L812.5,673.4 L813.5,672.9 L814.5,672.2 L815.5,671.5 L816.5,670.6 L817.5,669.7 L818.5,668.8 L819.5,668.1 L820.5,667.5 L821.5,666.8 L822.5,666.1 L823.5,665.4 L824.5,664.5 L825.5,663.4 L826.5,662.0 L827.5,660.6 L828.5,659.2 L829.5,657.7 L830.5,656.1 L831.5,654.4 L832.5,652.7 L833.5,650.9 L834.5,649.1 L835.5,647.3 L836.5,645.4 L837.5,643.5 L838.5,641.6 L839.5,639.8 L840.5,637.9 L841.5,635.9 L842.5,633.9 L843.5,631.9 L844.5,629.9 L845.5,628.0 L846.5,626.1 L847.5,624.4 L848.5,622.8 L849.5,621.3 L850.5,620.0 L851.5,618.9 L852.5,617.8 L853.5,616.6 L854.5,614.9 L855.5,613.7 L856.5,612.5 L857.5,611.3 L858.5,610.3 L859.5,609.6 L860.5,609.2 L861.5,609.2 L862.5,609.6 L863.5,610.1 L864.5,610.9 L865.5,611.9 L866.5,613.2 L867.5,614.6 L868.5,616.2 L869.5,618.2 L870.5,620.6 L871.5,623.3 L872.5,626.1 L873.5,629.1 L874.5,631.9 L875.5,634.9 L876.5,638.0 L877.5,641.3 L878.5,644.6 L879.5,648.0 L880.5,651.6 L881.5,655.2 L882.5,659.0 L883.5,662.9 L884.5,666.8 L885.5,670.7 L886.5,674.7 L887.5,678.7 L888.5,682.6 L889.5,686.5 L890.5,690.3 L891.5,694.1 L892.5,697.9 L893.5,701.6 L894.5,705.3 L895.5,708.9 L896.5,712.4 L897.5,715.9 L898.5,719.3 L899.5,722.6 L900.5,725.9 L901.5,729.0 L902.5,732.1 L903.5,735.1 L904.5,738.0 L905.5,740.9 L906.5,743.6 L907.5,746.3 L908.5,748.8 L909.5,751.3 L910.5,753.7 L911.5,756.0 L912.5,758.2 L913.5,760.3 L914.5,762.3 L915.5,764.3 L916.5,766.1 L917.5,767.8 L918.5,769.3 L919.5,770.7 L920.5,772.1 L921.5,773.3 L922.5,774.6 L923.5,775.8 L924.5,777.0 L925.5,778.2 L926.5,779.2 L927.5,780.2 L928.5,781.2 L929.5,782.1 L930.5,783.0 L931.5,783.7 L932.5,784.4 L933.5,785.1 L934.5,785.6 L935.5,786.1 L936.5,786.6 L937.5,787.1 L938.5,787.6 L939.5,788.1 L940.5,788.6 L941.5,789.1 L942.5,789.7 L943.5,790.3 L944.5,790.8 L945.5,791.3 L946.5,791.7 L947.5,792.1 L948.5,792.4 L949.5,792.6 L950.5,792.7 L951.5,792.8 L952.5,792.9 L953.5,793.0 L954.5,793.1 L955.5,793.2 L956.5,793.3 L957.5,793.4 L958.5,793.5 L959.5,793.7 L960.5,793.8 L961.5,793.9 L962.5,794.0 L963.5,794.1 L964.5,794.1 L965.5,794.2 L966.5,794.3 L967.5,794.3 L968.5,794.4 L969.5,794.5 L970.5,794.5 L971.5,794.6 L972.5,794.7 L973.5,794.8 L974.5,795.0 L975.5,795.1 L976.5,795.3 L977.5,795.4 L978.5,795.6 L979.5,795.7 L980.5,795.8 L981.5,796.0 L982.5,796.1 L983.5,796.2 L984.5,796.2" fill="none" stroke="#000" stroke-width="4.2" stroke-linejoin="round" stroke-linecap="butt" />
<path d="M606.5,787.0 L607.5,786.9 L608.5,786.9 L609.5,786.8 L610.5,786.8 L611.5,786.7 L612.5,786.6 L613.5,786.6 L614.5,786.5 L615.5,786.4 L616.5,786.4 L617.5,786.3 L618.5,786.2 L619.5,786.1 L620.5,786.0 L621.5,785.9 L622.5,785.8 L623.5,785.7 L624.5,785.6 L625.5,785.5 L626.5,785.3 L627.5,785.2 L628.5,785.1 L629.5,784.9 L630.5,784.8 L631.5,784.6 L632.5,784.4 L633.5,784.3 L634.5,784.1 L635.5,783.9 L636.5,783.7 L637.5,783.5 L638.5,783.3 L639.5,783.1 L640.5,782.8 L641.5,782.6 L642.5,782.3 L643.5,782.1 L644.5,781.8 L645.5,781.5 L646.5,781.2 L647.5,780.9 L648.5,780.6 L649.5,780.3 L650.5,780.0 L651.5,779.6 L652.5,779.3 L653.5,778.9 L654.5,778.6 L655.5,778.2 L656.5,777.8 L657.5,777.4 L658.5,777.0 L659.5,776.5 L660.5,776.1 L661.5,775.6 L662.5,775.2 L663.5,774.7 L664.5,774.2 L665.5,773.7 L666.5,773.2 L667.5,772.7 L668.5,772.2 L669.5,771.7 L670.5,771.1 L671.5,770.6 L672.5,770.0 L673.5,769.5 L674.5,768.9 L675.5,768.3 L676.5,767.7 L677.5,767.1 L678.5,766.5 L679.5,765.9 L680.5,765.3 L681.5,764.7 L682.5,764.0 L683.5,763.4 L684.5,762.8 L685.5,762.1 L686.5,761.5 L687.5,760.8 L688.5,760.2 L689.5,759.6 L690.5,758.9 L691.5,758.3 L692.5,757.7 L693.5,757.0 L694.5,756.4 L695.5,755.8 L696.5,755.1 L697.5,754.5 L698.5,753.9 L699.5,753.3 L700.5,752.7 L701.5,752.2 L702.5,751.6 L703.5,751.0 L704.5,750.5 L705.5,750.0 L706.5,749.4 L707.5,748.9 L708.5,748.4 L709.5,748.0 L710.5,747.5 L711.5,747.1 L712.5,746.7 L713.5,746.3 L714.5,745.9 L715.5,745.5 L716.5,745.2 L717.5,744.9 L718.5,744.6 L719.5,744.3 L720.5,744.1 L721.5,743.8 L722.5,743.6 L723.5,743.5 L724.5,743.3 L725.5,743.2 L726.5,743.1 L727.5,743.0 L728.5,743.0 L729.5,743.0 L730.5,743.0 L731.5,743.0 L732.5,743.1 L733.5,743.2 L734.5,743.3 L735.5,743.4 L736.5,743.6 L737.5,743.8 L738.5,744.0 L739.5,744.2 L740.5,744.4 L741.5,744.7 L742.5,745.0 L743.5,745.3 L744.5,745.6 L745.5,746.0 L746.5,746.4 L747.5,746.8 L748.5,747.2 L749.5,747.6 L750.5,748.0 L751.5,748.5 L752.5,748.9 L753.5,749.4 L754.5,749.9 L755.5,750.4 L756.5,750.9 L757.5,751.5 L758.5,752.0 L759.5,752.5 L760.5,753.1 L761.5,753.7 L762.5,754.2 L763.5,754.8 L764.5,755.4 L765.5,756.0 L766.5,756.6 L767.5,757.2 L768.5,757.8 L769.5,758.4 L770.5,759.0 L771.5,759.6 L772.5,760.2 L773.5,760.8 L774.5,761.4 L775.5,762.0 L776.5,762.6 L777.5,763.2 L778.5,763.8 L779.5,764.4 L780.5,765.0 L781.5,765.6 L782.5,766.2 L783.5,766.8 L784.5,767.4 L785.5,768.0 L786.5,768.5 L787.5,769.1 L788.5,769.7 L789.5,770.2 L790.5,770.8 L791.5,771.3 L792.5,771.9 L793.5,772.4 L794.5,773.0 L795.5,773.5 L796.5,774.0 L797.5,774.5 L798.5,775.0 L799.5,775.5 L800.5,776.0 L801.5,776.5 L802.5,776.9 L803.5,777.4 L804.5,777.8 L805.5,778.3 L806.5,778.7 L807.5,779.2 L808.5,779.6 L809.5,780.0 L810.5,780.4 L811.5,780.8 L812.5,781.2 L813.5,781.6 L814.5,782.0 L815.5,782.3 L816.5,782.7 L817.5,783.0 L818.5,783.4 L819.5,783.7 L820.5,784.1 L821.5,784.4 L822.5,784.7 L823.5,785.0 L824.5,785.3 L825.5,785.6 L826.5,785.9 L827.5,786.2 L828.5,786.5 L829.5,786.7 L830.5,787.0 L831.5,787.3 L832.5,787.5 L833.5,787.8 L834.5,788.0 L835.5,788.3 L836.5,788.5 L837.5,788.7 L838.5,788.9 L839.5,789.2 L840.5,789.4 L841.5,789.6 L842.5,789.8 L843.5,790.0 L844.5,790.2 L845.5,790.4 L846.5,790.6 L847.5,790.8 L848.5,791.0 L849.5,791.2 L850.5,791.3 L851.5,791.5 L852.5,791.7 L853.5,791.8 L854.5,792.0 L855.5,792.2 L856.5,792.3 L857.5,792.5 L858.5,792.6 L859.5,792.8 L860.5,792.9 L861.5,793.1 L862.5,793.2 L863.5,793.4 L864.5,793.5 L865.5,793.7 L866.5,793.8 L867.5,793.9 L868.5,794.0 L869.5,794.2 L870.5,794.3 L871.5,794.4 L872.5,794.5 L873.5,794.6 L874.5,794.8 L875.5,794.9 L876.5,795.0 L877.5,795.1 L878.5,795.2 L879.5,795.3 L880.5,795.4 L881.5,795.5 L882.5,795.5 L883.5,795.6 L884.5,795.7 L885.5,795.8 L886.5,795.9 L887.5,795.9 L888.5,796.0 L889.5,796.1 L890.5,796.2 L891.5,796.2 L892.5,796.3 L893.5,796.3 L894.5,796.4" fill="none" stroke="#0000ff" stroke-width="3.9" stroke-linejoin="round" stroke-linecap="butt" />
<path d="M707.5,787.6 L708.5,787.5 L709.5,787.5 L710.5,787.4 L711.5,787.4 L712.5,787.3 L713.5,787.2 L714.5,787.1 L715.5,787.0 L716.5,786.9 L717.5,786.8 L718.5,786.6 L719.5,786.5 L720.5,786.3 L721.5,786.1 L722.5,786.0 L723.5,785.7 L724.5,785.5 L725.5,785.3 L726.5,785.0 L727.5,784.7 L728.5,784.5 L729.5,784.1 L730.5,783.8 L731.5,783.4 L732.5,783.0 L733.5,782.6 L734.5,782.2 L735.5,781.7 L736.5,781.2 L737.5,780.6 L738.5,780.1 L739.5,779.5 L740.5,778.8 L741.5,778.2 L742.5,777.5 L743.5,776.7 L744.5,776.0 L745.5,775.2 L746.5,774.3 L747.5,773.4 L748.5,772.5 L749.5,771.5 L750.5,770.5 L751.5,769.5 L752.5,768.4 L753.5,767.3 L754.5,766.2 L755.5,765.0 L756.5,763.8 L757.5,762.5 L758.5,761.2 L759.5,759.9 L760.5,758.6 L761.5,757.2 L762.5,755.8 L763.5,754.4 L764.5,752.9 L765.5,751.4 L766.5,749.9 L767.5,748.4 L768.5,746.9 L769.5,745.4 L770.5,743.9 L771.5,742.4 L772.5,740.9 L773.5,739.3 L774.5,737.8 L775.5,736.4 L776.5,734.9 L777.5,733.4 L778.5,732.0 L779.5,730.6 L780.5,729.3 L781.5,727.9 L782.5,726.7 L783.5,725.4 L784.5,724.3 L785.5,723.2 L786.5,722.1 L787.5,721.1 L788.5,720.2 L789.5,719.3 L790.5,718.5 L791.5,717.8 L792.5,717.2 L793.5,716.6 L794.5,716.2 L795.5,715.8 L796.5,715.5 L797.5,715.3 L798.5,715.2 L799.5,715.2 L800.5,715.3 L801.5,715.5 L802.5,715.8 L803.5,716.2 L804.5,716.7 L805.5,717.3 L806.5,718.0 L807.5,718.8 L808.5,719.7 L809.5,720.7 L810.5,721.7 L811.5,722.9 L812.5,724.1 L813.5,725.3 L814.5,726.6 L815.5,728.0 L816.5,729.4 L817.5,730.9 L818.5,732.4 L819.5,733.9 L820.5,735.5 L821.5,737.1 L822.5,738.7 L823.5,740.3 L824.5,741.9 L825.5,743.5 L826.5,745.1 L827.5,746.8 L828.5,748.4 L829.5,750.0 L830.5,751.6 L831.5,753.1 L832.5,754.7 L833.5,756.2 L834.5,757.7 L835.5,759.2 L836.5,760.7 L837.5,762.1 L838.5,763.5 L839.5,764.8 L840.5,766.2 L841.5,767.5 L842.5,768.7 L843.5,770.0 L844.5,771.2 L845.5,772.3 L846.5,773.4 L847.5,774.5 L848.5,775.6 L849.5,776.6 L850.5,777.5 L851.5,778.5 L852.5,779.4 L853.5,780.3 L854.5,781.1 L855.5,781.9 L856.5,782.7 L857.5,783.4 L858.5,784.1 L859.5,784.8 L860.5,785.4 L861.5,786.0 L862.5,786.6 L863.5,787.2 L864.5,787.7 L865.5,788.2 L866.5,788.7 L867.5,789.1 L868.5,789.6 L869.5,790.0 L870.5,790.4 L871.5,790.8 L872.5,791.1 L873.5,791.5 L874.5,791.8 L875.5,792.1 L876.5,792.4 L877.5,792.6 L878.5,792.9 L879.5,793.1 L880.5,793.4 L881.5,793.6 L882.5,793.8 L883.5,794.0 L884.5,794.2 L885.5,794.4 L886.5,794.5 L887.5,794.7 L888.5,794.8 L889.5,795.0 L890.5,795.1 L891.5,795.2 L892.5,795.4 L893.5,795.5 L894.5,795.6 L895.5,795.7 L896.5,795.8 L897.5,795.9 L898.5,796.0 L899.5,796.1 L900.5,796.2 L901.5,796.2 L902.5,796.3 L903.5,796.4 L904.5,796.4 L905.5,796.5 L906.5,796.6 L907.5,796.6 L908.5,796.7 L909.5,796.7 L910.5,796.8 L911.5,796.8 L912.5,796.9" fill="none" stroke="#00ff00" stroke-width="3.9" stroke-linejoin="round" stroke-linecap="butt" />
<path d="M766.5,788.2 L767.5,788.1 L768.5,788.0 L769.5,787.9 L770.5,787.8 L771.5,787.6 L772.5,787.5 L773.5,787.3 L774.5,787.1 L775.5,786.9 L776.5,786.7 L777.5,786.5 L778.5,786.2 L779.5,785.9 L780.5,785.6 L781.5,785.2 L782.5,784.9 L783.5,784.4 L784.5,784.0 L785.5,783.5 L786.5,783.0 L787.5,782.5 L788.5,781.9 L789.5,781.2 L790.5,780.6 L791.5,779.8 L792.5,779.1 L793.5,778.2 L794.5,777.3 L795.5,776.4 L796.5,775.4 L797.5,774.3 L798.5,773.2 L799.5,772.0 L800.5,770.7 L801.5,769.4 L802.5,768.0 L803.5,766.5 L804.5,764.9 L805.5,763.3 L806.5,761.6 L807.5,759.8 L808.5,757.9 L809.5,755.9 L810.5,753.9 L811.5,751.8 L812.5,749.6 L813.5,747.3 L814.5,744.9 L815.5,742.4 L816.5,739.9 L817.5,737.3 L818.5,734.6 L819.5,731.8 L820.5,729.0 L821.5,726.0 L822.5,723.1 L823.5,720.0 L824.5,716.9 L825.5,713.7 L826.5,710.5 L827.5,707.3 L828.5,704.0 L829.5,700.6 L830.5,697.3 L831.5,693.9 L832.5,690.5 L833.5,687.1 L834.5,683.7 L835.5,680.3 L836.5,676.9 L837.5,673.5 L838.5,670.2 L839.5,666.9 L840.5,663.6 L841.5,660.4 L842.5,657.3 L843.5,654.3 L844.5,651.3 L845.5,648.4 L846.5,645.7 L847.5,643.0 L848.5,640.5 L849.5,638.1 L850.5,635.8 L851.5,633.7 L852.5,631.7 L853.5,629.9 L854.5,628.2 L855.5,626.8 L856.5,625.5 L857.5,624.3 L858.5,623.4 L859.5,622.7 L860.5,622.1 L861.5,621.8 L862.5,621.6 L863.5,621.6 L864.5,621.9 L865.5,622.5 L866.5,623.3 L867.5,624.3 L868.5,625.7 L869.5,627.2 L870.5,629.0 L871.5,631.0 L872.5,633.2 L873.5,635.6 L874.5,638.2 L875.5,640.9 L876.5,643.8 L877.5,646.8 L878.5,650.0 L879.5,653.3 L880.5,656.7 L881.5,660.1 L882.5,663.7 L883.5,667.3 L884.5,670.9 L885.5,674.6 L886.5,678.3 L887.5,682.0 L888.5,685.7 L889.5,689.5 L890.5,693.2 L891.5,696.8 L892.5,700.5 L893.5,704.1 L894.5,707.7 L895.5,711.2 L896.5,714.7 L897.5,718.1 L898.5,721.4 L899.5,724.6 L900.5,727.8 L901.5,730.9 L902.5,734.0 L903.5,736.9 L904.5,739.8 L905.5,742.5 L906.5,745.2 L907.5,747.8 L908.5,750.3 L909.5,752.7 L910.5,755.0 L911.5,757.2 L912.5,759.4 L913.5,761.4 L914.5,763.4 L915.5,765.2 L916.5,767.0 L917.5,768.7 L918.5,770.3 L919.5,771.9 L920.5,773.3 L921.5,774.7 L922.5,776.1 L923.5,777.3 L924.5,778.5 L925.5,779.6 L926.5,780.7 L927.5,781.7 L928.5,782.6 L929.5,783.5 L930.5,784.3 L931.5,785.1 L932.5,785.8 L933.5,786.5 L934.5,787.2 L935.5,787.8 L936.5,788.3 L937.5,788.9 L938.5,789.4 L939.5,789.8 L940.5,790.3 L941.5,790.7 L942.5,791.1 L943.5,791.4 L944.5,791.7 L945.5,792.1 L946.5,792.4 L947.5,792.6 L948.5,792.9 L949.5,793.1 L950.5,793.4 L951.5,793.6 L952.5,793.8 L953.5,794.0 L954.5,794.1 L955.5,794.3 L956.5,794.5 L957.5,794.6 L958.5,794.7 L959.5,794.9 L960.5,795.0 L961.5,795.1 L962.5,795.2 L963.5,795.3 L964.5,795.4 L965.5,795.5 L966.5,795.6 L967.5,795.7 L968.5,795.8 L969.5,795.9 L970.5,795.9 L971.5,796.0 L972.5,796.1 L973.5,796.2 L974.5,796.2 L975.5,796.3 L976.5,796.3 L977.5,796.4" fill="none" stroke="#ff0000" stroke-width="3.9" stroke-linejoin="round" stroke-linecap="butt" />
<path d="M582.5,787.8 L583.5,787.8 L584.5,787.8 L585.5,787.8 L586.5,787.8 L587.5,787.8 L588.5,787.8 L589.5,787.8 L590.5,787.8 L591.5,787.8 L592.5,787.8 L593.5,787.8 L594.5,787.8 L595.5,787.8 L596.5,787.8 L597.5,787.8 L598.5,787.8 L599.5,787.8 L600.5,787.8 L601.5,787.8 L602.5,787.8 L603.5,787.8 L604.5,787.8 L605.5,787.8 L606.5,787.8 L607.5,787.8 L608.5,787.8 L609.5,787.8 L610.5,787.8 L611.5,787.8 L612.5,787.8 L613.5,787.8 L614.5,787.8 L615.5,787.8 L616.5,787.8 L617.5,787.8 L618.5,787.8 L619.5,787.8 L620.5,787.8 L621.5,787.8 L622.5,787.8 L623.5,787.8 L624.5,787.8 L625.5,787.8 L626.5,787.8 L627.5,787.8 L628.5,787.8 L629.5,787.8 L630.5,787.8 L631.5,787.8 L632.5,787.8 L633.5,787.8 L634.5,787.8 L635.5,787.8 L636.5,787.8 L637.5,787.8 L638.5,787.8 L639.5,787.8 L640.5,787.8 L641.5,787.8 L642.5,787.8 L643.5,787.8 L644.5,787.9 L645.5,787.9 L646.5,787.9 L647.5,787.9 L648.5,787.9 L649.5,787.9 L650.5,787.9 L651.5,787.9 L652.5,787.9 L653.5,787.9 L654.5,787.9 L655.5,787.9 L656.5,787.9 L657.5,787.9 L658.5,787.9 L659.5,787.9 L660.5,787.9 L661.5,787.9 L662.5,787.9 L663.5,787.9 L664.5,787.9 L665.5,787.9 L666.5,787.9 L667.5,788.0 L668.5,788.0 L669.5,788.0 L670.5,788.0 L671.5,788.0 L672.5,788.0 L673.5,788.0 L674.5,788.0 L675.5,788.0 L676.5,788.0 L677.5,788.0 L678.5,788.0 L679.5,788.1 L680.5,788.1 L681.5,788.1 L682.5,788.1 L683.5,788.1 L684.5,788.1 L685.5,788.1 L686.5,788.1 L687.5,788.1 L688.5,788.2 L689.5,788.2 L690.5,788.2 L691.5,788.2 L692.5,788.2 L693.5,788.2 L694.5,788.2 L695.5,788.2 L696.5,788.3 L697.5,788.3 L698.5,788.3 L699.5,788.3 L700.5,788.3 L701.5,788.3 L702.5,788.4 L703.5,788.4 L704.5,788.4 L705.5,788.4 L706.5,788.4 L707.5,788.4 L708.5,788.5 L709.5,788.5 L710.5,788.5 L711.5,788.5 L712.5,788.5 L713.5,788.5 L714.5,788.6 L715.5,788.6 L716.5,788.6 L717.5,788.6 L718.5,788.6 L719.5,788.7 L720.5,788.7 L721.5,788.7 L722.5,788.7 L723.5,788.7 L724.5,788.8 L725.5,788.8 L726.5,788.8 L727.5,788.8 L728.5,788.9 L729.5,788.9 L730.5,788.9 L731.5,788.9 L732.5,788.9 L733.5,789.0 L734.5,789.0 L735.5,789.0 L736.5,789.0 L737.5,789.1 L738.5,789.1 L739.5,789.1 L740.5,789.1 L741.5,789.2 L742.5,789.2 L743.5,789.2 L744.5,789.2 L745.5,789.3 L746.5,789.3 L747.5,789.3 L748.5,789.3 L749.5,789.4 L750.5,789.4 L751.5,789.4 L752.5,789.4 L753.5,789.5 L754.5,789.5 L755.5,789.5 L756.5,789.5 L757.5,789.6 L758.5,789.6 L759.5,789.6 L760.5,789.7 L761.5,789.7 L762.5,789.7 L763.5,789.8 L764.5,789.8 L765.5,789.8 L766.5,789.8 L767.5,789.9 L768.5,789.9 L769.5,789.9 L770.5,790.0 L771.5,790.0 L772.5,790.1 L773.5,790.1 L774.5,790.1 L775.5,790.2 L776.5,790.2 L777.5,790.2 L778.5,790.3 L779.5,790.3 L780.5,790.4 L781.5,790.4 L782.5,790.4 L783.5,790.5 L784.5,790.5 L785.5,790.6 L786.5,790.6 L787.5,790.6 L788.5,790.7 L789.5,790.7 L790.5,790.8 L791.5,790.8 L792.5,790.9 L793.5,790.9 L794.5,791.0 L795.5,791.0 L796.5,791.0 L797.5,791.1 L798.5,791.1 L799.5,791.2 L800.5,791.2 L801.5,791.3 L802.5,791.3 L803.5,791.4 L804.5,791.4 L805.5,791.5 L806.5,791.5 L807.5,791.6 L808.5,791.6 L809.5,791.7 L810.5,791.7 L811.5,791.8 L812.5,791.8 L813.5,791.9 L814.5,791.9 L815.5,792.0 L816.5,792.1 L817.5,792.1 L818.5,792.2 L819.5,792.2 L820.5,792.3 L821.5,792.3 L822.5,792.4 L823.5,792.4 L824.5,792.5 L825.5,792.6 L826.5,792.6 L827.5,792.7 L828.5,792.7 L829.5,792.8 L830.5,792.9 L831.5,792.9 L832.5,793.0 L833.5,793.0 L834.5,793.1 L835.5,793.2 L836.5,793.2 L837.5,793.3 L838.5,793.4 L839.5,793.5 L840.5,793.5 L841.5,793.6 L842.5,793.7 L843.5,793.7 L844.5,793.8 L845.5,793.9 L846.5,794.0 L847.5,794.0 L848.5,794.1 L849.5,794.2 L850.5,794.3 L851.5,794.3 L852.5,794.4 L853.5,794.5 L854.5,794.6 L855.5,794.6 L856.5,794.7 L857.5,794.8 L858.5,794.9 L859.5,795.0 L860.5,795.0 L861.5,795.1 L862.5,795.2 L863.5,795.3 L864.5,795.4 L865.5,795.4 L866.5,795.5 L867.5,795.6 L868.5,795.7 L869.5,795.8 L870.5,795.8 L871.5,795.9 L872.5,796.0 L873.5,796.0 L874.5,796.1 L875.5,796.2 L876.5,796.3 L877.5,796.3 L878.5,796.4 L879.5,796.4 L880.5,796.5 L881.5,796.6 L882.5,796.6 L883.5,796.7 L884.5,796.7 L885.5,796.8 L886.5,796.9 L887.5,796.9 L888.5,797.0 L889.5,797.0 L890.5,797.0 L891.5,797.1 L892.5,797.1 L893.5,797.2 L894.5,797.2 L895.5,797.3 L896.5,797.3 L897.5,797.3 L898.5,797.4 L899.5,797.4 L900.5,797.4 L901.5,797.4 L902.5,797.5 L903.5,797.5 L904.5,797.5 L905.5,797.6 L906.5,797.6 L907.5,797.6 L908.5,797.6 L909.5,797.6 L910.5,797.7 L911.5,797.7 L912.5,797.7 L913.5,797.7 L914.5,797.7 L915.5,797.7 L916.5,797.8 L917.5,797.8 L918.5,797.8 L919.5,797.8 L920.5,797.8 L921.5,797.8 L922.5,797.8 L923.5,797.8 L924.5,797.8 L925.5,797.9 L926.5,797.9 L927.5,797.9 L928.5,797.9 L929.5,797.9 L930.5,797.9 L931.5,797.9 L932.5,797.9 L933.5,797.9 L934.5,797.9 L935.5,797.9 L936.5,797.9 L937.5,797.9 L938.5,797.9 L939.5,797.9 L940.5,797.9 L941.5,797.9 L942.5,797.9 L943.5,797.9 L944.5,797.9 L945.5,797.9 L946.5,797.9 L947.5,798.0 L948.5,798.0 L949.5,798.0 L950.5,798.0 L951.5,798.0 L952.5,798.0 L953.5,798.0 L954.5,798.0 L955.5,798.0 L956.5,798.0 L957.5,798.0 L958.5,798.0 L959.5,798.0 L960.5,798.0 L961.5,798.0 L962.5,798.0 L963.5,798.0 L964.5,798.0 L965.5,798.0 L966.5,798.0 L967.5,798.0 L968.5,798.0 L969.5,798.0 L970.5,798.0 L971.5,798.0 L972.5,798.0 L973.5,798.0 L974.5,798.0 L975.5,798.0 L976.5,798.0 L977.5,798.0 L978.5,798.0 L979.5,798.0 L980.5,798.0 L981.5,798.0 L982.5,798.0 L983.5,798.0 L984.5,798.0" fill="none" stroke="#00ffff" stroke-width="3.8" stroke-linejoin="round" stroke-linecap="butt" />
<path d="M582.5,787.6 L583.5,787.5 L584.5,787.5 L585.5,787.5 L586.5,787.5 L587.5,787.5 L588.5,787.5 L589.5,787.5 L590.5,787.4 L591.5,787.4 L592.5,787.4 L593.5,787.4 L594.5,787.4 L595.5,787.3 L596.5,787.3 L597.5,787.3 L598.5,787.3 L599.5,787.2 L600.5,787.2 L601.5,787.2 L602.5,787.1 L603.5,787.1 L604.5,787.0 L605.5,787.0 L606.5,787.0 L607.5,786.9 L608.5,786.9 L609.5,786.8 L610.5,786.7 L611.5,786.7 L612.5,786.6 L613.5,786.6 L614.5,786.5 L615.5,786.4 L616.5,786.3 L617.5,786.3 L618.5,786.2 L619.5,786.1 L620.5,786.0 L621.5,785.9 L622.5,785.8 L623.5,785.7 L624.5,785.5 L625.5,785.4 L626.5,785.3 L627.5,785.2 L628.5,785.0 L629.5,784.9 L630.5,784.7 L631.5,784.6 L632.5,784.4 L633.5,784.2 L634.5,784.0 L635.5,783.8 L636.5,783.6 L637.5,783.4 L638.5,783.2 L639.5,783.0 L640.5,782.8 L641.5,782.5 L642.5,782.3 L643.5,782.0 L644.5,781.7 L645.5,781.5 L646.5,781.2 L647.5,780.9 L648.5,780.6 L649.5,780.2 L650.5,779.9 L651.5,779.6 L652.5,779.2 L653.5,778.8 L654.5,778.5 L655.5,778.1 L656.5,777.7 L657.5,777.3 L658.5,776.9 L659.5,776.4 L660.5,776.0 L661.5,775.5 L662.5,775.1 L663.5,774.6 L664.5,774.1 L665.5,773.6 L666.5,773.1 L667.5,772.6 L668.5,772.1 L669.5,771.5 L670.5,771.0 L671.5,770.4 L672.5,769.9 L673.5,769.3 L674.5,768.7 L675.5,768.1 L676.5,767.5 L677.5,766.9 L678.5,766.3 L679.5,765.7 L680.5,765.1 L681.5,764.4 L682.5,763.8 L683.5,763.1 L684.5,762.5 L685.5,761.9 L686.5,761.2 L687.5,760.6 L688.5,759.9 L689.5,759.2 L690.5,758.6 L691.5,757.9 L692.5,757.3 L693.5,756.6 L694.5,756.0 L695.5,755.3 L696.5,754.7 L697.5,754.0 L698.5,753.4 L699.5,752.8 L700.5,752.1 L701.5,751.5 L702.5,750.9 L703.5,750.3 L704.5,749.7 L705.5,749.1 L706.5,748.5 L707.5,748.0 L708.5,747.4 L709.5,746.9 L710.5,746.3 L711.5,745.8 L712.5,745.3 L713.5,744.8 L714.5,744.3 L715.5,743.8 L716.5,743.3 L717.5,742.8 L718.5,742.4 L719.5,741.9 L720.5,741.5 L721.5,741.1 L722.5,740.7 L723.5,740.3 L724.5,739.9 L725.5,739.5 L726.5,739.1 L727.5,738.7 L728.5,738.4 L729.5,738.0 L730.5,737.6 L731.5,737.3 L732.5,736.9 L733.5,736.5 L734.5,736.2 L735.5,735.8 L736.5,735.4 L737.5,735.0 L738.5,734.6 L739.5,734.2 L740.5,733.8 L741.5,733.4 L742.5,732.9 L743.5,732.4 L744.5,732.0 L745.5,731.4 L746.5,730.9 L747.5,730.4 L748.5,729.8 L749.5,729.2 L750.5,728.6 L751.5,728.0 L752.5,727.3 L753.5,726.6 L754.5,725.9 L755.5,725.1 L756.5,724.3 L757.5,723.5 L758.5,722.7 L759.5,721.8 L760.5,720.9 L761.5,720.0 L762.5,719.1 L763.5,718.1 L764.5,717.1 L765.5,716.1 L766.5,715.0 L767.5,714.0 L768.5,712.9 L769.5,711.8 L770.5,710.7 L771.5,709.6 L772.5,708.4 L773.5,707.3 L774.5,706.1 L775.5,705.0 L776.5,703.8 L777.5,702.6 L778.5,701.5 L779.5,700.3 L780.5,699.2 L781.5,698.0 L782.5,696.9 L783.5,695.7 L784.5,694.6 L785.5,693.5 L786.5,692.5 L787.5,691.4 L788.5,690.4 L789.5,689.3 L790.5,688.3 L791.5,687.4 L792.5,686.4 L793.5,685.5 L794.5,684.5 L795.5,683.7 L796.5,682.8 L797.5,681.9 L798.5,681.1 L799.5,680.4 L800.5,679.7 L801.5,679.1 L802.5,678.5 L803.5,678.0 L804.5,677.6 L805.5,677.1 L806.5,676.8 L807.5,676.4 L808.5,676.0 L809.5,675.6 L810.5,675.2 L811.5,674.7 L812.5,674.2 L813.5,673.7 L814.5,673.0 L815.5,672.3 L816.5,671.5 L817.5,670.6 L818.5,669.9 L819.5,669.2 L820.5,668.6 L821.5,667.9 L822.5,667.2 L823.5,666.4 L824.5,665.4 L825.5,664.2 L826.5,662.8 L827.5,661.4 L828.5,659.8 L829.5,658.2 L830.5,656.6 L831.5,654.9 L832.5,653.2 L833.5,651.5 L834.5,649.7 L835.5,647.9 L836.5,646.0 L837.5,644.2 L838.5,642.3 L839.5,640.5 L840.5,638.6 L841.5,636.7 L842.5,634.7 L843.5,632.7 L844.5,630.7 L845.5,628.7 L846.5,626.7 L847.5,624.9 L848.5,623.1 L849.5,621.6 L850.5,620.2 L851.5,619.0 L852.5,617.8 L853.5,616.6 L854.5,615.5 L855.5,614.4 L856.5,613.5 L857.5,612.7 L858.5,612.2 L859.5,611.8 L860.5,611.8 L861.5,612.0 L862.5,612.3 L863.5,612.8 L864.5,613.4 L865.5,614.2 L866.5,615.3 L867.5,616.6 L868.5,618.1 L869.5,620.0 L870.5,622.0 L871.5,624.3 L872.5,626.9 L873.5,629.6 L874.5,632.4 L875.5,635.5 L876.5,638.6 L877.5,641.9 L878.5,645.3 L879.5,648.8 L880.5,652.4 L881.5,656.0 L882.5,659.7 L883.5,663.5 L884.5,667.3 L885.5,671.1 L886.5,675.0 L887.5,678.8 L888.5,682.7 L889.5,686.5 L890.5,690.3 L891.5,694.1 L892.5,697.9 L893.5,701.6 L894.5,705.3 L895.5,708.9 L896.5,712.4 L897.5,715.9 L898.5,719.3 L899.5,722.6 L900.5,725.9 L901.5,729.0 L902.5,732.1 L903.5,735.1 L904.5,738.0 L905.5,740.8 L906.5,743.6 L907.5,746.2 L908.5,748.7 L909.5,751.2 L910.5,753.6 L911.5,755.8 L912.5,758.0 L913.5,760.1 L914.5,762.1 L915.5,764.0 L916.5,765.8 L917.5,767.5 L918.5,769.2 L919.5,770.8 L920.5,772.3 L921.5,773.7 L922.5,775.0 L923.5,776.3 L924.5,777.5 L925.5,778.7 L926.5,779.7 L927.5,780.7 L928.5,781.7 L929.5,782.6 L930.5,783.5 L931.5,784.3 L932.5,785.0 L933.5,785.7 L934.5,786.4 L935.5,787.0 L936.5,787.6 L937.5,788.2 L938.5,788.7 L939.5,789.2 L940.5,789.6 L941.5,790.0 L942.5,790.4 L943.5,790.8 L944.5,791.2 L945.5,791.5 L946.5,791.8 L947.5,792.1 L948.5,792.4 L949.5,792.6 L950.5,792.9 L951.5,793.1 L952.5,793.3 L953.5,793.5 L954.5,793.7 L955.5,793.9 L956.5,794.0 L957.5,794.2 L958.5,794.3 L959.5,794.5 L960.5,794.6 L961.5,794.7 L962.5,794.9 L963.5,795.0 L964.5,795.1 L965.5,795.2 L966.5,795.3 L967.5,795.4 L968.5,795.5 L969.5,795.6 L970.5,795.6 L971.5,795.7 L972.5,795.8 L973.5,795.9 L974.5,795.9 L975.5,796.0 L976.5,796.1 L977.5,796.1 L978.5,796.2 L979.5,796.3 L980.5,796.3 L981.5,796.4 L982.5,796.4 L983.5,796.5 L984.5,796.5" fill="none" stroke="#ff00ff" stroke-width="4.2" stroke-linejoin="round" stroke-linecap="butt" />
</g>
<rect x="582.5" y="505.4" width="402.0" height="325.0" fill="none" stroke="#000" stroke-width="3"/>
<path d="M646.0,831.4V836.8M730.6,831.4V836.8M815.2,831.4V836.8M899.9,831.4V836.8M984.5,831.4V836.8M603.7,831.4V833.8M688.3,831.4V833.8M772.9,831.4V833.8M857.6,831.4V833.8M942.2,831.4V833.8" stroke="#000" stroke-width="3" fill="none"/>
<rect x="515" y="505.2" width="60.9" height="48.6" fill="#c0cad7"/>
<text transform="translate(545,547) scale(0.97,1)" font-size="43" text-anchor="middle" class="lab" stroke="#c0cad7" stroke-width="0.5">e</text>
<text x="591.72" y="534.80" font-size="25.5" textLength="227.48" lengthAdjust="spacingAndGlyphs" >C1s of SF@Ca/TGA</text>
<text x="760.64" y="585.00" font-size="23.5" textLength="42.82" lengthAdjust="spacingAndGlyphs" >C-C</text>
<text x="750.60" y="611.00" font-size="23.5" textLength="61.37" lengthAdjust="spacingAndGlyphs" >284.8</text>
<text x="713.06" y="652.00" font-size="23.5" textLength="42.88" lengthAdjust="spacingAndGlyphs" >C-O</text>
<text x="704.93" y="678.00" font-size="23.5" textLength="59.53" lengthAdjust="spacingAndGlyphs" >286.4</text>
<text x="636.86" y="706.00" font-size="23.5" textLength="49.12" lengthAdjust="spacingAndGlyphs" >C=O</text>
<text x="631.72" y="736.00" font-size="23.5" textLength="60.33" lengthAdjust="spacingAndGlyphs" >287.9</text>
<line x1="675.4" y1="742" x2="709.4" y2="772.4" stroke="#000" stroke-width="1" marker-end="url(#ah)"/>
<line x1="752.6" y1="683.4" x2="786" y2="714.3" stroke="#000" stroke-width="1" marker-end="url(#ah)"/>
<line x1="800.8" y1="616.4" x2="840" y2="652" stroke="#000" stroke-width="1" marker-end="url(#ah)"/>
<g transform="translate(556.3,723.4) rotate(-90)">
<text x="-1.21" y="0.00" font-size="18" textLength="125.81" lengthAdjust="spacingAndGlyphs" stroke="#000" stroke-width="0.45">Intensity (a.u.)</text>
</g>
<text x="629.78" y="854.30" font-size="17.3" textLength="30.50" lengthAdjust="spacingAndGlyphs" >290</text>
<text x="714.41" y="854.30" font-size="17.3" textLength="30.31" lengthAdjust="spacingAndGlyphs" >288</text>
<text x="799.04" y="854.30" font-size="17.3" textLength="30.40" lengthAdjust="spacingAndGlyphs" >286</text>
<text x="883.69" y="854.30" font-size="17.3" textLength="29.84" lengthAdjust="spacingAndGlyphs" >284</text>
<text x="968.31" y="854.30" font-size="17.3" textLength="30.50" lengthAdjust="spacingAndGlyphs" >282</text>
<text x="695.00" y="885.60" font-size="18" textLength="176.71" lengthAdjust="spacingAndGlyphs" >Binding Energy (eV)</text>
<clipPath id="cb952"><rect x="1058.5" y="505.4" width="402.0" height="325.0"/></clipPath>
<g clip-path="url(#cb952)">
<path d="M1058.5,792.1 L1059.5,792.1 L1060.5,791.9 L1061.5,791.8 L1062.5,791.5 L1063.5,791.3 L1064.5,791.1 L1065.5,790.8 L1066.5,790.6 L1067.5,790.5 L1068.5,790.4 L1069.5,790.4 L1070.5,790.5 L1071.5,790.6 L1072.5,790.7 L1073.5,790.9 L1074.5,791.1 L1075.5,791.2 L1076.5,791.3 L1077.5,791.4 L1078.5,791.5 L1079.5,791.4 L1080.5,791.4 L1081.5,791.4 L1082.5,791.3 L1083.5,791.3 L1084.5,791.3 L1085.5,791.3 L1086.5,791.3 L1087.5,791.2 L1088.5,791.1 L1089.5,791.1 L1090.5,791.0 L1091.5,791.0 L1092.5,790.9 L1093.5,790.9 L1094.5,790.8 L1095.5,790.8 L1096.5,790.8 L1097.5,790.7 L1098.5,790.7 L1099.5,790.6 L1100.5,790.5 L1101.5,790.3 L1102.5,790.0 L1103.5,789.8 L1104.5,789.4 L1105.5,789.1 L1106.5,788.7 L1107.5,788.4 L1108.5,788.1 L1109.5,787.8 L1110.5,787.6 L1111.5,787.4 L1112.5,787.3 L1113.5,787.1 L1114.5,787.0 L1115.5,787.0 L1116.5,786.9 L1117.5,786.8 L1118.5,786.7 L1119.5,786.6 L1120.5,786.5 L1121.5,786.4 L1122.5,786.2 L1123.5,786.1 L1124.5,785.9 L1125.5,785.7 L1126.5,785.4 L1127.5,785.2 L1128.5,785.0 L1129.5,784.8 L1130.5,784.6 L1131.5,784.4 L1132.5,784.2 L1133.5,784.0 L1134.5,783.8 L1135.5,783.6 L1136.5,783.4 L1137.5,783.1 L1138.5,782.8 L1139.5,782.4 L1140.5,782.1 L1141.5,781.6 L1142.5,781.2 L1143.5,780.8 L1144.5,780.4 L1145.5,779.9 L1146.5,779.6 L1147.5,779.3 L1148.5,779.1 L1149.5,779.0 L1150.5,778.9 L1151.5,778.7 L1152.5,778.6 L1153.5,778.4 L1154.5,778.1 L1155.5,777.8 L1156.5,777.5 L1157.5,777.3 L1158.5,777.1 L1159.5,776.8 L1160.5,776.5 L1161.5,776.1 L1162.5,775.7 L1163.5,775.2 L1164.5,774.7 L1165.5,774.1 L1166.5,773.6 L1167.5,773.0 L1168.5,772.5 L1169.5,772.1 L1170.5,771.8 L1171.5,771.5 L1172.5,771.3 L1173.5,771.0 L1174.5,770.9 L1175.5,770.7 L1176.5,770.5 L1177.5,770.4 L1178.5,770.3 L1179.5,770.2 L1180.5,770.1 L1181.5,769.9 L1182.5,769.8 L1183.5,769.6 L1184.5,769.3 L1185.5,769.0 L1186.5,768.7 L1187.5,768.4 L1188.5,768.1 L1189.5,767.8 L1190.5,767.5 L1191.5,767.3 L1192.5,767.1 L1193.5,766.9 L1194.5,766.7 L1195.5,766.5 L1196.5,766.3 L1197.5,766.1 L1198.5,765.9 L1199.5,765.7 L1200.5,765.5 L1201.5,765.3 L1202.5,765.1 L1203.5,764.8 L1204.5,764.6 L1205.5,764.3 L1206.5,764.1 L1207.5,763.9 L1208.5,763.7 L1209.5,763.5 L1210.5,763.3 L1211.5,763.1 L1212.5,762.9 L1213.5,762.7 L1214.5,762.4 L1215.5,762.1 L1216.5,761.8 L1217.5,761.4 L1218.5,760.9 L1219.5,760.3 L1220.5,759.7 L1221.5,759.1 L1222.5,758.4 L1223.5,757.7 L1224.5,756.9 L1225.5,756.1 L1226.5,755.3 L1227.5,754.5 L1228.5,753.7 L1229.5,752.8 L1230.5,751.9 L1231.5,750.9 L1232.5,749.8 L1233.5,748.7 L1234.5,747.7 L1235.5,746.8 L1236.5,746.0 L1237.5,745.2 L1238.5,744.4 L1239.5,743.6 L1240.5,742.7 L1241.5,741.8 L1242.5,740.8 L1243.5,739.8 L1244.5,738.7 L1245.5,737.6 L1246.5,736.4 L1247.5,735.1 L1248.5,733.8 L1249.5,732.5 L1250.5,731.1 L1251.5,729.8 L1252.5,728.6 L1253.5,727.3 L1254.5,726.1 L1255.5,724.9 L1256.5,723.7 L1257.5,722.4 L1258.5,721.0 L1259.5,719.6 L1260.5,718.2 L1261.5,716.6 L1262.5,715.0 L1263.5,713.4 L1264.5,711.7 L1265.5,710.0 L1266.5,708.2 L1267.5,706.5 L1268.5,704.6 L1269.5,702.7 L1270.5,700.8 L1271.5,698.8 L1272.5,696.8 L1273.5,694.8 L1274.5,692.9 L1275.5,691.0 L1276.5,689.1 L1277.5,687.2 L1278.5,685.3 L1279.5,683.5 L1280.5,681.6 L1281.5,679.6 L1282.5,677.7 L1283.5,675.6 L1284.5,673.5 L1285.5,671.3 L1286.5,669.0 L1287.5,666.6 L1288.5,664.1 L1289.5,661.5 L1290.5,658.9 L1291.5,656.3 L1292.5,653.6 L1293.5,650.9 L1294.5,648.2 L1295.5,645.4 L1296.5,642.6 L1297.5,639.8 L1298.5,636.8 L1299.5,633.8 L1300.5,630.8 L1301.5,627.9 L1302.5,625.0 L1303.5,622.1 L1304.5,619.2 L1305.5,616.3 L1306.5,613.4 L1307.5,610.4 L1308.5,607.6 L1309.5,604.8 L1310.5,602.1 L1311.5,599.4 L1312.5,596.8 L1313.5,594.2 L1314.5,591.6 L1315.5,589.0 L1316.5,586.4 L1317.5,583.8 L1318.5,581.1 L1319.5,578.4 L1320.5,576.0 L1321.5,573.9 L1322.5,572.2 L1323.5,570.8 L1324.5,569.6 L1325.5,568.5 L1326.5,567.4 L1327.5,566.4 L1328.5,565.3 L1329.5,564.5 L1330.5,563.9 L1331.5,563.5 L1332.5,563.2 L1333.5,563.1 L1334.5,563.0 L1335.5,563.1 L1336.5,563.3 L1337.5,563.4 L1338.5,563.5 L1339.5,563.8 L1340.5,564.2 L1341.5,564.9 L1342.5,566.1 L1343.5,567.7 L1344.5,569.8 L1345.5,572.3 L1346.5,574.9 L1347.5,577.8 L1348.5,580.7 L1349.5,583.9 L1350.5,587.8 L1351.5,591.9 L1352.5,595.6 L1353.5,599.5 L1354.5,603.5 L1355.5,607.4 L1356.5,611.3 L1357.5,615.3 L1358.5,619.3 L1359.5,623.4 L1360.5,627.6 L1361.5,632.0 L1362.5,636.6 L1363.5,641.1 L1364.5,645.6 L1365.5,650.0 L1366.5,654.4 L1367.5,658.7 L1368.5,663.1 L1369.5,667.4 L1370.5,671.7 L1371.5,676.0 L1372.5,680.3 L1373.5,684.6 L1374.5,688.5 L1375.5,692.3 L1376.5,696.1 L1377.5,700.0 L1378.5,703.8 L1379.5,707.4 L1380.5,711.0 L1381.5,714.6 L1382.5,718.2 L1383.5,722.3 L1384.5,726.5 L1385.5,730.4 L1386.5,733.8 L1387.5,737.5 L1388.5,741.4 L1389.5,744.9 L1390.5,747.7 L1391.5,750.3 L1392.5,752.9 L1393.5,755.4 L1394.5,757.8 L1395.5,760.0 L1396.5,762.0 L1397.5,764.1 L1398.5,766.2 L1399.5,768.3 L1400.5,770.3 L1401.5,772.4 L1402.5,774.3 L1403.5,776.1 L1404.5,777.8 L1405.5,779.2 L1406.5,780.6 L1407.5,782.0 L1408.5,783.4 L1409.5,784.8 L1410.5,786.2 L1411.5,787.6 L1412.5,788.9 L1413.5,790.2 L1414.5,791.4 L1415.5,792.5 L1416.5,793.5 L1417.5,794.4 L1418.5,795.2 L1419.5,795.9 L1420.5,796.6 L1421.5,797.3 L1422.5,797.9 L1423.5,798.5 L1424.5,799.2 L1425.5,799.7 L1426.5,800.3 L1427.5,800.7 L1428.5,801.1 L1429.5,801.4 L1430.5,801.7 L1431.5,802.0 L1432.5,802.2 L1433.5,802.4 L1434.5,802.6 L1435.5,802.8 L1436.5,803.0 L1437.5,803.2 L1438.5,803.4 L1439.5,803.6 L1440.5,803.8 L1441.5,804.1 L1442.5,804.5 L1443.5,805.0 L1444.5,805.4 L1445.5,805.7 L1446.5,805.8 L1447.5,805.9 L1448.5,805.9 L1449.5,805.9 L1450.5,805.8 L1451.5,805.7 L1452.5,805.7 L1453.5,805.6 L1454.5,805.5 L1455.5,805.5 L1456.5,805.5 L1457.5,805.5 L1458.5,805.6 L1459.5,805.8 L1460.5,805.9" fill="none" stroke="#000" stroke-width="4.2" stroke-linejoin="round" stroke-linecap="butt" />
<path d="M1108.5,791.7 L1109.5,791.6 L1110.5,791.6 L1111.5,791.5 L1112.5,791.4 L1113.5,791.3 L1114.5,791.2 L1115.5,791.1 L1116.5,791.0 L1117.5,790.9 L1118.5,790.8 L1119.5,790.7 L1120.5,790.6 L1121.5,790.4 L1122.5,790.3 L1123.5,790.1 L1124.5,790.0 L1125.5,789.8 L1126.5,789.6 L1127.5,789.4 L1128.5,789.2 L1129.5,789.0 L1130.5,788.8 L1131.5,788.6 L1132.5,788.3 L1133.5,788.1 L1134.5,787.8 L1135.5,787.6 L1136.5,787.3 L1137.5,787.0 L1138.5,786.7 L1139.5,786.4 L1140.5,786.1 L1141.5,785.8 L1142.5,785.5 L1143.5,785.2 L1144.5,784.8 L1145.5,784.5 L1146.5,784.2 L1147.5,783.8 L1148.5,783.4 L1149.5,783.1 L1150.5,782.7 L1151.5,782.4 L1152.5,782.0 L1153.5,781.6 L1154.5,781.2 L1155.5,780.9 L1156.5,780.5 L1157.5,780.2 L1158.5,779.8 L1159.5,779.4 L1160.5,779.1 L1161.5,778.8 L1162.5,778.4 L1163.5,778.1 L1164.5,777.8 L1165.5,777.5 L1166.5,777.2 L1167.5,776.9 L1168.5,776.7 L1169.5,776.4 L1170.5,776.2 L1171.5,776.0 L1172.5,775.8 L1173.5,775.6 L1174.5,775.4 L1175.5,775.3 L1176.5,775.2 L1177.5,775.1 L1178.5,775.0 L1179.5,774.9 L1180.5,774.9 L1181.5,774.9 L1182.5,774.9 L1183.5,774.9 L1184.5,775.0 L1185.5,775.0 L1186.5,775.1 L1187.5,775.2 L1188.5,775.3 L1189.5,775.4 L1190.5,775.6 L1191.5,775.7 L1192.5,775.9 L1193.5,776.1 L1194.5,776.3 L1195.5,776.5 L1196.5,776.7 L1197.5,776.9 L1198.5,777.2 L1199.5,777.4 L1200.5,777.7 L1201.5,778.0 L1202.5,778.2 L1203.5,778.5 L1204.5,778.8 L1205.5,779.1 L1206.5,779.4 L1207.5,779.7 L1208.5,780.1 L1209.5,780.4 L1210.5,780.7 L1211.5,781.0 L1212.5,781.4 L1213.5,781.7 L1214.5,782.0 L1215.5,782.4 L1216.5,782.7 L1217.5,783.1 L1218.5,783.4 L1219.5,783.7 L1220.5,784.1 L1221.5,784.4 L1222.5,784.7 L1223.5,785.0 L1224.5,785.4 L1225.5,785.7 L1226.5,786.0 L1227.5,786.3 L1228.5,786.6 L1229.5,786.9 L1230.5,787.2 L1231.5,787.5 L1232.5,787.8 L1233.5,788.1 L1234.5,788.3 L1235.5,788.6 L1236.5,788.9 L1237.5,789.1 L1238.5,789.4 L1239.5,789.6 L1240.5,789.8 L1241.5,790.1 L1242.5,790.3 L1243.5,790.5 L1244.5,790.7 L1245.5,790.9 L1246.5,791.1 L1247.5,791.3 L1248.5,791.5 L1249.5,791.7 L1250.5,791.8 L1251.5,792.0 L1252.5,792.2 L1253.5,792.3 L1254.5,792.5 L1255.5,792.6 L1256.5,792.8 L1257.5,792.9 L1258.5,793.1 L1259.5,793.2 L1260.5,793.3 L1261.5,793.4 L1262.5,793.6 L1263.5,793.7 L1264.5,793.8 L1265.5,793.9 L1266.5,794.0 L1267.5,794.1" fill="none" stroke="#0000ff" stroke-width="3.9" stroke-linejoin="round" stroke-linecap="butt" />
<path d="M1145.5,791.8 L1146.5,791.7 L1147.5,791.7 L1148.5,791.6 L1149.5,791.6 L1150.5,791.5 L1151.5,791.5 L1152.5,791.4 L1153.5,791.4 L1154.5,791.3 L1155.5,791.3 L1156.5,791.2 L1157.5,791.1 L1158.5,791.1 L1159.5,791.0 L1160.5,790.9 L1161.5,790.8 L1162.5,790.7 L1163.5,790.7 L1164.5,790.6 L1165.5,790.4 L1166.5,790.3 L1167.5,790.2 L1168.5,790.1 L1169.5,790.0 L1170.5,789.8 L1171.5,789.7 L1172.5,789.6 L1173.5,789.4 L1174.5,789.2 L1175.5,789.1 L1176.5,788.9 L1177.5,788.7 L1178.5,788.5 L1179.5,788.3 L1180.5,788.1 L1181.5,787.9 L1182.5,787.6 L1183.5,787.4 L1184.5,787.1 L1185.5,786.9 L1186.5,786.6 L1187.5,786.3 L1188.5,786.0 L1189.5,785.7 L1190.5,785.3 L1191.5,785.0 L1192.5,784.6 L1193.5,784.3 L1194.5,783.9 L1195.5,783.5 L1196.5,783.1 L1197.5,782.7 L1198.5,782.2 L1199.5,781.8 L1200.5,781.3 L1201.5,780.8 L1202.5,780.3 L1203.5,779.8 L1204.5,779.3 L1205.5,778.7 L1206.5,778.2 L1207.5,777.6 L1208.5,777.0 L1209.5,776.4 L1210.5,775.7 L1211.5,775.1 L1212.5,774.4 L1213.5,773.7 L1214.5,773.0 L1215.5,772.3 L1216.5,771.6 L1217.5,770.8 L1218.5,770.0 L1219.5,769.2 L1220.5,768.4 L1221.5,767.6 L1222.5,766.8 L1223.5,765.9 L1224.5,765.1 L1225.5,764.2 L1226.5,763.3 L1227.5,762.3 L1228.5,761.4 L1229.5,760.5 L1230.5,759.5 L1231.5,758.5 L1232.5,757.6 L1233.5,756.6 L1234.5,755.6 L1235.5,754.5 L1236.5,753.5 L1237.5,752.5 L1238.5,751.4 L1239.5,750.4 L1240.5,749.3 L1241.5,748.3 L1242.5,747.2 L1243.5,746.1 L1244.5,745.1 L1245.5,744.0 L1246.5,742.9 L1247.5,741.8 L1248.5,740.7 L1249.5,739.7 L1250.5,738.6 L1251.5,737.5 L1252.5,736.5 L1253.5,735.4 L1254.5,734.3 L1255.5,733.3 L1256.5,732.3 L1257.5,731.2 L1258.5,730.2 L1259.5,729.2 L1260.5,728.3 L1261.5,727.3 L1262.5,726.4 L1263.5,725.4 L1264.5,724.5 L1265.5,723.6 L1266.5,722.8 L1267.5,721.9 L1268.5,721.1 L1269.5,720.3 L1270.5,719.5 L1271.5,718.8 L1272.5,718.1 L1273.5,717.4 L1274.5,716.8 L1275.5,716.2 L1276.5,715.6 L1277.5,715.0 L1278.5,714.5 L1279.5,714.0 L1280.5,713.6 L1281.5,713.2 L1282.5,712.9 L1283.5,712.5 L1284.5,712.2 L1285.5,712.0 L1286.5,711.8 L1287.5,711.7 L1288.5,711.5 L1289.5,711.5 L1290.5,711.4 L1291.5,711.4 L1292.5,711.5 L1293.5,711.6 L1294.5,711.7 L1295.5,711.9 L1296.5,712.2 L1297.5,712.5 L1298.5,712.8 L1299.5,713.2 L1300.5,713.6 L1301.5,714.1 L1302.5,714.6 L1303.5,715.2 L1304.5,715.8 L1305.5,716.4 L1306.5,717.1 L1307.5,717.9 L1308.5,718.6 L1309.5,719.4 L1310.5,720.2 L1311.5,721.1 L1312.5,722.0 L1313.5,722.9 L1314.5,723.9 L1315.5,724.8 L1316.5,725.8 L1317.5,726.9 L1318.5,727.9 L1319.5,729.0 L1320.5,730.1 L1321.5,731.2 L1322.5,732.3 L1323.5,733.5 L1324.5,734.6 L1325.5,735.8 L1326.5,736.9 L1327.5,738.1 L1328.5,739.3 L1329.5,740.5 L1330.5,741.7 L1331.5,742.9 L1332.5,744.1 L1333.5,745.3 L1334.5,746.6 L1335.5,747.8 L1336.5,749.0 L1337.5,750.2 L1338.5,751.4 L1339.5,752.6 L1340.5,753.8 L1341.5,755.0 L1342.5,756.1 L1343.5,757.3 L1344.5,758.5 L1345.5,759.6 L1346.5,760.8 L1347.5,761.9 L1348.5,763.0 L1349.5,764.1 L1350.5,765.2 L1351.5,766.3 L1352.5,767.3 L1353.5,768.4 L1354.5,769.4 L1355.5,770.4 L1356.5,771.4 L1357.5,772.4 L1358.5,773.4 L1359.5,774.3 L1360.5,775.3 L1361.5,776.2 L1362.5,777.1 L1363.5,777.9 L1364.5,778.8 L1365.5,779.6 L1366.5,780.5 L1367.5,781.3 L1368.5,782.1 L1369.5,782.8 L1370.5,783.6 L1371.5,784.3 L1372.5,785.0 L1373.5,785.7 L1374.5,786.4 L1375.5,787.0 L1376.5,787.7 L1377.5,788.3 L1378.5,788.9 L1379.5,789.5 L1380.5,790.1 L1381.5,790.6 L1382.5,791.2 L1383.5,791.7 L1384.5,792.2 L1385.5,792.7 L1386.5,793.1 L1387.5,793.6 L1388.5,794.1 L1389.5,794.5 L1390.5,794.9 L1391.5,795.3 L1392.5,795.7 L1393.5,796.1 L1394.5,796.4 L1395.5,796.8 L1396.5,797.1 L1397.5,797.4 L1398.5,797.8 L1399.5,798.1 L1400.5,798.4 L1401.5,798.6 L1402.5,798.9 L1403.5,799.2 L1404.5,799.4 L1405.5,799.7 L1406.5,799.9 L1407.5,800.1 L1408.5,800.3 L1409.5,800.6 L1410.5,800.8 L1411.5,800.9 L1412.5,801.1 L1413.5,801.3 L1414.5,801.5 L1415.5,801.6 L1416.5,801.8 L1417.5,802.0 L1418.5,802.1 L1419.5,802.2 L1420.5,802.4 L1421.5,802.5 L1422.5,802.6 L1423.5,802.7 L1424.5,802.9 L1425.5,803.0 L1426.5,803.1 L1427.5,803.2 L1428.5,803.3 L1429.5,803.4 L1430.5,803.5 L1431.5,803.5 L1432.5,803.6 L1433.5,803.7 L1434.5,803.8 L1435.5,803.9 L1436.5,803.9 L1437.5,804.0 L1438.5,804.1 L1439.5,804.1 L1440.5,804.2 L1441.5,804.2 L1442.5,804.3 L1443.5,804.4 L1444.5,804.4 L1445.5,804.5 L1446.5,804.5 L1447.5,804.6 L1448.5,804.6 L1449.5,804.6 L1450.5,804.7 L1451.5,804.7 L1452.5,804.8 L1453.5,804.8 L1454.5,804.8 L1455.5,804.9 L1456.5,804.9 L1457.5,805.0 L1458.5,805.0 L1459.5,805.0 L1460.5,805.0" fill="none" stroke="#00ff00" stroke-width="3.9" stroke-linejoin="round" stroke-linecap="butt" />
<path d="M1241.5,792.3 L1242.5,792.2 L1243.5,792.1 L1244.5,792.0 L1245.5,791.9 L1246.5,791.7 L1247.5,791.6 L1248.5,791.4 L1249.5,791.2 L1250.5,791.0 L1251.5,790.8 L1252.5,790.5 L1253.5,790.3 L1254.5,790.0 L1255.5,789.7 L1256.5,789.3 L1257.5,789.0 L1258.5,788.6 L1259.5,788.1 L1260.5,787.7 L1261.5,787.1 L1262.5,786.6 L1263.5,786.0 L1264.5,785.4 L1265.5,784.7 L1266.5,784.0 L1267.5,783.3 L1268.5,782.4 L1269.5,781.6 L1270.5,780.6 L1271.5,779.7 L1272.5,778.6 L1273.5,777.5 L1274.5,776.3 L1275.5,775.1 L1276.5,773.8 L1277.5,772.4 L1278.5,771.0 L1279.5,769.4 L1280.5,767.8 L1281.5,766.1 L1282.5,764.4 L1283.5,762.5 L1284.5,760.6 L1285.5,758.6 L1286.5,756.5 L1287.5,754.3 L1288.5,752.0 L1289.5,749.7 L1290.5,747.2 L1291.5,744.7 L1292.5,742.1 L1293.5,739.4 L1294.5,736.6 L1295.5,733.8 L1296.5,730.9 L1297.5,727.9 L1298.5,724.8 L1299.5,721.7 L1300.5,718.5 L1301.5,715.2 L1302.5,711.9 L1303.5,708.5 L1304.5,705.1 L1305.5,701.7 L1306.5,698.2 L1307.5,694.7 L1308.5,691.1 L1309.5,687.6 L1310.5,684.0 L1311.5,680.5 L1312.5,676.9 L1313.5,673.4 L1314.5,669.9 L1315.5,666.4 L1316.5,663.0 L1317.5,659.6 L1318.5,656.3 L1319.5,653.0 L1320.5,649.9 L1321.5,646.8 L1322.5,643.8 L1323.5,640.9 L1324.5,638.1 L1325.5,635.5 L1326.5,632.9 L1327.5,630.6 L1328.5,628.3 L1329.5,626.3 L1330.5,624.3 L1331.5,622.6 L1332.5,621.0 L1333.5,619.6 L1334.5,618.4 L1335.5,617.4 L1336.5,616.6 L1337.5,615.9 L1338.5,615.5 L1339.5,615.3 L1340.5,615.3 L1341.5,615.5 L1342.5,616.0 L1343.5,616.7 L1344.5,617.7 L1345.5,618.9 L1346.5,620.4 L1347.5,622.2 L1348.5,624.1 L1349.5,626.3 L1350.5,628.7 L1351.5,631.3 L1352.5,634.0 L1353.5,637.0 L1354.5,640.1 L1355.5,643.3 L1356.5,646.6 L1357.5,650.1 L1358.5,653.7 L1359.5,657.3 L1360.5,661.0 L1361.5,664.8 L1362.5,668.6 L1363.5,672.5 L1364.5,676.4 L1365.5,680.3 L1366.5,684.2 L1367.5,688.1 L1368.5,692.0 L1369.5,695.9 L1370.5,699.7 L1371.5,703.5 L1372.5,707.3 L1373.5,711.0 L1374.5,714.7 L1375.5,718.3 L1376.5,721.8 L1377.5,725.3 L1378.5,728.7 L1379.5,732.0 L1380.5,735.2 L1381.5,738.3 L1382.5,741.4 L1383.5,744.3 L1384.5,747.2 L1385.5,750.0 L1386.5,752.7 L1387.5,755.3 L1388.5,757.8 L1389.5,760.2 L1390.5,762.5 L1391.5,764.8 L1392.5,766.9 L1393.5,768.9 L1394.5,770.9 L1395.5,772.8 L1396.5,774.6 L1397.5,776.3 L1398.5,777.9 L1399.5,779.4 L1400.5,780.9 L1401.5,782.3 L1402.5,783.6 L1403.5,784.9 L1404.5,786.1 L1405.5,787.2 L1406.5,788.3 L1407.5,789.3 L1408.5,790.2 L1409.5,791.1 L1410.5,792.0 L1411.5,792.8 L1412.5,793.5 L1413.5,794.2 L1414.5,794.9 L1415.5,795.5 L1416.5,796.1 L1417.5,796.6 L1418.5,797.1 L1419.5,797.6 L1420.5,798.1 L1421.5,798.5 L1422.5,798.9 L1423.5,799.2 L1424.5,799.6 L1425.5,799.9 L1426.5,800.2 L1427.5,800.5 L1428.5,800.8 L1429.5,801.0 L1430.5,801.3 L1431.5,801.5 L1432.5,801.7 L1433.5,801.9 L1434.5,802.1 L1435.5,802.3 L1436.5,802.4 L1437.5,802.6 L1438.5,802.7 L1439.5,802.9 L1440.5,803.0 L1441.5,803.1 L1442.5,803.3 L1443.5,803.4 L1444.5,803.5 L1445.5,803.6 L1446.5,803.7 L1447.5,803.8 L1448.5,803.9 L1449.5,804.0 L1450.5,804.0 L1451.5,804.1 L1452.5,804.2 L1453.5,804.3 L1454.5,804.3 L1455.5,804.4 L1456.5,804.5 L1457.5,804.5 L1458.5,804.6 L1459.5,804.6 L1460.5,804.7" fill="none" stroke="#ff0000" stroke-width="3.9" stroke-linejoin="round" stroke-linecap="butt" />
<path d="M1058.5,792.5 L1059.5,792.5 L1060.5,792.5 L1061.5,792.5 L1062.5,792.5 L1063.5,792.5 L1064.5,792.5 L1065.5,792.5 L1066.5,792.5 L1067.5,792.5 L1068.5,792.5 L1069.5,792.5 L1070.5,792.5 L1071.5,792.5 L1072.5,792.5 L1073.5,792.5 L1074.5,792.5 L1075.5,792.5 L1076.5,792.5 L1077.5,792.5 L1078.5,792.5 L1079.5,792.5 L1080.5,792.5 L1081.5,792.5 L1082.5,792.5 L1083.5,792.5 L1084.5,792.5 L1085.5,792.5 L1086.5,792.5 L1087.5,792.5 L1088.5,792.5 L1089.5,792.5 L1090.5,792.5 L1091.5,792.5 L1092.5,792.5 L1093.5,792.5 L1094.5,792.5 L1095.5,792.5 L1096.5,792.5 L1097.5,792.5 L1098.5,792.5 L1099.5,792.5 L1100.5,792.5 L1101.5,792.5 L1102.5,792.5 L1103.5,792.5 L1104.5,792.5 L1105.5,792.5 L1106.5,792.5 L1107.5,792.5 L1108.5,792.5 L1109.5,792.5 L1110.5,792.5 L1111.5,792.5 L1112.5,792.5 L1113.5,792.5 L1114.5,792.5 L1115.5,792.5 L1116.5,792.5 L1117.5,792.5 L1118.5,792.5 L1119.5,792.5 L1120.5,792.5 L1121.5,792.5 L1122.5,792.5 L1123.5,792.5 L1124.5,792.5 L1125.5,792.5 L1126.5,792.5 L1127.5,792.5 L1128.5,792.5 L1129.5,792.5 L1130.5,792.5 L1131.5,792.5 L1132.5,792.5 L1133.5,792.5 L1134.5,792.5 L1135.5,792.6 L1136.5,792.6 L1137.5,792.6 L1138.5,792.6 L1139.5,792.6 L1140.5,792.6 L1141.5,792.6 L1142.5,792.6 L1143.5,792.6 L1144.5,792.6 L1145.5,792.6 L1146.5,792.6 L1147.5,792.6 L1148.5,792.6 L1149.5,792.6 L1150.5,792.6 L1151.5,792.6 L1152.5,792.6 L1153.5,792.6 L1154.5,792.6 L1155.5,792.7 L1156.5,792.7 L1157.5,792.7 L1158.5,792.7 L1159.5,792.7 L1160.5,792.7 L1161.5,792.7 L1162.5,792.7 L1163.5,792.7 L1164.5,792.7 L1165.5,792.7 L1166.5,792.7 L1167.5,792.8 L1168.5,792.8 L1169.5,792.8 L1170.5,792.8 L1171.5,792.8 L1172.5,792.8 L1173.5,792.8 L1174.5,792.8 L1175.5,792.8 L1176.5,792.9 L1177.5,792.9 L1178.5,792.9 L1179.5,792.9 L1180.5,792.9 L1181.5,792.9 L1182.5,792.9 L1183.5,792.9 L1184.5,793.0 L1185.5,793.0 L1186.5,793.0 L1187.5,793.0 L1188.5,793.0 L1189.5,793.0 L1190.5,793.0 L1191.5,793.1 L1192.5,793.1 L1193.5,793.1 L1194.5,793.1 L1195.5,793.1 L1196.5,793.1 L1197.5,793.1 L1198.5,793.2 L1199.5,793.2 L1200.5,793.2 L1201.5,793.2 L1202.5,793.2 L1203.5,793.2 L1204.5,793.2 L1205.5,793.3 L1206.5,793.3 L1207.5,793.3 L1208.5,793.3 L1209.5,793.3 L1210.5,793.3 L1211.5,793.4 L1212.5,793.4 L1213.5,793.4 L1214.5,793.4 L1215.5,793.4 L1216.5,793.4 L1217.5,793.5 L1218.5,793.5 L1219.5,793.5 L1220.5,793.5 L1221.5,793.5 L1222.5,793.6 L1223.5,793.6 L1224.5,793.6 L1225.5,793.6 L1226.5,793.6 L1227.5,793.7 L1228.5,793.7 L1229.5,793.7 L1230.5,793.7 L1231.5,793.7 L1232.5,793.8 L1233.5,793.8 L1234.5,793.8 L1235.5,793.8 L1236.5,793.9 L1237.5,793.9 L1238.5,793.9 L1239.5,794.0 L1240.5,794.0 L1241.5,794.0 L1242.5,794.0 L1243.5,794.1 L1244.5,794.1 L1245.5,794.1 L1246.5,794.2 L1247.5,794.2 L1248.5,794.2 L1249.5,794.2 L1250.5,794.3 L1251.5,794.3 L1252.5,794.4 L1253.5,794.4 L1254.5,794.4 L1255.5,794.5 L1256.5,794.5 L1257.5,794.5 L1258.5,794.6 L1259.5,794.6 L1260.5,794.7 L1261.5,794.7 L1262.5,794.7 L1263.5,794.8 L1264.5,794.8 L1265.5,794.9 L1266.5,794.9 L1267.5,795.0 L1268.5,795.0 L1269.5,795.1 L1270.5,795.1 L1271.5,795.2 L1272.5,795.2 L1273.5,795.3 L1274.5,795.3 L1275.5,795.4 L1276.5,795.4 L1277.5,795.5 L1278.5,795.5 L1279.5,795.6 L1280.5,795.7 L1281.5,795.7 L1282.5,795.8 L1283.5,795.8 L1284.5,795.9 L1285.5,796.0 L1286.5,796.0 L1287.5,796.1 L1288.5,796.2 L1289.5,796.3 L1290.5,796.3 L1291.5,796.4 L1292.5,796.5 L1293.5,796.6 L1294.5,796.6 L1295.5,796.7 L1296.5,796.8 L1297.5,796.9 L1298.5,797.0 L1299.5,797.0 L1300.5,797.1 L1301.5,797.2 L1302.5,797.3 L1303.5,797.4 L1304.5,797.5 L1305.5,797.6 L1306.5,797.7 L1307.5,797.8 L1308.5,797.9 L1309.5,798.0 L1310.5,798.1 L1311.5,798.2 L1312.5,798.3 L1313.5,798.4 L1314.5,798.5 L1315.5,798.7 L1316.5,798.8 L1317.5,798.9 L1318.5,799.0 L1319.5,799.1 L1320.5,799.2 L1321.5,799.4 L1322.5,799.5 L1323.5,799.6 L1324.5,799.7 L1325.5,799.8 L1326.5,800.0 L1327.5,800.1 L1328.5,800.2 L1329.5,800.3 L1330.5,800.5 L1331.5,800.6 L1332.5,800.7 L1333.5,800.9 L1334.5,801.0 L1335.5,801.1 L1336.5,801.2 L1337.5,801.4 L1338.5,801.5 L1339.5,801.6 L1340.5,801.8 L1341.5,801.9 L1342.5,802.0 L1343.5,802.1 L1344.5,802.3 L1345.5,802.4 L1346.5,802.5 L1347.5,802.6 L1348.5,802.7 L1349.5,802.9 L1350.5,803.0 L1351.5,803.1 L1352.5,803.2 L1353.5,803.3 L1354.5,803.4 L1355.5,803.5 L1356.5,803.6 L1357.5,803.7 L1358.5,803.8 L1359.5,803.9 L1360.5,804.0 L1361.5,804.1 L1362.5,804.2 L1363.5,804.3 L1364.5,804.4 L1365.5,804.4 L1366.5,804.5 L1367.5,804.6 L1368.5,804.7 L1369.5,804.7 L1370.5,804.8 L1371.5,804.9 L1372.5,804.9 L1373.5,805.0 L1374.5,805.1 L1375.5,805.1 L1376.5,805.2 L1377.5,805.2 L1378.5,805.3 L1379.5,805.3 L1380.5,805.4 L1381.5,805.4 L1382.5,805.5 L1383.5,805.5 L1384.5,805.5 L1385.5,805.6 L1386.5,805.6 L1387.5,805.6 L1388.5,805.7 L1389.5,805.7 L1390.5,805.7 L1391.5,805.8 L1392.5,805.8 L1393.5,805.8 L1394.5,805.8 L1395.5,805.9 L1396.5,805.9 L1397.5,805.9 L1398.5,805.9 L1399.5,805.9 L1400.5,806.0 L1401.5,806.0 L1402.5,806.0 L1403.5,806.0 L1404.5,806.0 L1405.5,806.0 L1406.5,806.0 L1407.5,806.1 L1408.5,806.1 L1409.5,806.1 L1410.5,806.1 L1411.5,806.1 L1412.5,806.1 L1413.5,806.1 L1414.5,806.1 L1415.5,806.1 L1416.5,806.1 L1417.5,806.2 L1418.5,806.2 L1419.5,806.2 L1420.5,806.2 L1421.5,806.2 L1422.5,806.2 L1423.5,806.2 L1424.5,806.2 L1425.5,806.2 L1426.5,806.2 L1427.5,806.2 L1428.5,806.2 L1429.5,806.2 L1430.5,806.2 L1431.5,806.2 L1432.5,806.2 L1433.5,806.2 L1434.5,806.2 L1435.5,806.2 L1436.5,806.2 L1437.5,806.2 L1438.5,806.3 L1439.5,806.3 L1440.5,806.3 L1441.5,806.3 L1442.5,806.3 L1443.5,806.3 L1444.5,806.3 L1445.5,806.3 L1446.5,806.3 L1447.5,806.3 L1448.5,806.3 L1449.5,806.3 L1450.5,806.3 L1451.5,806.3 L1452.5,806.3 L1453.5,806.3 L1454.5,806.3 L1455.5,806.3 L1456.5,806.3 L1457.5,806.3 L1458.5,806.3 L1459.5,806.3 L1460.5,806.3" fill="none" stroke="#00ffff" stroke-width="3.8" stroke-linejoin="round" stroke-linecap="butt" />
<path d="M1058.5,792.4 L1059.5,792.4 L1060.5,792.4 L1061.5,792.4 L1062.5,792.3 L1063.5,792.3 L1064.5,792.3 L1065.5,792.2 L1066.5,792.2 L1067.5,792.2 L1068.5,792.1 L1069.5,792.1 L1070.5,792.0 L1071.5,792.0 L1072.5,791.9 L1073.5,791.8 L1074.5,791.8 L1075.5,791.7 L1076.5,791.6 L1077.5,791.6 L1078.5,791.5 L1079.5,791.4 L1080.5,791.4 L1081.5,791.3 L1082.5,791.2 L1083.5,791.2 L1084.5,791.1 L1085.5,791.0 L1086.5,791.0 L1087.5,790.9 L1088.5,790.8 L1089.5,790.8 L1090.5,790.7 L1091.5,790.7 L1092.5,790.6 L1093.5,790.6 L1094.5,790.5 L1095.5,790.5 L1096.5,790.5 L1097.5,790.4 L1098.5,790.4 L1099.5,790.3 L1100.5,790.3 L1101.5,790.2 L1102.5,790.1 L1103.5,790.1 L1104.5,790.0 L1105.5,789.9 L1106.5,789.8 L1107.5,789.6 L1108.5,789.5 L1109.5,789.4 L1110.5,789.2 L1111.5,789.1 L1112.5,788.9 L1113.5,788.8 L1114.5,788.6 L1115.5,788.4 L1116.5,788.3 L1117.5,788.1 L1118.5,787.9 L1119.5,787.7 L1120.5,787.5 L1121.5,787.3 L1122.5,787.1 L1123.5,786.9 L1124.5,786.7 L1125.5,786.5 L1126.5,786.2 L1127.5,786.0 L1128.5,785.8 L1129.5,785.6 L1130.5,785.4 L1131.5,785.2 L1132.5,785.0 L1133.5,784.8 L1134.5,784.6 L1135.5,784.4 L1136.5,784.2 L1137.5,784.0 L1138.5,783.7 L1139.5,783.5 L1140.5,783.2 L1141.5,783.0 L1142.5,782.7 L1143.5,782.3 L1144.5,782.0 L1145.5,781.6 L1146.5,781.3 L1147.5,780.9 L1148.5,780.6 L1149.5,780.2 L1150.5,779.9 L1151.5,779.6 L1152.5,779.2 L1153.5,778.9 L1154.5,778.6 L1155.5,778.2 L1156.5,777.9 L1157.5,777.5 L1158.5,777.1 L1159.5,776.7 L1160.5,776.3 L1161.5,775.8 L1162.5,775.4 L1163.5,775.0 L1164.5,774.7 L1165.5,774.3 L1166.5,773.9 L1167.5,773.6 L1168.5,773.2 L1169.5,772.9 L1170.5,772.6 L1171.5,772.3 L1172.5,771.9 L1173.5,771.6 L1174.5,771.3 L1175.5,771.0 L1176.5,770.7 L1177.5,770.4 L1178.5,770.2 L1179.5,770.0 L1180.5,769.9 L1181.5,769.7 L1182.5,769.6 L1183.5,769.5 L1184.5,769.4 L1185.5,769.3 L1186.5,769.2 L1187.5,769.1 L1188.5,768.9 L1189.5,768.8 L1190.5,768.6 L1191.5,768.4 L1192.5,768.2 L1193.5,768.0 L1194.5,767.8 L1195.5,767.6 L1196.5,767.4 L1197.5,767.2 L1198.5,767.0 L1199.5,766.8 L1200.5,766.6 L1201.5,766.4 L1202.5,766.2 L1203.5,765.9 L1204.5,765.7 L1205.5,765.4 L1206.5,765.1 L1207.5,764.8 L1208.5,764.5 L1209.5,764.2 L1210.5,763.9 L1211.5,763.6 L1212.5,763.2 L1213.5,762.8 L1214.5,762.4 L1215.5,762.0 L1216.5,761.6 L1217.5,761.2 L1218.5,760.7 L1219.5,760.2 L1220.5,759.7 L1221.5,759.2 L1222.5,758.6 L1223.5,758.0 L1224.5,757.4 L1225.5,756.7 L1226.5,756.0 L1227.5,755.2 L1228.5,754.5 L1229.5,753.7 L1230.5,752.8 L1231.5,752.0 L1232.5,751.2 L1233.5,750.3 L1234.5,749.4 L1235.5,748.5 L1236.5,747.6 L1237.5,746.7 L1238.5,745.8 L1239.5,744.7 L1240.5,743.6 L1241.5,742.5 L1242.5,741.3 L1243.5,740.0 L1244.5,738.7 L1245.5,737.5 L1246.5,736.1 L1247.5,734.8 L1248.5,733.5 L1249.5,732.2 L1250.5,730.9 L1251.5,729.7 L1252.5,728.5 L1253.5,727.3 L1254.5,726.1 L1255.5,724.9 L1256.5,723.7 L1257.5,722.5 L1258.5,721.2 L1259.5,719.9 L1260.5,718.5 L1261.5,717.1 L1262.5,715.6 L1263.5,714.0 L1264.5,712.4 L1265.5,710.7 L1266.5,709.0 L1267.5,707.3 L1268.5,705.5 L1269.5,703.7 L1270.5,701.8 L1271.5,700.0 L1272.5,698.2 L1273.5,696.3 L1274.5,694.5 L1275.5,692.6 L1276.5,690.8 L1277.5,688.9 L1278.5,687.0 L1279.5,685.0 L1280.5,683.0 L1281.5,681.0 L1282.5,678.9 L1283.5,676.7 L1284.5,674.5 L1285.5,672.2 L1286.5,669.8 L1287.5,667.4 L1288.5,664.9 L1289.5,662.3 L1290.5,659.7 L1291.5,657.1 L1292.5,654.4 L1293.5,651.7 L1294.5,649.0 L1295.5,646.2 L1296.5,643.4 L1297.5,640.6 L1298.5,637.6 L1299.5,634.6 L1300.5,631.6 L1301.5,628.5 L1302.5,625.4 L1303.5,622.2 L1304.5,619.2 L1305.5,616.1 L1306.5,613.2 L1307.5,610.3 L1308.5,607.4 L1309.5,604.7 L1310.5,602.0 L1311.5,599.3 L1312.5,596.7 L1313.5,594.2 L1314.5,591.7 L1315.5,589.2 L1316.5,586.8 L1317.5,584.4 L1318.5,582.0 L1319.5,579.8 L1320.5,577.8 L1321.5,575.9 L1322.5,574.1 L1323.5,572.5 L1324.5,571.0 L1325.5,569.6 L1326.5,568.2 L1327.5,566.9 L1328.5,565.8 L1329.5,565.0 L1330.5,564.4 L1331.5,564.0 L1332.5,563.7 L1333.5,563.6 L1334.5,563.5 L1335.5,563.6 L1336.5,563.8 L1337.5,564.2 L1338.5,564.7 L1339.5,565.4 L1340.5,566.3 L1341.5,567.4 L1342.5,568.8 L1343.5,570.5 L1344.5,572.5 L1345.5,574.8 L1346.5,577.2 L1347.5,579.9 L1348.5,582.7 L1349.5,585.8 L1350.5,589.0 L1351.5,592.5 L1352.5,596.1 L1353.5,599.9 L1354.5,603.8 L1355.5,607.7 L1356.5,611.4 L1357.5,615.3 L1358.5,619.1 L1359.5,623.1 L1360.5,627.3 L1361.5,631.7 L1362.5,636.3 L1363.5,640.9 L1364.5,645.4 L1365.5,649.8 L1366.5,654.3 L1367.5,658.6 L1368.5,663.0 L1369.5,667.3 L1370.5,671.6 L1371.5,676.0 L1372.5,680.3 L1373.5,684.6 L1374.5,688.6 L1375.5,692.5 L1376.5,696.4 L1377.5,700.3 L1378.5,704.2 L1379.5,707.9 L1380.5,711.5 L1381.5,715.0 L1382.5,718.7 L1383.5,722.7 L1384.5,726.7 L1385.5,730.5 L1386.5,733.8 L1387.5,737.5 L1388.5,741.4 L1389.5,744.9 L1390.5,747.7 L1391.5,750.3 L1392.5,752.9 L1393.5,755.4 L1394.5,757.8 L1395.5,760.0 L1396.5,762.1 L1397.5,764.4 L1398.5,766.7 L1399.5,769.1 L1400.5,771.5 L1401.5,773.7 L1402.5,775.9 L1403.5,777.8 L1404.5,779.5 L1405.5,780.9 L1406.5,782.3 L1407.5,783.7 L1408.5,785.1 L1409.5,786.5 L1410.5,787.9 L1411.5,789.3 L1412.5,790.6 L1413.5,791.8 L1414.5,792.9 L1415.5,793.9 L1416.5,794.7 L1417.5,795.4 L1418.5,796.1 L1419.5,796.8 L1420.5,797.4 L1421.5,798.0 L1422.5,798.6 L1423.5,799.2 L1424.5,799.8 L1425.5,800.3 L1426.5,800.8 L1427.5,801.2 L1428.5,801.6 L1429.5,802.0 L1430.5,802.3 L1431.5,802.6 L1432.5,802.9 L1433.5,803.2 L1434.5,803.5 L1435.5,803.7 L1436.5,804.0 L1437.5,804.2 L1438.5,804.4 L1439.5,804.6 L1440.5,804.8 L1441.5,805.0 L1442.5,805.2 L1443.5,805.3 L1444.5,805.5 L1445.5,805.6 L1446.5,805.6 L1447.5,805.7 L1448.5,805.7 L1449.5,805.8 L1450.5,805.8 L1451.5,805.8 L1452.5,805.8 L1453.5,805.9 L1454.5,805.9 L1455.5,805.9 L1456.5,806.0 L1457.5,806.0 L1458.5,806.1 L1459.5,806.2 L1460.5,806.2" fill="none" stroke="#ff00ff" stroke-width="4.2" stroke-linejoin="round" stroke-linecap="butt" />
</g>
<rect x="1059.6" y="505.4" width="400.9" height="324.1" fill="none" stroke="#000" stroke-width="3"/>
<path d="M1122.9,830.5V835.9M1207.3,830.5V835.9M1291.7,830.5V835.9M1376.1,830.5V835.9M1460.5,830.5V835.9M1080.7,830.5V832.9M1165.1,830.5V832.9M1249.5,830.5V832.9M1333.9,830.5V832.9M1418.3,830.5V832.9" stroke="#000" stroke-width="3" fill="none"/>
<rect x="992" y="505.2" width="60" height="48.6" fill="#c0cad7"/>
<text transform="translate(1021,546) scale(1.1,1)" font-size="44.8" text-anchor="middle" class="lab" stroke="#c0cad7" stroke-width="0.5">f</text>
<text x="1068.83" y="535.80" font-size="24.4" textLength="284.41" lengthAdjust="spacingAndGlyphs" >C1s of SF@Ca/TGA/ADD</text>
<text x="1236.64" y="585.00" font-size="23.5" textLength="42.82" lengthAdjust="spacingAndGlyphs" >C-C</text>
<text x="1226.60" y="611.00" font-size="23.5" textLength="61.37" lengthAdjust="spacingAndGlyphs" >284.8</text>
<text x="1189.06" y="652.00" font-size="23.5" textLength="42.88" lengthAdjust="spacingAndGlyphs" >C-O</text>
<text x="1180.92" y="678.00" font-size="23.5" textLength="60.14" lengthAdjust="spacingAndGlyphs" >285.8</text>
<text x="1112.86" y="706.00" font-size="23.5" textLength="49.12" lengthAdjust="spacingAndGlyphs" >C=O</text>
<text x="1107.72" y="736.00" font-size="23.5" textLength="60.27" lengthAdjust="spacingAndGlyphs" >288.3</text>
<line x1="1152.4" y1="742" x2="1185.4" y2="771.7" stroke="#000" stroke-width="1" marker-end="url(#ah)"/>
<line x1="1229.6" y1="683.4" x2="1262.6" y2="713.7" stroke="#000" stroke-width="1" marker-end="url(#ah)"/>
<line x1="1276.8" y1="616.4" x2="1317" y2="652" stroke="#000" stroke-width="1" marker-end="url(#ah)"/>
<g transform="translate(1032.3,715.8) rotate(-90)">
<text x="-1.21" y="0.00" font-size="18" textLength="125.81" lengthAdjust="spacingAndGlyphs" stroke="#000" stroke-width="0.45">Intensity (a.u.)</text>
</g>
<text x="1106.71" y="854.30" font-size="17.3" textLength="30.50" lengthAdjust="spacingAndGlyphs" >290</text>
<text x="1191.11" y="854.30" font-size="17.3" textLength="30.31" lengthAdjust="spacingAndGlyphs" >288</text>
<text x="1275.51" y="854.30" font-size="17.3" textLength="30.40" lengthAdjust="spacingAndGlyphs" >286</text>
<text x="1359.92" y="854.30" font-size="17.3" textLength="29.84" lengthAdjust="spacingAndGlyphs" >284</text>
<text x="1444.31" y="854.30" font-size="17.3" textLength="30.50" lengthAdjust="spacingAndGlyphs" >282</text>
<text x="1171.00" y="885.60" font-size="18" textLength="176.71" lengthAdjust="spacingAndGlyphs" >Binding Energy (eV)</text>
</svg>
</body></html>
